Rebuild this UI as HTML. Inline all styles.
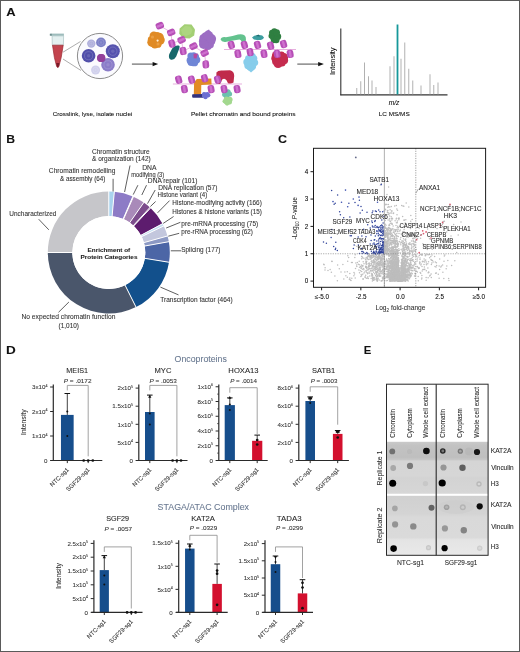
<!DOCTYPE html>
<html><head><meta charset="utf-8"><style>
html,body{margin:0;padding:0;background:#fff;}
body{width:520px;height:652px;overflow:hidden;}
svg{display:block;filter:blur(0.4px);font-family:"Liberation Sans", sans-serif;}
text{stroke:#333;stroke-width:0.08px;}
</style></head><body>
<svg width="520" height="652" viewBox="0 0 520 652">
<rect x="0" y="0" width="520" height="652" fill="#fff"/>
<text x="6.28" y="16.20" font-size="11.8" font-weight="bold" fill="#111" textLength="9.38" lengthAdjust="spacingAndGlyphs">A</text>
<text x="6.21" y="142.50" font-size="11.8" font-weight="bold" fill="#111" textLength="8.81" lengthAdjust="spacingAndGlyphs">B</text>
<text x="277.90" y="142.70" font-size="11.8" font-weight="bold" fill="#111" textLength="9.04" lengthAdjust="spacingAndGlyphs">C</text>
<text x="6.12" y="354.20" font-size="11.8" font-weight="bold" fill="#111" textLength="9.75" lengthAdjust="spacingAndGlyphs">D</text>
<text x="363.76" y="354.40" font-size="11.8" font-weight="bold" fill="#111" textLength="7.56" lengthAdjust="spacingAndGlyphs">E</text>
<path d="M50.3,33.6 L63.9,33.6 L63.9,35.9 L50.3,35.9 Z" fill="#9dbcbc"/>
<rect x="49.8" y="33.8" width="2" height="1.8" fill="#6f8f8f"/>
<path d="M52.1,35.9 L63.6,35.9 L63.4,45.3 L52.3,45.3 Z" fill="#e4f0f0" stroke="#b4caca" stroke-width="0.8"/>
<path d="M52.5,45.2 L63.2,45.2 L61.2,57.5 L59.0,66.2 Q57.8,69 56.6,66.2 L54.4,57.5 Z" fill="#c3444e" stroke="#9a2a34" stroke-width="0.7"/>
<path d="M56.2,63 L59.4,63 L58.6,66.6 Q57.8,68.6 57.0,66.6 Z" fill="#7a1a28"/>
<line x1="63.00" y1="52.20" x2="80.50" y2="41.50" stroke="#8a8a8a" stroke-width="0.7"/>
<line x1="63.00" y1="59.00" x2="81.00" y2="70.50" stroke="#8a8a8a" stroke-width="0.7"/>
<circle cx="100.00" cy="56.00" r="22.60" fill="#fbfbfe" stroke="#8c8c8c" stroke-width="1"/>
<defs><filter id="cb" x="-30%" y="-30%" width="160%" height="160%"><feGaussianBlur stdDeviation="0.45"/></filter></defs>
<g filter="url(#cb)">
<circle cx="91.30" cy="43.60" r="4.20" fill="#b0b0dc"/>
<circle cx="91.30" cy="43.60" r="2.52" fill="#b0b0dc" fill-opacity="0.6" stroke="#ffffff" stroke-opacity="0.22" stroke-width="0.7"/>
<circle cx="91.30" cy="43.60" r="1.05" fill="#ffffff" fill-opacity="0.12"/>
<circle cx="101.00" cy="42.40" r="4.90" fill="#7b7fc6"/>
<circle cx="101.00" cy="42.40" r="2.94" fill="#7b7fc6" fill-opacity="0.6" stroke="#ffffff" stroke-opacity="0.22" stroke-width="0.7"/>
<circle cx="101.00" cy="42.40" r="1.23" fill="#ffffff" fill-opacity="0.12"/>
<circle cx="88.60" cy="55.70" r="6.80" fill="#5150aa"/>
<circle cx="88.60" cy="55.70" r="4.08" fill="#5150aa" fill-opacity="0.6" stroke="#ffffff" stroke-opacity="0.22" stroke-width="0.7"/>
<circle cx="88.60" cy="55.70" r="1.70" fill="#ffffff" fill-opacity="0.12"/>
<circle cx="112.80" cy="51.20" r="7.00" fill="#5552ae"/>
<circle cx="112.80" cy="51.20" r="4.20" fill="#5552ae" fill-opacity="0.6" stroke="#ffffff" stroke-opacity="0.22" stroke-width="0.7"/>
<circle cx="112.80" cy="51.20" r="1.75" fill="#ffffff" fill-opacity="0.12"/>
<circle cx="108.00" cy="64.80" r="6.80" fill="#8a7cc8"/>
<circle cx="108.00" cy="64.80" r="4.08" fill="#8a7cc8" fill-opacity="0.6" stroke="#ffffff" stroke-opacity="0.22" stroke-width="0.7"/>
<circle cx="108.00" cy="64.80" r="1.70" fill="#ffffff" fill-opacity="0.12"/>
<circle cx="101.20" cy="58.00" r="4.10" fill="#94449c"/>
<circle cx="101.20" cy="58.00" r="2.46" fill="#94449c" fill-opacity="0.6" stroke="#ffffff" stroke-opacity="0.22" stroke-width="0.7"/>
<circle cx="101.20" cy="58.00" r="1.02" fill="#ffffff" fill-opacity="0.12"/>
<circle cx="95.60" cy="70.00" r="4.50" fill="#d0d0ec"/>
<circle cx="95.60" cy="70.00" r="2.70" fill="#d0d0ec" fill-opacity="0.6" stroke="#ffffff" stroke-opacity="0.22" stroke-width="0.7"/>
<circle cx="95.60" cy="70.00" r="1.12" fill="#ffffff" fill-opacity="0.12"/>
<circle cx="101.20" cy="58.00" r="4.10" fill="#93409a"/>
</g>
<line x1="131.90" y1="64.10" x2="153.50" y2="64.10" stroke="#6a6a6a" stroke-width="1.2"/>
<path d="M152.6,61.9 L158.2,64.1 L152.6,66.3 Z" fill="#111"/>
<line x1="297.30" y1="64.10" x2="319.00" y2="64.10" stroke="#6a6a6a" stroke-width="1.2"/>
<path d="M318.2,61.9 L323.9,64.1 L318.2,66.3 Z" fill="#111"/>
<polyline points="159.8,25.7 171.2,32.4 171.9,43.6 181.6,39.9 183.1,51.0 193.5,46.2 204.6,53.0 205.8,64.4" fill="none" stroke="#dc8cd0" stroke-width="0.6"/>
<polyline points="224.0,49.5 296.0,49.5" fill="none" stroke="#dc8cd0" stroke-width="0.7"/>
<polyline points="172.9,84.0 242.0,84.0" fill="none" stroke="#dc8cd0" stroke-width="0.7"/>
<g fill="#e08b25"><ellipse cx="155.7" cy="39.9" rx="6.1" ry="6.5" transform="rotate(0 155.7 39.9)"/><circle cx="160.0" cy="40.1" r="4.8"/><circle cx="157.7" cy="43.9" r="3.9"/><circle cx="154.9" cy="44.4" r="4.2"/><circle cx="152.0" cy="42.2" r="4.7"/><circle cx="151.4" cy="39.7" r="3.6"/><circle cx="153.8" cy="35.8" r="4.2"/><circle cx="157.0" cy="35.5" r="3.5"/><circle cx="159.2" cy="37.3" r="4.6"/></g>
<g fill="#f0a850" opacity="0.7"><circle cx="152.5" cy="37" r="1.6"/><circle cx="158" cy="44" r="1.5"/></g>
<circle cx="157.60" cy="40.60" r="1.10" fill="#fff0d8"/>
<path d="M179.6,28.5 L184.5,24.2 L191.5,24.4 L195,29.5 L194.2,35.5 L189.5,38.4 L182.8,38.0 L179.3,33.8 Z" fill="#a3cf74"/>
<path d="M181,30 L185,26 L190,26.5 L192.5,30 L191,34 L186,36 L182.5,34.5 Z" fill="#b4da88" opacity="0.6"/>
<path d="M177.8,45.5 Q180.5,44.8 179.2,48.8 L176.2,56.5 Q174.2,60.5 170.5,59.5 Q168.2,58 169.2,54.2 L172.2,48.5 Q174.5,45.2 177.8,45.5 Z" fill="#17686b"/>
<g fill="#9c6dc3"><ellipse cx="207.2" cy="40.8" rx="6.6" ry="7.5" transform="rotate(0 207.2 40.8)"/><circle cx="211.8" cy="41.2" r="3.5"/><circle cx="210.3" cy="44.7" r="3.6"/><circle cx="207.9" cy="46.0" r="4.0"/><circle cx="203.7" cy="44.3" r="4.7"/><circle cx="202.6" cy="41.2" r="3.7"/><circle cx="203.2" cy="38.1" r="3.8"/><circle cx="205.1" cy="36.1" r="3.5"/><circle cx="208.3" cy="35.7" r="4.9"/><circle cx="211.4" cy="38.7" r="4.7"/></g>
<path d="M205,31.5 L209,29.6 L211,33 Z" fill="#9c6dc3"/>
<g fill="#6f86d6"><ellipse cx="193.2" cy="58.8" rx="5.1" ry="5.3" transform="rotate(0 193.2 58.8)"/><circle cx="196.7" cy="59.8" r="3.6"/><circle cx="194.3" cy="62.4" r="3.9"/><circle cx="191.3" cy="62.0" r="3.9"/><circle cx="189.9" cy="60.4" r="3.3"/><circle cx="190.9" cy="55.9" r="3.5"/><circle cx="193.8" cy="55.1" r="2.8"/><circle cx="196.0" cy="56.4" r="3.0"/></g>
<path d="M193.5,53.8 L197.8,53.6 L196.5,58.5 L193.8,58.2 Z" fill="#b9489f"/>
<path d="M220.6,39.6 Q221,36.5 226,37.2 Q233,36.2 238,34.6 Q244.5,33.5 245.8,37.4 Q246.5,41.5 243.5,45 L241.2,44.5 Q242.6,40.5 239.5,39.6 Q233,40.6 226.5,41.8 Q221.5,42.6 220.6,39.6 Z" fill="#63c28e"/>
<path d="M252,37.5 Q254,35 258,35.2 Q262.5,34.6 264,37.4 Q262.5,40.4 258,40 Q253.5,40.4 252,37.5 Z" fill="#3d9ea0"/>
<path d="M255.5,36 L258.5,34.6 L260,36.4 Z" fill="#1e6a6e"/>
<g fill="#2f7f41"><ellipse cx="274.4" cy="36.0" rx="4.5" ry="6.7" transform="rotate(0 274.4 36.0)"/><circle cx="277.6" cy="36.5" r="3.6"/><circle cx="276.2" cy="39.9" r="3.3"/><circle cx="273.6" cy="40.6" r="2.7"/><circle cx="271.2" cy="36.0" r="2.7"/><circle cx="272.0" cy="32.8" r="3.0"/><circle cx="274.3" cy="31.3" r="3.0"/><circle cx="276.6" cy="32.6" r="3.4"/></g>
<g fill="#87cdeb"><ellipse cx="251.0" cy="62.0" rx="5.9" ry="7.5" transform="rotate(0 251.0 62.0)"/><circle cx="255.1" cy="62.7" r="3.1"/><circle cx="253.1" cy="66.6" r="3.0"/><circle cx="250.1" cy="67.2" r="3.4"/><circle cx="248.0" cy="65.6" r="3.7"/><circle cx="246.8" cy="61.9" r="3.5"/><circle cx="248.1" cy="58.2" r="3.0"/><circle cx="251.7" cy="56.8" r="4.1"/><circle cx="254.1" cy="58.5" r="3.2"/></g>
<path d="M247,69 L251,72.5 L255,69 Z" fill="#87cdeb"/>
<g fill="#c52b4e"><ellipse cx="279.6" cy="59.2" rx="6.6" ry="6.4" transform="rotate(0 279.6 59.2)"/><circle cx="284.1" cy="60.2" r="4.0"/><circle cx="282.0" cy="63.0" r="3.6"/><circle cx="278.1" cy="63.5" r="4.6"/><circle cx="275.6" cy="61.5" r="3.5"/><circle cx="275.1" cy="58.3" r="3.8"/><circle cx="276.7" cy="55.7" r="4.8"/><circle cx="281.4" cy="55.0" r="3.4"/><circle cx="283.8" cy="57.2" r="4.3"/></g>
<path d="M196.8,79.0 L211.3,78.6 L211.6,84.5 L201.3,84.9 L201.1,94.6 L193.8,94.9 L194.1,82.5 Z" fill="#e28b25"/>
<path d="M192.4,94.2 L203.2,94.0 L203.4,97.8 L192.6,97.8 Q191.5,96 192.4,94.2 Z" fill="#33337e"/>
<g fill="#6d6fd2"><ellipse cx="205.8" cy="95.0" rx="3.6" ry="2.8" transform="rotate(0 205.8 95.0)"/><circle cx="208.3" cy="95.3" r="2.1"/><circle cx="205.5" cy="97.0" r="2.2"/><circle cx="203.6" cy="96.0" r="1.8"/><circle cx="203.9" cy="93.7" r="1.8"/><circle cx="207.6" cy="93.6" r="1.7"/></g>
<path d="M216.4,72.5 Q218,70 223,70.6 L230,70.3 Q234.4,71.5 234.2,76 L233.5,82.5 Q231,84.3 228,83.2 L226.5,80.2 Q224.5,77.5 222.2,79.5 L220.3,83.8 Q217.3,84.5 216.4,81.5 Z" fill="#c02a4b"/>
<g fill="#6cc2ae"><ellipse cx="226.7" cy="93.8" rx="4.1" ry="3.3" transform="rotate(0 226.7 93.8)"/><circle cx="229.6" cy="94.0" r="2.5"/><circle cx="226.4" cy="96.1" r="2.7"/><circle cx="224.1" cy="94.8" r="2.1"/><circle cx="225.4" cy="91.8" r="2.4"/><circle cx="228.1" cy="91.8" r="2.5"/></g>
<g fill="#a3d88f"><ellipse cx="227.5" cy="101.2" rx="4.2" ry="3.4" transform="rotate(0 227.5 101.2)"/><circle cx="229.9" cy="102.6" r="2.0"/><circle cx="227.1" cy="103.6" r="2.1"/><circle cx="224.5" cy="101.2" r="2.0"/><circle cx="226.4" cy="99.0" r="2.6"/><circle cx="229.7" cy="99.6" r="2.9"/></g>
<g transform="translate(159.8 25.7) rotate(-22)"><rect x="-4.0" y="-3.3" width="8.0" height="6.6" rx="2.4" fill="#b64fb6"/><rect x="-3.5" y="-1.2" width="7.0" height="2.4" rx="1.1" fill="#d276d2" opacity="0.85"/></g>
<g transform="translate(171.2 32.4) rotate(-22)"><rect x="-4.0" y="-3.3" width="8.0" height="6.6" rx="2.4" fill="#b64fb6"/><rect x="-3.5" y="-1.2" width="7.0" height="2.4" rx="1.1" fill="#d276d2" opacity="0.85"/></g>
<g transform="translate(171.9 43.6) rotate(75)"><rect x="-4.0" y="-3.3" width="8.0" height="6.6" rx="2.4" fill="#b64fb6"/><rect x="-3.5" y="-1.2" width="7.0" height="2.4" rx="1.1" fill="#d276d2" opacity="0.85"/></g>
<g transform="translate(181.6 39.9) rotate(-25)"><rect x="-4.0" y="-3.3" width="8.0" height="6.6" rx="2.4" fill="#b64fb6"/><rect x="-3.5" y="-1.2" width="7.0" height="2.4" rx="1.1" fill="#d276d2" opacity="0.85"/></g>
<g transform="translate(183.1 51.0) rotate(80)"><rect x="-4.0" y="-3.3" width="8.0" height="6.6" rx="2.4" fill="#b64fb6"/><rect x="-3.5" y="-1.2" width="7.0" height="2.4" rx="1.1" fill="#d276d2" opacity="0.85"/></g>
<g transform="translate(193.5 46.2) rotate(-25)"><rect x="-4.0" y="-3.3" width="8.0" height="6.6" rx="2.4" fill="#b64fb6"/><rect x="-3.5" y="-1.2" width="7.0" height="2.4" rx="1.1" fill="#d276d2" opacity="0.85"/></g>
<g transform="translate(204.6 53.0) rotate(-25)"><rect x="-4.0" y="-3.3" width="8.0" height="6.6" rx="2.4" fill="#b64fb6"/><rect x="-3.5" y="-1.2" width="7.0" height="2.4" rx="1.1" fill="#d276d2" opacity="0.85"/></g>
<g transform="translate(205.8 64.4) rotate(85)"><rect x="-4.0" y="-3.3" width="8.0" height="6.6" rx="2.4" fill="#b64fb6"/><rect x="-3.5" y="-1.2" width="7.0" height="2.4" rx="1.1" fill="#d276d2" opacity="0.85"/></g>
<g transform="translate(231.3 44.9) rotate(75)"><rect x="-4.0" y="-3.3" width="8.0" height="6.6" rx="2.4" fill="#b64fb6"/><rect x="-3.5" y="-1.2" width="7.0" height="2.4" rx="1.1" fill="#d276d2" opacity="0.85"/></g>
<g transform="translate(244.4 44.9) rotate(75)"><rect x="-4.0" y="-3.3" width="8.0" height="6.6" rx="2.4" fill="#b64fb6"/><rect x="-3.5" y="-1.2" width="7.0" height="2.4" rx="1.1" fill="#d276d2" opacity="0.85"/></g>
<g transform="translate(257.5 44.9) rotate(75)"><rect x="-4.0" y="-3.3" width="8.0" height="6.6" rx="2.4" fill="#b64fb6"/><rect x="-3.5" y="-1.2" width="7.0" height="2.4" rx="1.1" fill="#d276d2" opacity="0.85"/></g>
<g transform="translate(270.6 45.7) rotate(75)"><rect x="-4.0" y="-3.3" width="8.0" height="6.6" rx="2.4" fill="#b64fb6"/><rect x="-3.5" y="-1.2" width="7.0" height="2.4" rx="1.1" fill="#d276d2" opacity="0.85"/></g>
<g transform="translate(283.6 44.1) rotate(75)"><rect x="-4.0" y="-3.3" width="8.0" height="6.6" rx="2.4" fill="#b64fb6"/><rect x="-3.5" y="-1.2" width="7.0" height="2.4" rx="1.1" fill="#d276d2" opacity="0.85"/></g>
<g transform="translate(237.9 53.9) rotate(80)"><rect x="-4.0" y="-3.3" width="8.0" height="6.6" rx="2.4" fill="#b64fb6"/><rect x="-3.5" y="-1.2" width="7.0" height="2.4" rx="1.1" fill="#d276d2" opacity="0.85"/></g>
<g transform="translate(250.1 52.2) rotate(80)"><rect x="-4.0" y="-3.3" width="8.0" height="6.6" rx="2.4" fill="#b64fb6"/><rect x="-3.5" y="-1.2" width="7.0" height="2.4" rx="1.1" fill="#d276d2" opacity="0.85"/></g>
<g transform="translate(264.0 53.9) rotate(80)"><rect x="-4.0" y="-3.3" width="8.0" height="6.6" rx="2.4" fill="#b64fb6"/><rect x="-3.5" y="-1.2" width="7.0" height="2.4" rx="1.1" fill="#d276d2" opacity="0.85"/></g>
<g transform="translate(277.1 53.9) rotate(80)"><rect x="-4.0" y="-3.3" width="8.0" height="6.6" rx="2.4" fill="#b64fb6"/><rect x="-3.5" y="-1.2" width="7.0" height="2.4" rx="1.1" fill="#d276d2" opacity="0.85"/></g>
<g transform="translate(290.2 53.9) rotate(80)"><rect x="-4.0" y="-3.3" width="8.0" height="6.6" rx="2.4" fill="#b64fb6"/><rect x="-3.5" y="-1.2" width="7.0" height="2.4" rx="1.1" fill="#d276d2" opacity="0.85"/></g>
<g transform="translate(178.7 79.7) rotate(75)"><rect x="-4.0" y="-3.3" width="8.0" height="6.6" rx="2.4" fill="#b64fb6"/><rect x="-3.5" y="-1.2" width="7.0" height="2.4" rx="1.1" fill="#d276d2" opacity="0.85"/></g>
<g transform="translate(184.4 89.1) rotate(80)"><rect x="-4.0" y="-3.3" width="8.0" height="6.6" rx="2.4" fill="#b64fb6"/><rect x="-3.5" y="-1.2" width="7.0" height="2.4" rx="1.1" fill="#d276d2" opacity="0.85"/></g>
<g transform="translate(191.6 79.7) rotate(75)"><rect x="-4.0" y="-3.3" width="8.0" height="6.6" rx="2.4" fill="#b64fb6"/><rect x="-3.5" y="-1.2" width="7.0" height="2.4" rx="1.1" fill="#d276d2" opacity="0.85"/></g>
<g transform="translate(204.6 78.3) rotate(75)"><rect x="-4.0" y="-3.3" width="8.0" height="6.6" rx="2.4" fill="#b64fb6"/><rect x="-3.5" y="-1.2" width="7.0" height="2.4" rx="1.1" fill="#d276d2" opacity="0.85"/></g>
<g transform="translate(211.1 89.1) rotate(80)"><rect x="-4.0" y="-3.3" width="8.0" height="6.6" rx="2.4" fill="#b64fb6"/><rect x="-3.5" y="-1.2" width="7.0" height="2.4" rx="1.1" fill="#d276d2" opacity="0.85"/></g>
<g transform="translate(217.6 79.7) rotate(75)"><rect x="-4.0" y="-3.3" width="8.0" height="6.6" rx="2.4" fill="#b64fb6"/><rect x="-3.5" y="-1.2" width="7.0" height="2.4" rx="1.1" fill="#d276d2" opacity="0.85"/></g>
<g transform="translate(224.1 89.1) rotate(80)"><rect x="-4.0" y="-3.3" width="8.0" height="6.6" rx="2.4" fill="#b64fb6"/><rect x="-3.5" y="-1.2" width="7.0" height="2.4" rx="1.1" fill="#d276d2" opacity="0.85"/></g>
<g transform="translate(237.1 89.1) rotate(80)"><rect x="-4.0" y="-3.3" width="8.0" height="6.6" rx="2.4" fill="#b64fb6"/><rect x="-3.5" y="-1.2" width="7.0" height="2.4" rx="1.1" fill="#d276d2" opacity="0.85"/></g>
<line x1="340.80" y1="28.50" x2="340.80" y2="95.30" stroke="#333" stroke-width="1.1"/>
<line x1="340.30" y1="94.90" x2="447.50" y2="94.90" stroke="#333" stroke-width="1.1"/>
<line x1="356.75" y1="88.00" x2="356.75" y2="94.40" stroke="#a8a8a8" stroke-width="0.9"/>
<line x1="360.75" y1="81.25" x2="360.75" y2="94.40" stroke="#a8a8a8" stroke-width="0.9"/>
<line x1="364.50" y1="62.50" x2="364.50" y2="94.40" stroke="#a8a8a8" stroke-width="0.9"/>
<line x1="368.50" y1="76.25" x2="368.50" y2="94.40" stroke="#a8a8a8" stroke-width="0.9"/>
<line x1="372.00" y1="80.50" x2="372.00" y2="94.40" stroke="#a8a8a8" stroke-width="0.9"/>
<line x1="376.00" y1="87.00" x2="376.00" y2="94.40" stroke="#a8a8a8" stroke-width="0.9"/>
<line x1="390.00" y1="66.25" x2="390.00" y2="94.40" stroke="#a8a8a8" stroke-width="0.9"/>
<line x1="394.00" y1="56.25" x2="394.00" y2="94.40" stroke="#a8a8a8" stroke-width="0.9"/>
<line x1="401.00" y1="58.75" x2="401.00" y2="94.40" stroke="#a8a8a8" stroke-width="0.9"/>
<line x1="404.75" y1="42.50" x2="404.75" y2="94.40" stroke="#a8a8a8" stroke-width="0.9"/>
<line x1="408.75" y1="68.75" x2="408.75" y2="94.40" stroke="#a8a8a8" stroke-width="0.9"/>
<line x1="412.75" y1="80.50" x2="412.75" y2="94.40" stroke="#a8a8a8" stroke-width="0.9"/>
<line x1="421.00" y1="85.50" x2="421.00" y2="94.40" stroke="#a8a8a8" stroke-width="0.9"/>
<line x1="430.00" y1="74.25" x2="430.00" y2="94.40" stroke="#a8a8a8" stroke-width="0.9"/>
<line x1="433.75" y1="85.00" x2="433.75" y2="94.40" stroke="#a8a8a8" stroke-width="0.9"/>
<line x1="438.00" y1="82.50" x2="438.00" y2="94.40" stroke="#a8a8a8" stroke-width="0.9"/>
<line x1="397.50" y1="24.50" x2="397.50" y2="94.40" stroke="#16989a" stroke-width="1.8"/>
<text x="335.40" y="61.20" font-size="7.2" text-anchor="middle" textLength="27.50" lengthAdjust="spacingAndGlyphs" transform="rotate(-90 335.40 61.20)">Intensity</text>
<text x="388.70" y="105.00" font-size="6.8" font-style="italic" textLength="10.60" lengthAdjust="spacingAndGlyphs">m/z</text>
<text x="378.69" y="116.30" font-size="6.2" textLength="31.03" lengthAdjust="spacingAndGlyphs">LC MS/MS</text>
<text x="52.79" y="116.20" font-size="6.2" textLength="79.53" lengthAdjust="spacingAndGlyphs">Crosslink, lyse, isolate nuclei</text>
<text x="190.98" y="116.20" font-size="6.2" textLength="104.66" lengthAdjust="spacingAndGlyphs">Pellet chromatin and bound proteins</text>
<path d="M47.80,252.50 A61.0,61.0 0 0 1 108.80,191.50 L108.80,216.00 A36.5,36.5 0 0 0 72.30,252.50 Z" fill="#c6c6ca"/>
<path d="M108.80,191.50 A61.0,61.0 0 0 1 114.33,191.75 L112.11,216.15 A36.5,36.5 0 0 0 108.80,216.00 Z" fill="#a9d3ee"/>
<path d="M114.33,191.75 A61.0,61.0 0 0 1 132.83,196.43 L123.18,218.95 A36.5,36.5 0 0 0 112.11,216.15 Z" fill="#8d7bc6"/>
<path d="M132.83,196.43 A61.0,61.0 0 0 1 133.42,196.69 L123.53,219.10 A36.5,36.5 0 0 0 123.18,218.95 Z" fill="#9a6fb0"/>
<path d="M133.42,196.69 A61.0,61.0 0 0 1 143.79,202.53 L129.74,222.60 A36.5,36.5 0 0 0 123.53,219.10 Z" fill="#a98ab9"/>
<path d="M143.79,202.53 A61.0,61.0 0 0 1 149.93,207.45 L133.41,225.55 A36.5,36.5 0 0 0 129.74,222.60 Z" fill="#7c4c8c"/>
<path d="M149.93,207.45 A61.0,61.0 0 0 1 150.56,208.03 L133.79,225.89 A36.5,36.5 0 0 0 133.41,225.55 Z" fill="#6a2a7a"/>
<path d="M150.56,208.03 A61.0,61.0 0 0 1 162.56,223.67 L140.97,235.25 A36.5,36.5 0 0 0 133.79,225.89 Z" fill="#5d1c6e"/>
<path d="M162.56,223.67 A61.0,61.0 0 0 1 163.72,225.95 L141.66,236.61 A36.5,36.5 0 0 0 140.97,235.25 Z" fill="#c4def2"/>
<path d="M163.72,225.95 A61.0,61.0 0 0 1 167.52,235.99 L143.94,242.62 A36.5,36.5 0 0 0 141.66,236.61 Z" fill="#c3c7dd"/>
<path d="M167.52,235.99 A61.0,61.0 0 0 1 168.84,241.70 L144.72,246.04 A36.5,36.5 0 0 0 143.94,242.62 Z" fill="#8c99c4"/>
<path d="M168.84,241.70 A61.0,61.0 0 0 1 169.02,262.25 L144.83,258.34 A36.5,36.5 0 0 0 144.72,246.04 Z" fill="#4c66a6"/>
<path d="M169.02,262.25 A61.0,61.0 0 0 1 136.02,307.09 L125.09,285.17 A36.5,36.5 0 0 0 144.83,258.34 Z" fill="#12508c"/>
<path d="M136.02,307.09 A61.0,61.0 0 0 1 47.80,252.50 L72.30,252.50 A36.5,36.5 0 0 0 125.09,285.17 Z" fill="#4a566b"/>
<line x1="108.80" y1="217.00" x2="108.80" y2="190.50" stroke="#ffffff" stroke-width="1.0"/>
<line x1="112.02" y1="217.15" x2="114.42" y2="190.76" stroke="#ffffff" stroke-width="1.0"/>
<line x1="122.78" y1="219.87" x2="133.22" y2="195.51" stroke="#ffffff" stroke-width="1.0"/>
<line x1="123.13" y1="220.02" x2="133.82" y2="195.77" stroke="#ffffff" stroke-width="1.0"/>
<line x1="129.16" y1="223.42" x2="144.36" y2="201.71" stroke="#ffffff" stroke-width="1.0"/>
<line x1="132.74" y1="226.28" x2="150.61" y2="206.72" stroke="#ffffff" stroke-width="1.0"/>
<line x1="133.10" y1="226.62" x2="151.24" y2="207.30" stroke="#ffffff" stroke-width="1.0"/>
<line x1="140.09" y1="235.72" x2="163.44" y2="223.20" stroke="#ffffff" stroke-width="1.0"/>
<line x1="140.76" y1="237.05" x2="164.62" y2="225.52" stroke="#ffffff" stroke-width="1.0"/>
<line x1="142.98" y1="242.89" x2="168.49" y2="235.72" stroke="#ffffff" stroke-width="1.0"/>
<line x1="143.74" y1="246.21" x2="169.82" y2="241.52" stroke="#ffffff" stroke-width="1.0"/>
<line x1="143.84" y1="258.18" x2="170.00" y2="262.41" stroke="#ffffff" stroke-width="1.0"/>
<line x1="124.64" y1="284.27" x2="136.46" y2="307.99" stroke="#ffffff" stroke-width="1.0"/>
<line x1="73.30" y1="252.50" x2="46.80" y2="252.50" stroke="#ffffff" stroke-width="1.0"/>
<circle cx="108.80" cy="252.50" r="36.50" fill="#ffffff"/>
<line x1="113.10" y1="178.80" x2="113.10" y2="191.50" stroke="#2a2a2a" stroke-width="0.75"/>
<line x1="130.00" y1="165.50" x2="124.60" y2="192.00" stroke="#2a2a2a" stroke-width="0.75"/>
<line x1="137.90" y1="185.20" x2="133.20" y2="194.60" stroke="#2a2a2a" stroke-width="0.75"/>
<line x1="146.50" y1="185.20" x2="141.80" y2="195.00" stroke="#2a2a2a" stroke-width="0.75"/>
<line x1="155.20" y1="190.00" x2="147.50" y2="203.60" stroke="#2a2a2a" stroke-width="0.75"/>
<line x1="155.60" y1="201.50" x2="150.40" y2="206.50" stroke="#2a2a2a" stroke-width="0.75"/>
<line x1="169.60" y1="200.60" x2="157.60" y2="212.80" stroke="#2a2a2a" stroke-width="0.75"/>
<line x1="173.60" y1="216.50" x2="163.20" y2="223.40" stroke="#2a2a2a" stroke-width="0.75"/>
<line x1="180.40" y1="222.30" x2="166.20" y2="228.00" stroke="#2a2a2a" stroke-width="0.75"/>
<line x1="179.20" y1="233.30" x2="168.30" y2="236.20" stroke="#2a2a2a" stroke-width="0.75"/>
<line x1="170.80" y1="250.80" x2="181.00" y2="250.80" stroke="#2a2a2a" stroke-width="0.75"/>
<line x1="160.40" y1="287.10" x2="178.50" y2="294.90" stroke="#2a2a2a" stroke-width="0.75"/>
<line x1="38.70" y1="219.20" x2="48.80" y2="229.80" stroke="#2a2a2a" stroke-width="0.75"/>
<line x1="58.50" y1="312.30" x2="68.90" y2="302.00" stroke="#2a2a2a" stroke-width="0.75"/>
<text x="48.87" y="173.10" font-size="6.3" fill="#333333" textLength="66.53" lengthAdjust="spacingAndGlyphs">Chromatin remodelling</text>
<text x="59.98" y="180.80" font-size="6.3" fill="#333333" textLength="45.43" lengthAdjust="spacingAndGlyphs">&amp; assembly (64)</text>
<text x="91.97" y="153.80" font-size="6.3" fill="#333333" textLength="57.70" lengthAdjust="spacingAndGlyphs">Chromatin structure</text>
<text x="92.07" y="161.20" font-size="6.3" fill="#333333" textLength="58.72" lengthAdjust="spacingAndGlyphs">&amp; organization (142)</text>
<text x="142.16" y="169.70" font-size="6.3" fill="#333333" textLength="14.35" lengthAdjust="spacingAndGlyphs">DNA</text>
<text x="131.33" y="176.50" font-size="6.3" fill="#333333" textLength="32.84" lengthAdjust="spacingAndGlyphs">modifying (3)</text>
<text x="147.87" y="182.60" font-size="6.3" fill="#333333" textLength="49.55" lengthAdjust="spacingAndGlyphs">DNA repair (101)</text>
<text x="158.27" y="189.80" font-size="6.3" fill="#333333" textLength="59.15" lengthAdjust="spacingAndGlyphs">DNA replication (57)</text>
<text x="157.41" y="197.10" font-size="6.3" fill="#333333" textLength="49.78" lengthAdjust="spacingAndGlyphs">Histone variant (4)</text>
<text x="172.39" y="204.90" font-size="6.3" fill="#333333" textLength="89.43" lengthAdjust="spacingAndGlyphs">Histone-modifying activity (166)</text>
<text x="172.19" y="213.80" font-size="6.3" fill="#333333" textLength="89.61" lengthAdjust="spacingAndGlyphs">Histones &amp; histone variants (15)</text>
<text x="181.38" y="225.60" font-size="6.3" fill="#333333" textLength="76.83" lengthAdjust="spacingAndGlyphs">pre-mRNA processing (75)</text>
<text x="181.39" y="234.20" font-size="6.3" fill="#333333" textLength="71.51" lengthAdjust="spacingAndGlyphs">pre-rRNA processing (62)</text>
<text x="181.21" y="252.30" font-size="6.3" fill="#333333" textLength="39.20" lengthAdjust="spacingAndGlyphs">Splicing (177)</text>
<text x="160.27" y="301.80" font-size="6.3" fill="#333333" textLength="72.35" lengthAdjust="spacingAndGlyphs">Transcription factor (464)</text>
<text x="9.32" y="215.80" font-size="6.3" fill="#333333" textLength="47.08" lengthAdjust="spacingAndGlyphs">Uncharacterized</text>
<text x="21.47" y="319.20" font-size="6.3" fill="#333333" textLength="93.93" lengthAdjust="spacingAndGlyphs">No expected chromatin function</text>
<text x="58.61" y="327.80" font-size="6.3" fill="#333333" textLength="20.40" lengthAdjust="spacingAndGlyphs">(1,010)</text>
<text x="87.59" y="251.60" font-size="6.1" font-weight="bold" fill="#1a1a1a" textLength="42.60" lengthAdjust="spacingAndGlyphs">Enrichment of</text>
<text x="80.58" y="259.20" font-size="6.1" font-weight="bold" fill="#1a1a1a" textLength="56.88" lengthAdjust="spacingAndGlyphs">Protein Categories</text>
<g fill="#bdbdbd">
<circle cx="390.6" cy="274.7" r="0.75"/>
<circle cx="390.0" cy="280.0" r="0.75"/>
<circle cx="390.7" cy="276.0" r="0.75"/>
<circle cx="400.1" cy="281.1" r="0.75"/>
<circle cx="396.2" cy="257.0" r="0.75"/>
<circle cx="395.9" cy="279.5" r="0.75"/>
<circle cx="398.6" cy="275.8" r="0.75"/>
<circle cx="399.1" cy="275.7" r="0.75"/>
<circle cx="399.0" cy="277.1" r="0.75"/>
<circle cx="391.9" cy="241.1" r="0.75"/>
<circle cx="397.8" cy="230.0" r="0.75"/>
<circle cx="397.5" cy="277.2" r="0.75"/>
<circle cx="392.9" cy="279.5" r="0.75"/>
<circle cx="399.9" cy="280.1" r="0.75"/>
<circle cx="404.3" cy="263.1" r="0.75"/>
<circle cx="400.9" cy="272.4" r="0.75"/>
<circle cx="403.5" cy="238.7" r="0.75"/>
<circle cx="390.4" cy="280.2" r="0.75"/>
<circle cx="400.2" cy="281.1" r="0.75"/>
<circle cx="394.8" cy="276.3" r="0.75"/>
<circle cx="399.0" cy="277.7" r="0.75"/>
<circle cx="404.4" cy="227.4" r="0.75"/>
<circle cx="396.0" cy="274.5" r="0.75"/>
<circle cx="398.8" cy="275.6" r="0.75"/>
<circle cx="399.4" cy="278.4" r="0.75"/>
<circle cx="399.2" cy="276.6" r="0.75"/>
<circle cx="396.1" cy="275.0" r="0.75"/>
<circle cx="398.8" cy="275.5" r="0.75"/>
<circle cx="395.4" cy="241.4" r="0.75"/>
<circle cx="401.9" cy="280.5" r="0.75"/>
<circle cx="405.6" cy="240.1" r="0.75"/>
<circle cx="402.0" cy="260.0" r="0.75"/>
<circle cx="392.5" cy="260.1" r="0.75"/>
<circle cx="408.2" cy="281.1" r="0.75"/>
<circle cx="401.5" cy="274.6" r="0.75"/>
<circle cx="411.2" cy="258.6" r="0.75"/>
<circle cx="412.2" cy="270.6" r="0.75"/>
<circle cx="396.5" cy="268.6" r="0.75"/>
<circle cx="393.8" cy="273.0" r="0.75"/>
<circle cx="397.3" cy="274.8" r="0.75"/>
<circle cx="387.2" cy="261.8" r="0.75"/>
<circle cx="401.2" cy="279.6" r="0.75"/>
<circle cx="404.0" cy="271.3" r="0.75"/>
<circle cx="399.1" cy="278.6" r="0.75"/>
<circle cx="396.4" cy="244.3" r="0.75"/>
<circle cx="387.4" cy="210.8" r="0.75"/>
<circle cx="410.4" cy="276.9" r="0.75"/>
<circle cx="398.9" cy="280.8" r="0.75"/>
<circle cx="388.4" cy="274.8" r="0.75"/>
<circle cx="388.6" cy="273.2" r="0.75"/>
<circle cx="394.8" cy="252.3" r="0.75"/>
<circle cx="392.5" cy="260.4" r="0.75"/>
<circle cx="401.9" cy="272.8" r="0.75"/>
<circle cx="402.7" cy="264.4" r="0.75"/>
<circle cx="392.1" cy="256.9" r="0.75"/>
<circle cx="386.0" cy="239.9" r="0.75"/>
<circle cx="390.5" cy="263.3" r="0.75"/>
<circle cx="399.0" cy="279.1" r="0.75"/>
<circle cx="405.5" cy="276.8" r="0.75"/>
<circle cx="398.9" cy="270.7" r="0.75"/>
<circle cx="387.9" cy="240.9" r="0.75"/>
<circle cx="395.0" cy="256.9" r="0.75"/>
<circle cx="403.9" cy="248.9" r="0.75"/>
<circle cx="386.3" cy="268.3" r="0.75"/>
<circle cx="399.7" cy="279.6" r="0.75"/>
<circle cx="408.0" cy="263.2" r="0.75"/>
<circle cx="393.4" cy="213.4" r="0.75"/>
<circle cx="398.0" cy="268.7" r="0.75"/>
<circle cx="390.3" cy="278.3" r="0.75"/>
<circle cx="401.2" cy="279.7" r="0.75"/>
<circle cx="403.6" cy="266.3" r="0.75"/>
<circle cx="397.9" cy="277.5" r="0.75"/>
<circle cx="409.3" cy="269.2" r="0.75"/>
<circle cx="396.5" cy="280.0" r="0.75"/>
<circle cx="398.0" cy="260.0" r="0.75"/>
<circle cx="393.2" cy="264.2" r="0.75"/>
<circle cx="391.6" cy="256.2" r="0.75"/>
<circle cx="395.5" cy="280.0" r="0.75"/>
<circle cx="398.5" cy="279.8" r="0.75"/>
<circle cx="394.2" cy="266.3" r="0.75"/>
<circle cx="405.1" cy="259.7" r="0.75"/>
<circle cx="391.3" cy="206.4" r="0.75"/>
<circle cx="397.2" cy="272.3" r="0.75"/>
<circle cx="388.8" cy="254.7" r="0.75"/>
<circle cx="405.3" cy="260.3" r="0.75"/>
<circle cx="389.5" cy="275.5" r="0.75"/>
<circle cx="401.2" cy="273.5" r="0.75"/>
<circle cx="400.6" cy="276.8" r="0.75"/>
<circle cx="404.9" cy="278.1" r="0.75"/>
<circle cx="392.3" cy="247.5" r="0.75"/>
<circle cx="396.3" cy="275.4" r="0.75"/>
<circle cx="388.3" cy="266.7" r="0.75"/>
<circle cx="398.5" cy="277.9" r="0.75"/>
<circle cx="400.2" cy="280.9" r="0.75"/>
<circle cx="399.8" cy="280.7" r="0.75"/>
<circle cx="395.9" cy="249.1" r="0.75"/>
<circle cx="404.1" cy="274.5" r="0.75"/>
<circle cx="401.3" cy="278.8" r="0.75"/>
<circle cx="395.4" cy="254.6" r="0.75"/>
<circle cx="386.7" cy="276.4" r="0.75"/>
<circle cx="389.5" cy="245.5" r="0.75"/>
<circle cx="406.8" cy="245.2" r="0.75"/>
<circle cx="394.3" cy="276.1" r="0.75"/>
<circle cx="389.8" cy="239.1" r="0.75"/>
<circle cx="396.4" cy="274.2" r="0.75"/>
<circle cx="390.7" cy="278.8" r="0.75"/>
<circle cx="395.7" cy="244.1" r="0.75"/>
<circle cx="394.2" cy="272.4" r="0.75"/>
<circle cx="398.3" cy="271.3" r="0.75"/>
<circle cx="386.3" cy="276.6" r="0.75"/>
<circle cx="401.2" cy="265.8" r="0.75"/>
<circle cx="399.2" cy="278.0" r="0.75"/>
<circle cx="395.4" cy="266.8" r="0.75"/>
<circle cx="405.2" cy="254.2" r="0.75"/>
<circle cx="397.5" cy="274.4" r="0.75"/>
<circle cx="404.5" cy="268.7" r="0.75"/>
<circle cx="402.0" cy="276.9" r="0.75"/>
<circle cx="401.1" cy="277.3" r="0.75"/>
<circle cx="392.3" cy="255.6" r="0.75"/>
<circle cx="390.4" cy="279.3" r="0.75"/>
<circle cx="387.2" cy="265.9" r="0.75"/>
<circle cx="409.8" cy="274.2" r="0.75"/>
<circle cx="395.7" cy="253.8" r="0.75"/>
<circle cx="400.7" cy="278.5" r="0.75"/>
<circle cx="401.9" cy="273.2" r="0.75"/>
<circle cx="401.6" cy="280.4" r="0.75"/>
<circle cx="410.7" cy="221.2" r="0.75"/>
<circle cx="397.4" cy="255.3" r="0.75"/>
<circle cx="397.6" cy="273.9" r="0.75"/>
<circle cx="391.1" cy="270.7" r="0.75"/>
<circle cx="399.3" cy="278.8" r="0.75"/>
<circle cx="403.2" cy="253.1" r="0.75"/>
<circle cx="400.1" cy="281.1" r="0.75"/>
<circle cx="399.2" cy="280.5" r="0.75"/>
<circle cx="397.2" cy="275.1" r="0.75"/>
<circle cx="394.7" cy="279.9" r="0.75"/>
<circle cx="391.8" cy="244.4" r="0.75"/>
<circle cx="400.6" cy="277.7" r="0.75"/>
<circle cx="393.7" cy="268.6" r="0.75"/>
<circle cx="397.3" cy="276.7" r="0.75"/>
<circle cx="393.5" cy="280.1" r="0.75"/>
<circle cx="387.7" cy="251.1" r="0.75"/>
<circle cx="404.7" cy="278.0" r="0.75"/>
<circle cx="387.9" cy="276.7" r="0.75"/>
<circle cx="395.6" cy="266.2" r="0.75"/>
<circle cx="404.3" cy="276.5" r="0.75"/>
<circle cx="411.6" cy="268.0" r="0.75"/>
<circle cx="405.0" cy="264.6" r="0.75"/>
<circle cx="396.6" cy="264.6" r="0.75"/>
<circle cx="390.7" cy="277.5" r="0.75"/>
<circle cx="397.6" cy="245.1" r="0.75"/>
<circle cx="399.6" cy="281.1" r="0.75"/>
<circle cx="410.4" cy="261.9" r="0.75"/>
<circle cx="395.6" cy="230.8" r="0.75"/>
<circle cx="389.9" cy="278.6" r="0.75"/>
<circle cx="395.6" cy="243.5" r="0.75"/>
<circle cx="401.5" cy="276.4" r="0.75"/>
<circle cx="398.4" cy="278.3" r="0.75"/>
<circle cx="396.4" cy="262.9" r="0.75"/>
<circle cx="401.1" cy="278.2" r="0.75"/>
<circle cx="401.3" cy="276.1" r="0.75"/>
<circle cx="396.0" cy="280.3" r="0.75"/>
<circle cx="398.7" cy="276.6" r="0.75"/>
<circle cx="398.6" cy="267.4" r="0.75"/>
<circle cx="405.7" cy="232.8" r="0.75"/>
<circle cx="403.1" cy="248.1" r="0.75"/>
<circle cx="403.4" cy="235.9" r="0.75"/>
<circle cx="399.9" cy="280.0" r="0.75"/>
<circle cx="395.7" cy="234.9" r="0.75"/>
<circle cx="400.9" cy="279.5" r="0.75"/>
<circle cx="396.0" cy="274.5" r="0.75"/>
<circle cx="394.8" cy="279.6" r="0.75"/>
<circle cx="394.6" cy="264.8" r="0.75"/>
<circle cx="392.5" cy="272.4" r="0.75"/>
<circle cx="393.9" cy="254.7" r="0.75"/>
<circle cx="395.0" cy="254.1" r="0.75"/>
<circle cx="405.8" cy="269.8" r="0.75"/>
<circle cx="393.9" cy="272.4" r="0.75"/>
<circle cx="390.9" cy="250.7" r="0.75"/>
<circle cx="390.5" cy="221.2" r="0.75"/>
<circle cx="396.1" cy="268.6" r="0.75"/>
<circle cx="399.5" cy="280.2" r="0.75"/>
<circle cx="395.9" cy="274.6" r="0.75"/>
<circle cx="398.8" cy="271.7" r="0.75"/>
<circle cx="395.2" cy="269.5" r="0.75"/>
<circle cx="398.3" cy="236.5" r="0.75"/>
<circle cx="405.5" cy="260.0" r="0.75"/>
<circle cx="398.2" cy="273.1" r="0.75"/>
<circle cx="397.2" cy="250.2" r="0.75"/>
<circle cx="387.8" cy="239.1" r="0.75"/>
<circle cx="397.4" cy="242.9" r="0.75"/>
<circle cx="396.0" cy="275.5" r="0.75"/>
<circle cx="399.9" cy="281.0" r="0.75"/>
<circle cx="389.0" cy="275.4" r="0.75"/>
<circle cx="399.7" cy="279.4" r="0.75"/>
<circle cx="406.6" cy="253.9" r="0.75"/>
<circle cx="391.9" cy="247.1" r="0.75"/>
<circle cx="395.8" cy="259.8" r="0.75"/>
<circle cx="409.7" cy="267.3" r="0.75"/>
<circle cx="399.4" cy="278.3" r="0.75"/>
<circle cx="386.8" cy="243.7" r="0.75"/>
<circle cx="394.2" cy="268.7" r="0.75"/>
<circle cx="393.2" cy="270.9" r="0.75"/>
<circle cx="388.2" cy="269.3" r="0.75"/>
<circle cx="394.4" cy="277.0" r="0.75"/>
<circle cx="401.2" cy="265.8" r="0.75"/>
<circle cx="397.0" cy="240.8" r="0.75"/>
<circle cx="391.5" cy="279.0" r="0.75"/>
<circle cx="395.8" cy="275.1" r="0.75"/>
<circle cx="399.0" cy="279.0" r="0.75"/>
<circle cx="396.3" cy="263.7" r="0.75"/>
<circle cx="405.3" cy="280.8" r="0.75"/>
<circle cx="401.8" cy="263.3" r="0.75"/>
<circle cx="396.4" cy="257.8" r="0.75"/>
<circle cx="410.7" cy="260.1" r="0.75"/>
<circle cx="398.0" cy="273.5" r="0.75"/>
<circle cx="385.3" cy="269.5" r="0.75"/>
<circle cx="390.1" cy="263.2" r="0.75"/>
<circle cx="387.2" cy="254.7" r="0.75"/>
<circle cx="396.4" cy="272.7" r="0.75"/>
<circle cx="399.3" cy="277.4" r="0.75"/>
<circle cx="397.4" cy="276.1" r="0.75"/>
<circle cx="403.6" cy="275.3" r="0.75"/>
<circle cx="397.4" cy="262.7" r="0.75"/>
<circle cx="403.3" cy="278.5" r="0.75"/>
<circle cx="399.6" cy="276.6" r="0.75"/>
<circle cx="400.6" cy="280.2" r="0.75"/>
<circle cx="398.6" cy="267.3" r="0.75"/>
<circle cx="398.4" cy="274.4" r="0.75"/>
<circle cx="402.3" cy="259.6" r="0.75"/>
<circle cx="387.5" cy="266.2" r="0.75"/>
<circle cx="407.5" cy="256.7" r="0.75"/>
<circle cx="393.5" cy="278.4" r="0.75"/>
<circle cx="407.6" cy="271.2" r="0.75"/>
<circle cx="390.9" cy="277.6" r="0.75"/>
<circle cx="395.4" cy="247.3" r="0.75"/>
<circle cx="398.7" cy="277.5" r="0.75"/>
<circle cx="389.0" cy="272.4" r="0.75"/>
<circle cx="400.6" cy="279.5" r="0.75"/>
<circle cx="392.6" cy="267.8" r="0.75"/>
<circle cx="397.5" cy="231.6" r="0.75"/>
<circle cx="402.6" cy="251.5" r="0.75"/>
<circle cx="401.7" cy="277.2" r="0.75"/>
<circle cx="403.2" cy="270.0" r="0.75"/>
<circle cx="405.2" cy="274.9" r="0.75"/>
<circle cx="394.4" cy="252.9" r="0.75"/>
<circle cx="399.9" cy="281.0" r="0.75"/>
<circle cx="399.6" cy="278.7" r="0.75"/>
<circle cx="403.8" cy="254.3" r="0.75"/>
<circle cx="396.9" cy="274.8" r="0.75"/>
<circle cx="388.7" cy="275.6" r="0.75"/>
<circle cx="402.3" cy="272.2" r="0.75"/>
<circle cx="408.4" cy="274.5" r="0.75"/>
<circle cx="403.4" cy="279.8" r="0.75"/>
<circle cx="398.3" cy="267.3" r="0.75"/>
<circle cx="398.9" cy="279.8" r="0.75"/>
<circle cx="394.0" cy="277.0" r="0.75"/>
<circle cx="403.2" cy="276.5" r="0.75"/>
<circle cx="402.8" cy="274.6" r="0.75"/>
<circle cx="393.9" cy="279.3" r="0.75"/>
<circle cx="392.6" cy="256.0" r="0.75"/>
<circle cx="394.2" cy="267.2" r="0.75"/>
<circle cx="405.0" cy="266.8" r="0.75"/>
<circle cx="400.3" cy="280.7" r="0.75"/>
<circle cx="395.6" cy="277.0" r="0.75"/>
<circle cx="399.4" cy="279.7" r="0.75"/>
<circle cx="409.5" cy="264.3" r="0.75"/>
<circle cx="389.4" cy="279.3" r="0.75"/>
<circle cx="393.8" cy="271.1" r="0.75"/>
<circle cx="403.6" cy="279.4" r="0.75"/>
<circle cx="407.9" cy="277.7" r="0.75"/>
<circle cx="396.9" cy="279.0" r="0.75"/>
<circle cx="393.1" cy="250.6" r="0.75"/>
<circle cx="402.6" cy="273.7" r="0.75"/>
<circle cx="387.2" cy="265.3" r="0.75"/>
<circle cx="406.1" cy="247.6" r="0.75"/>
<circle cx="393.9" cy="232.5" r="0.75"/>
<circle cx="395.4" cy="249.6" r="0.75"/>
<circle cx="405.4" cy="273.0" r="0.75"/>
<circle cx="401.5" cy="278.1" r="0.75"/>
<circle cx="396.1" cy="266.8" r="0.75"/>
<circle cx="393.6" cy="262.2" r="0.75"/>
<circle cx="397.2" cy="263.6" r="0.75"/>
<circle cx="393.6" cy="268.8" r="0.75"/>
<circle cx="396.1" cy="249.9" r="0.75"/>
<circle cx="397.2" cy="258.4" r="0.75"/>
<circle cx="405.3" cy="271.1" r="0.75"/>
<circle cx="395.1" cy="275.8" r="0.75"/>
<circle cx="394.5" cy="277.3" r="0.75"/>
<circle cx="398.4" cy="257.5" r="0.75"/>
<circle cx="396.6" cy="272.1" r="0.75"/>
<circle cx="405.8" cy="264.4" r="0.75"/>
<circle cx="403.0" cy="269.8" r="0.75"/>
<circle cx="398.1" cy="273.6" r="0.75"/>
<circle cx="402.2" cy="273.4" r="0.75"/>
<circle cx="404.0" cy="267.2" r="0.75"/>
<circle cx="395.6" cy="268.6" r="0.75"/>
<circle cx="405.4" cy="275.3" r="0.75"/>
<circle cx="390.8" cy="268.6" r="0.75"/>
<circle cx="397.8" cy="263.8" r="0.75"/>
<circle cx="403.8" cy="252.8" r="0.75"/>
<circle cx="390.9" cy="272.3" r="0.75"/>
<circle cx="391.6" cy="278.3" r="0.75"/>
<circle cx="406.5" cy="271.9" r="0.75"/>
<circle cx="396.9" cy="258.4" r="0.75"/>
<circle cx="395.1" cy="253.6" r="0.75"/>
<circle cx="402.2" cy="280.6" r="0.75"/>
<circle cx="395.3" cy="261.6" r="0.75"/>
<circle cx="395.7" cy="265.1" r="0.75"/>
<circle cx="409.4" cy="265.5" r="0.75"/>
<circle cx="391.9" cy="251.7" r="0.75"/>
<circle cx="399.4" cy="276.3" r="0.75"/>
<circle cx="399.9" cy="281.0" r="0.75"/>
<circle cx="402.9" cy="266.3" r="0.75"/>
<circle cx="402.1" cy="281.1" r="0.75"/>
<circle cx="396.8" cy="275.7" r="0.75"/>
<circle cx="400.1" cy="281.1" r="0.75"/>
<circle cx="396.2" cy="256.6" r="0.75"/>
<circle cx="394.8" cy="241.6" r="0.75"/>
<circle cx="397.9" cy="271.4" r="0.75"/>
<circle cx="398.4" cy="262.2" r="0.75"/>
<circle cx="392.0" cy="267.8" r="0.75"/>
<circle cx="393.1" cy="240.6" r="0.75"/>
<circle cx="384.7" cy="269.2" r="0.75"/>
<circle cx="394.9" cy="259.7" r="0.75"/>
<circle cx="403.5" cy="253.4" r="0.75"/>
<circle cx="390.9" cy="263.8" r="0.75"/>
<circle cx="404.5" cy="270.5" r="0.75"/>
<circle cx="399.7" cy="280.9" r="0.75"/>
<circle cx="394.0" cy="278.8" r="0.75"/>
<circle cx="406.3" cy="263.7" r="0.75"/>
<circle cx="403.9" cy="270.8" r="0.75"/>
<circle cx="395.5" cy="258.6" r="0.75"/>
<circle cx="393.9" cy="276.4" r="0.75"/>
<circle cx="395.8" cy="261.8" r="0.75"/>
<circle cx="400.4" cy="280.0" r="0.75"/>
<circle cx="400.0" cy="279.5" r="0.75"/>
<circle cx="395.6" cy="253.3" r="0.75"/>
<circle cx="396.4" cy="260.1" r="0.75"/>
<circle cx="411.5" cy="223.6" r="0.75"/>
<circle cx="400.1" cy="280.9" r="0.75"/>
<circle cx="406.6" cy="271.9" r="0.75"/>
<circle cx="404.4" cy="265.3" r="0.75"/>
<circle cx="404.3" cy="261.1" r="0.75"/>
<circle cx="397.0" cy="272.8" r="0.75"/>
<circle cx="391.3" cy="267.5" r="0.75"/>
<circle cx="406.7" cy="279.4" r="0.75"/>
<circle cx="404.0" cy="277.9" r="0.75"/>
<circle cx="393.6" cy="277.1" r="0.75"/>
<circle cx="405.3" cy="258.8" r="0.75"/>
<circle cx="399.5" cy="276.0" r="0.75"/>
<circle cx="392.5" cy="279.2" r="0.75"/>
<circle cx="398.6" cy="272.8" r="0.75"/>
<circle cx="400.2" cy="281.0" r="0.75"/>
<circle cx="395.6" cy="261.8" r="0.75"/>
<circle cx="394.7" cy="280.4" r="0.75"/>
<circle cx="401.0" cy="277.3" r="0.75"/>
<circle cx="399.1" cy="277.0" r="0.75"/>
<circle cx="397.0" cy="254.4" r="0.75"/>
<circle cx="403.4" cy="280.8" r="0.75"/>
<circle cx="401.2" cy="263.1" r="0.75"/>
<circle cx="393.1" cy="272.5" r="0.75"/>
<circle cx="399.4" cy="280.9" r="0.75"/>
<circle cx="398.9" cy="260.6" r="0.75"/>
<circle cx="400.4" cy="280.3" r="0.75"/>
<circle cx="398.8" cy="276.6" r="0.75"/>
<circle cx="402.3" cy="275.8" r="0.75"/>
<circle cx="407.6" cy="277.1" r="0.75"/>
<circle cx="397.6" cy="259.7" r="0.75"/>
<circle cx="384.7" cy="271.7" r="0.75"/>
<circle cx="405.7" cy="238.9" r="0.75"/>
<circle cx="402.6" cy="267.0" r="0.75"/>
<circle cx="399.7" cy="279.5" r="0.75"/>
<circle cx="391.9" cy="264.6" r="0.75"/>
<circle cx="399.1" cy="280.4" r="0.75"/>
<circle cx="393.8" cy="272.4" r="0.75"/>
<circle cx="404.5" cy="277.7" r="0.75"/>
<circle cx="401.6" cy="277.7" r="0.75"/>
<circle cx="403.6" cy="266.6" r="0.75"/>
<circle cx="387.3" cy="276.2" r="0.75"/>
<circle cx="399.3" cy="281.0" r="0.75"/>
<circle cx="398.9" cy="280.6" r="0.75"/>
<circle cx="403.5" cy="278.2" r="0.75"/>
<circle cx="393.3" cy="258.4" r="0.75"/>
<circle cx="409.0" cy="275.1" r="0.75"/>
<circle cx="388.5" cy="249.6" r="0.75"/>
<circle cx="393.2" cy="255.2" r="0.75"/>
<circle cx="403.2" cy="275.4" r="0.75"/>
<circle cx="401.0" cy="280.5" r="0.75"/>
<circle cx="402.7" cy="278.2" r="0.75"/>
<circle cx="394.7" cy="278.6" r="0.75"/>
<circle cx="397.1" cy="253.9" r="0.75"/>
<circle cx="400.1" cy="281.1" r="0.75"/>
<circle cx="396.4" cy="264.3" r="0.75"/>
<circle cx="400.5" cy="280.2" r="0.75"/>
<circle cx="395.5" cy="231.5" r="0.75"/>
<circle cx="399.0" cy="271.5" r="0.75"/>
<circle cx="393.5" cy="273.6" r="0.75"/>
<circle cx="406.0" cy="275.6" r="0.75"/>
<circle cx="406.4" cy="248.3" r="0.75"/>
<circle cx="394.5" cy="276.1" r="0.75"/>
<circle cx="395.9" cy="276.4" r="0.75"/>
<circle cx="399.0" cy="278.0" r="0.75"/>
<circle cx="403.8" cy="271.8" r="0.75"/>
<circle cx="402.7" cy="268.6" r="0.75"/>
<circle cx="405.2" cy="268.2" r="0.75"/>
<circle cx="400.7" cy="279.2" r="0.75"/>
<circle cx="404.0" cy="263.0" r="0.75"/>
<circle cx="393.5" cy="271.3" r="0.75"/>
<circle cx="398.8" cy="272.0" r="0.75"/>
<circle cx="398.0" cy="261.5" r="0.75"/>
<circle cx="390.7" cy="234.2" r="0.75"/>
<circle cx="395.9" cy="271.6" r="0.75"/>
<circle cx="386.9" cy="253.2" r="0.75"/>
<circle cx="407.1" cy="270.8" r="0.75"/>
<circle cx="393.4" cy="269.1" r="0.75"/>
<circle cx="396.0" cy="249.6" r="0.75"/>
<circle cx="388.4" cy="253.3" r="0.75"/>
<circle cx="403.0" cy="206.0" r="0.75"/>
<circle cx="399.2" cy="278.2" r="0.75"/>
<circle cx="397.8" cy="280.4" r="0.75"/>
<circle cx="394.4" cy="273.3" r="0.75"/>
<circle cx="393.4" cy="263.8" r="0.75"/>
<circle cx="387.6" cy="269.2" r="0.75"/>
<circle cx="390.8" cy="252.1" r="0.75"/>
<circle cx="394.8" cy="256.8" r="0.75"/>
<circle cx="399.3" cy="279.0" r="0.75"/>
<circle cx="390.3" cy="279.0" r="0.75"/>
<circle cx="397.7" cy="261.3" r="0.75"/>
<circle cx="397.8" cy="267.4" r="0.75"/>
<circle cx="394.7" cy="266.1" r="0.75"/>
<circle cx="398.9" cy="280.2" r="0.75"/>
<circle cx="395.0" cy="278.4" r="0.75"/>
<circle cx="387.4" cy="276.4" r="0.75"/>
<circle cx="396.6" cy="266.4" r="0.75"/>
<circle cx="398.4" cy="261.4" r="0.75"/>
<circle cx="392.2" cy="273.8" r="0.75"/>
<circle cx="402.8" cy="243.2" r="0.75"/>
<circle cx="403.8" cy="258.5" r="0.75"/>
<circle cx="385.9" cy="248.1" r="0.75"/>
<circle cx="395.4" cy="264.8" r="0.75"/>
<circle cx="387.0" cy="242.9" r="0.75"/>
<circle cx="397.1" cy="268.2" r="0.75"/>
<circle cx="406.9" cy="272.5" r="0.75"/>
<circle cx="397.6" cy="260.6" r="0.75"/>
<circle cx="398.9" cy="277.4" r="0.75"/>
<circle cx="401.3" cy="278.3" r="0.75"/>
<circle cx="393.7" cy="259.8" r="0.75"/>
<circle cx="391.1" cy="261.1" r="0.75"/>
<circle cx="403.5" cy="263.5" r="0.75"/>
<circle cx="401.8" cy="278.0" r="0.75"/>
<circle cx="401.5" cy="272.8" r="0.75"/>
<circle cx="396.4" cy="271.5" r="0.75"/>
<circle cx="394.5" cy="265.0" r="0.75"/>
<circle cx="398.4" cy="277.5" r="0.75"/>
<circle cx="398.4" cy="279.6" r="0.75"/>
<circle cx="399.9" cy="279.4" r="0.75"/>
<circle cx="399.8" cy="280.3" r="0.75"/>
<circle cx="392.8" cy="247.7" r="0.75"/>
<circle cx="389.7" cy="268.7" r="0.75"/>
<circle cx="408.5" cy="268.4" r="0.75"/>
<circle cx="387.4" cy="263.1" r="0.75"/>
<circle cx="401.2" cy="270.5" r="0.75"/>
<circle cx="400.2" cy="281.1" r="0.75"/>
<circle cx="392.7" cy="269.5" r="0.75"/>
<circle cx="398.0" cy="264.8" r="0.75"/>
<circle cx="398.2" cy="276.2" r="0.75"/>
<circle cx="388.6" cy="270.7" r="0.75"/>
<circle cx="387.5" cy="247.6" r="0.75"/>
<circle cx="406.2" cy="203.1" r="0.75"/>
<circle cx="394.1" cy="275.4" r="0.75"/>
<circle cx="392.0" cy="262.9" r="0.75"/>
<circle cx="394.2" cy="269.0" r="0.75"/>
<circle cx="402.0" cy="260.7" r="0.75"/>
<circle cx="406.0" cy="274.4" r="0.75"/>
<circle cx="407.0" cy="261.0" r="0.75"/>
<circle cx="401.1" cy="277.3" r="0.75"/>
<circle cx="404.6" cy="279.9" r="0.75"/>
<circle cx="394.6" cy="262.1" r="0.75"/>
<circle cx="401.1" cy="270.9" r="0.75"/>
<circle cx="397.8" cy="273.9" r="0.75"/>
<circle cx="404.1" cy="277.8" r="0.75"/>
<circle cx="403.6" cy="275.2" r="0.75"/>
<circle cx="401.9" cy="271.8" r="0.75"/>
<circle cx="394.0" cy="268.7" r="0.75"/>
<circle cx="399.6" cy="278.5" r="0.75"/>
<circle cx="402.8" cy="262.4" r="0.75"/>
<circle cx="395.1" cy="277.7" r="0.75"/>
<circle cx="395.4" cy="263.8" r="0.75"/>
<circle cx="392.7" cy="273.0" r="0.75"/>
<circle cx="391.6" cy="260.2" r="0.75"/>
<circle cx="393.3" cy="267.9" r="0.75"/>
<circle cx="386.6" cy="259.1" r="0.75"/>
<circle cx="407.2" cy="279.9" r="0.75"/>
<circle cx="403.6" cy="280.0" r="0.75"/>
<circle cx="410.1" cy="244.3" r="0.75"/>
<circle cx="398.9" cy="268.1" r="0.75"/>
<circle cx="407.8" cy="268.9" r="0.75"/>
<circle cx="396.4" cy="249.6" r="0.75"/>
<circle cx="402.4" cy="281.0" r="0.75"/>
<circle cx="408.3" cy="248.0" r="0.75"/>
<circle cx="395.1" cy="230.9" r="0.75"/>
<circle cx="388.1" cy="264.9" r="0.75"/>
<circle cx="401.3" cy="269.3" r="0.75"/>
<circle cx="385.7" cy="263.1" r="0.75"/>
<circle cx="396.0" cy="240.8" r="0.75"/>
<circle cx="407.3" cy="276.8" r="0.75"/>
<circle cx="395.2" cy="255.9" r="0.75"/>
<circle cx="405.0" cy="275.8" r="0.75"/>
<circle cx="396.4" cy="274.7" r="0.75"/>
<circle cx="405.6" cy="279.5" r="0.75"/>
<circle cx="393.9" cy="278.4" r="0.75"/>
<circle cx="398.2" cy="274.4" r="0.75"/>
<circle cx="405.3" cy="260.3" r="0.75"/>
<circle cx="392.3" cy="263.0" r="0.75"/>
<circle cx="404.2" cy="275.3" r="0.75"/>
<circle cx="399.8" cy="280.4" r="0.75"/>
<circle cx="394.3" cy="255.1" r="0.75"/>
<circle cx="397.5" cy="271.8" r="0.75"/>
<circle cx="401.6" cy="273.7" r="0.75"/>
<circle cx="404.3" cy="273.7" r="0.75"/>
<circle cx="392.4" cy="240.7" r="0.75"/>
<circle cx="397.2" cy="277.5" r="0.75"/>
<circle cx="393.7" cy="273.6" r="0.75"/>
<circle cx="409.3" cy="265.5" r="0.75"/>
<circle cx="390.8" cy="265.7" r="0.75"/>
<circle cx="395.4" cy="275.2" r="0.75"/>
<circle cx="398.4" cy="279.0" r="0.75"/>
<circle cx="403.9" cy="274.1" r="0.75"/>
<circle cx="406.4" cy="244.5" r="0.75"/>
<circle cx="401.2" cy="278.3" r="0.75"/>
<circle cx="391.9" cy="254.7" r="0.75"/>
<circle cx="395.2" cy="278.9" r="0.75"/>
<circle cx="402.4" cy="273.4" r="0.75"/>
<circle cx="396.3" cy="256.2" r="0.75"/>
<circle cx="409.1" cy="254.3" r="0.75"/>
<circle cx="392.9" cy="268.9" r="0.75"/>
<circle cx="402.7" cy="270.1" r="0.75"/>
<circle cx="390.8" cy="228.6" r="0.75"/>
<circle cx="395.1" cy="265.6" r="0.75"/>
<circle cx="390.4" cy="263.8" r="0.75"/>
<circle cx="400.4" cy="280.5" r="0.75"/>
<circle cx="395.5" cy="274.2" r="0.75"/>
<circle cx="397.6" cy="274.1" r="0.75"/>
<circle cx="392.9" cy="262.0" r="0.75"/>
<circle cx="397.5" cy="250.1" r="0.75"/>
<circle cx="398.2" cy="275.3" r="0.75"/>
<circle cx="409.2" cy="277.8" r="0.75"/>
<circle cx="398.8" cy="280.1" r="0.75"/>
<circle cx="390.8" cy="273.8" r="0.75"/>
<circle cx="393.0" cy="248.6" r="0.75"/>
<circle cx="403.7" cy="270.4" r="0.75"/>
<circle cx="398.5" cy="274.1" r="0.75"/>
<circle cx="401.6" cy="279.1" r="0.75"/>
<circle cx="391.7" cy="270.4" r="0.75"/>
<circle cx="399.7" cy="280.4" r="0.75"/>
<circle cx="391.9" cy="278.4" r="0.75"/>
<circle cx="403.6" cy="243.8" r="0.75"/>
<circle cx="406.6" cy="275.2" r="0.75"/>
<circle cx="388.6" cy="273.0" r="0.75"/>
<circle cx="398.2" cy="244.7" r="0.75"/>
<circle cx="395.7" cy="277.7" r="0.75"/>
<circle cx="407.7" cy="256.6" r="0.75"/>
<circle cx="389.3" cy="279.4" r="0.75"/>
<circle cx="391.5" cy="272.8" r="0.75"/>
<circle cx="394.8" cy="254.6" r="0.75"/>
<circle cx="393.6" cy="267.8" r="0.75"/>
<circle cx="393.9" cy="267.1" r="0.75"/>
<circle cx="408.3" cy="237.0" r="0.75"/>
<circle cx="396.5" cy="266.2" r="0.75"/>
<circle cx="394.2" cy="270.5" r="0.75"/>
<circle cx="398.9" cy="270.8" r="0.75"/>
<circle cx="403.7" cy="280.1" r="0.75"/>
<circle cx="405.5" cy="280.1" r="0.75"/>
<circle cx="392.5" cy="264.0" r="0.75"/>
<circle cx="395.2" cy="259.0" r="0.75"/>
<circle cx="395.0" cy="262.8" r="0.75"/>
<circle cx="397.8" cy="280.8" r="0.75"/>
<circle cx="402.4" cy="276.7" r="0.75"/>
<circle cx="391.9" cy="262.9" r="0.75"/>
<circle cx="400.5" cy="278.3" r="0.75"/>
<circle cx="396.7" cy="268.2" r="0.75"/>
<circle cx="407.5" cy="277.5" r="0.75"/>
<circle cx="396.2" cy="258.4" r="0.75"/>
<circle cx="400.2" cy="280.9" r="0.75"/>
<circle cx="406.6" cy="269.7" r="0.75"/>
<circle cx="407.2" cy="276.8" r="0.75"/>
<circle cx="410.6" cy="273.6" r="0.75"/>
<circle cx="391.6" cy="280.9" r="0.75"/>
<circle cx="392.1" cy="263.5" r="0.75"/>
<circle cx="401.2" cy="273.0" r="0.75"/>
<circle cx="405.1" cy="275.9" r="0.75"/>
<circle cx="392.4" cy="242.0" r="0.75"/>
<circle cx="401.3" cy="279.1" r="0.75"/>
<circle cx="386.9" cy="236.0" r="0.75"/>
<circle cx="393.1" cy="266.1" r="0.75"/>
<circle cx="400.1" cy="281.1" r="0.75"/>
<circle cx="394.8" cy="241.1" r="0.75"/>
<circle cx="397.6" cy="270.9" r="0.75"/>
<circle cx="399.3" cy="277.9" r="0.75"/>
<circle cx="393.2" cy="262.7" r="0.75"/>
<circle cx="391.9" cy="266.8" r="0.75"/>
<circle cx="392.0" cy="271.3" r="0.75"/>
<circle cx="396.4" cy="269.4" r="0.75"/>
<circle cx="396.8" cy="259.1" r="0.75"/>
<circle cx="407.7" cy="268.7" r="0.75"/>
<circle cx="396.5" cy="263.4" r="0.75"/>
<circle cx="392.0" cy="255.9" r="0.75"/>
<circle cx="394.3" cy="280.9" r="0.75"/>
<circle cx="395.0" cy="278.5" r="0.75"/>
<circle cx="396.5" cy="261.6" r="0.75"/>
<circle cx="394.7" cy="257.0" r="0.75"/>
<circle cx="409.4" cy="275.2" r="0.75"/>
<circle cx="395.3" cy="274.5" r="0.75"/>
<circle cx="404.6" cy="260.2" r="0.75"/>
<circle cx="404.5" cy="250.0" r="0.75"/>
<circle cx="390.0" cy="237.3" r="0.75"/>
<circle cx="408.5" cy="264.0" r="0.75"/>
<circle cx="390.4" cy="281.1" r="0.75"/>
<circle cx="398.9" cy="271.3" r="0.75"/>
<circle cx="393.1" cy="279.8" r="0.75"/>
<circle cx="396.5" cy="261.2" r="0.75"/>
<circle cx="403.9" cy="252.7" r="0.75"/>
<circle cx="392.1" cy="267.6" r="0.75"/>
<circle cx="390.8" cy="229.7" r="0.75"/>
<circle cx="410.6" cy="267.8" r="0.75"/>
<circle cx="398.7" cy="275.6" r="0.75"/>
<circle cx="391.3" cy="261.2" r="0.75"/>
<circle cx="392.8" cy="274.8" r="0.75"/>
<circle cx="400.4" cy="280.9" r="0.75"/>
<circle cx="396.5" cy="275.6" r="0.75"/>
<circle cx="403.8" cy="250.6" r="0.75"/>
<circle cx="397.4" cy="276.9" r="0.75"/>
<circle cx="396.3" cy="277.3" r="0.75"/>
<circle cx="398.3" cy="264.9" r="0.75"/>
<circle cx="396.8" cy="239.0" r="0.75"/>
<circle cx="394.1" cy="279.3" r="0.75"/>
<circle cx="393.6" cy="265.3" r="0.75"/>
<circle cx="396.1" cy="264.2" r="0.75"/>
<circle cx="403.7" cy="271.8" r="0.75"/>
<circle cx="405.1" cy="271.1" r="0.75"/>
<circle cx="402.7" cy="269.2" r="0.75"/>
<circle cx="384.6" cy="244.4" r="0.75"/>
<circle cx="393.7" cy="261.6" r="0.75"/>
<circle cx="398.6" cy="276.4" r="0.75"/>
<circle cx="390.4" cy="274.5" r="0.75"/>
<circle cx="396.7" cy="273.0" r="0.75"/>
<circle cx="398.3" cy="279.8" r="0.75"/>
<circle cx="402.0" cy="265.2" r="0.75"/>
<circle cx="389.2" cy="259.1" r="0.75"/>
<circle cx="407.1" cy="268.6" r="0.75"/>
<circle cx="400.7" cy="278.7" r="0.75"/>
<circle cx="397.2" cy="278.7" r="0.75"/>
<circle cx="397.2" cy="258.7" r="0.75"/>
<circle cx="393.3" cy="259.3" r="0.75"/>
<circle cx="398.9" cy="268.1" r="0.75"/>
<circle cx="400.4" cy="280.6" r="0.75"/>
<circle cx="398.8" cy="275.0" r="0.75"/>
<circle cx="395.2" cy="270.2" r="0.75"/>
<circle cx="397.4" cy="246.4" r="0.75"/>
<circle cx="398.3" cy="271.8" r="0.75"/>
<circle cx="396.5" cy="256.0" r="0.75"/>
<circle cx="395.5" cy="279.4" r="0.75"/>
<circle cx="397.9" cy="271.0" r="0.75"/>
<circle cx="403.3" cy="280.1" r="0.75"/>
<circle cx="388.3" cy="274.2" r="0.75"/>
<circle cx="399.8" cy="280.0" r="0.75"/>
<circle cx="406.5" cy="275.9" r="0.75"/>
<circle cx="405.3" cy="271.2" r="0.75"/>
<circle cx="392.1" cy="253.9" r="0.75"/>
<circle cx="396.1" cy="250.0" r="0.75"/>
<circle cx="387.5" cy="212.3" r="0.75"/>
<circle cx="401.3" cy="268.5" r="0.75"/>
<circle cx="386.9" cy="275.0" r="0.75"/>
<circle cx="401.1" cy="278.2" r="0.75"/>
<circle cx="401.1" cy="279.7" r="0.75"/>
<circle cx="402.5" cy="277.0" r="0.75"/>
<circle cx="402.8" cy="266.6" r="0.75"/>
<circle cx="388.8" cy="269.2" r="0.75"/>
<circle cx="401.3" cy="272.3" r="0.75"/>
<circle cx="406.9" cy="263.3" r="0.75"/>
<circle cx="394.6" cy="270.5" r="0.75"/>
<circle cx="404.3" cy="269.0" r="0.75"/>
<circle cx="388.8" cy="249.4" r="0.75"/>
<circle cx="392.2" cy="235.6" r="0.75"/>
<circle cx="399.3" cy="279.8" r="0.75"/>
<circle cx="400.8" cy="280.9" r="0.75"/>
<circle cx="398.9" cy="278.7" r="0.75"/>
<circle cx="391.2" cy="276.2" r="0.75"/>
<circle cx="402.1" cy="278.6" r="0.75"/>
<circle cx="393.3" cy="267.1" r="0.75"/>
<circle cx="395.5" cy="266.6" r="0.75"/>
<circle cx="392.5" cy="272.5" r="0.75"/>
<circle cx="392.7" cy="277.3" r="0.75"/>
<circle cx="399.2" cy="270.2" r="0.75"/>
<circle cx="400.3" cy="280.9" r="0.75"/>
<circle cx="402.5" cy="279.8" r="0.75"/>
<circle cx="397.0" cy="268.9" r="0.75"/>
<circle cx="405.5" cy="246.7" r="0.75"/>
<circle cx="405.0" cy="266.3" r="0.75"/>
<circle cx="391.4" cy="273.9" r="0.75"/>
<circle cx="397.5" cy="280.4" r="0.75"/>
<circle cx="396.8" cy="259.1" r="0.75"/>
<circle cx="395.3" cy="279.4" r="0.75"/>
<circle cx="389.5" cy="276.7" r="0.75"/>
<circle cx="395.5" cy="278.6" r="0.75"/>
<circle cx="398.8" cy="267.7" r="0.75"/>
<circle cx="397.4" cy="244.5" r="0.75"/>
<circle cx="391.1" cy="271.4" r="0.75"/>
<circle cx="393.0" cy="279.5" r="0.75"/>
<circle cx="392.4" cy="280.8" r="0.75"/>
<circle cx="400.1" cy="281.0" r="0.75"/>
<circle cx="410.6" cy="276.0" r="0.75"/>
<circle cx="400.4" cy="279.2" r="0.75"/>
<circle cx="398.9" cy="277.2" r="0.75"/>
<circle cx="396.3" cy="269.1" r="0.75"/>
<circle cx="404.6" cy="278.2" r="0.75"/>
<circle cx="399.8" cy="279.8" r="0.75"/>
<circle cx="405.4" cy="272.6" r="0.75"/>
<circle cx="395.3" cy="247.0" r="0.75"/>
<circle cx="396.4" cy="270.9" r="0.75"/>
<circle cx="406.0" cy="276.4" r="0.75"/>
<circle cx="397.5" cy="275.3" r="0.75"/>
<circle cx="398.9" cy="270.2" r="0.75"/>
<circle cx="385.1" cy="264.0" r="0.75"/>
<circle cx="393.7" cy="247.5" r="0.75"/>
<circle cx="406.5" cy="277.8" r="0.75"/>
<circle cx="406.1" cy="274.1" r="0.75"/>
<circle cx="391.2" cy="279.5" r="0.75"/>
<circle cx="401.4" cy="274.8" r="0.75"/>
<circle cx="395.9" cy="269.2" r="0.75"/>
<circle cx="395.2" cy="249.3" r="0.75"/>
<circle cx="387.6" cy="274.2" r="0.75"/>
<circle cx="401.8" cy="261.0" r="0.75"/>
<circle cx="400.3" cy="280.1" r="0.75"/>
<circle cx="399.4" cy="279.7" r="0.75"/>
<circle cx="405.0" cy="269.1" r="0.75"/>
<circle cx="393.4" cy="264.7" r="0.75"/>
<circle cx="393.9" cy="267.6" r="0.75"/>
<circle cx="398.3" cy="269.1" r="0.75"/>
<circle cx="402.2" cy="271.2" r="0.75"/>
<circle cx="398.3" cy="267.4" r="0.75"/>
<circle cx="409.4" cy="267.3" r="0.75"/>
<circle cx="392.6" cy="270.3" r="0.75"/>
<circle cx="397.1" cy="272.0" r="0.75"/>
<circle cx="398.9" cy="279.6" r="0.75"/>
<circle cx="406.9" cy="268.9" r="0.75"/>
<circle cx="406.7" cy="276.0" r="0.75"/>
<circle cx="391.6" cy="266.0" r="0.75"/>
<circle cx="401.8" cy="277.3" r="0.75"/>
<circle cx="398.5" cy="261.4" r="0.75"/>
<circle cx="391.0" cy="271.1" r="0.75"/>
<circle cx="392.6" cy="260.4" r="0.75"/>
<circle cx="406.5" cy="243.2" r="0.75"/>
<circle cx="400.0" cy="281.0" r="0.75"/>
<circle cx="398.0" cy="274.8" r="0.75"/>
<circle cx="398.3" cy="273.4" r="0.75"/>
<circle cx="396.4" cy="269.8" r="0.75"/>
<circle cx="391.8" cy="280.1" r="0.75"/>
<circle cx="397.3" cy="251.1" r="0.75"/>
<circle cx="392.5" cy="275.9" r="0.75"/>
<circle cx="392.9" cy="276.8" r="0.75"/>
<circle cx="393.6" cy="273.5" r="0.75"/>
<circle cx="391.4" cy="275.8" r="0.75"/>
<circle cx="388.9" cy="255.6" r="0.75"/>
<circle cx="390.7" cy="257.6" r="0.75"/>
<circle cx="395.4" cy="240.2" r="0.75"/>
<circle cx="394.7" cy="265.3" r="0.75"/>
<circle cx="399.2" cy="274.0" r="0.75"/>
<circle cx="403.0" cy="279.2" r="0.75"/>
<circle cx="403.7" cy="279.3" r="0.75"/>
<circle cx="397.3" cy="257.8" r="0.75"/>
<circle cx="408.8" cy="206.9" r="0.75"/>
<circle cx="388.4" cy="265.4" r="0.75"/>
<circle cx="390.0" cy="266.7" r="0.75"/>
<circle cx="393.9" cy="275.0" r="0.75"/>
<circle cx="391.0" cy="268.3" r="0.75"/>
<circle cx="398.7" cy="274.4" r="0.75"/>
<circle cx="402.2" cy="277.9" r="0.75"/>
<circle cx="391.1" cy="277.6" r="0.75"/>
<circle cx="404.5" cy="265.6" r="0.75"/>
<circle cx="399.8" cy="279.4" r="0.75"/>
<circle cx="393.8" cy="229.9" r="0.75"/>
<circle cx="394.4" cy="266.0" r="0.75"/>
<circle cx="396.2" cy="268.3" r="0.75"/>
<circle cx="400.0" cy="280.9" r="0.75"/>
<circle cx="387.6" cy="277.3" r="0.75"/>
<circle cx="403.2" cy="244.2" r="0.75"/>
<circle cx="393.3" cy="249.2" r="0.75"/>
<circle cx="397.8" cy="231.4" r="0.75"/>
<circle cx="403.0" cy="280.2" r="0.75"/>
<circle cx="393.2" cy="279.7" r="0.75"/>
<circle cx="396.4" cy="273.7" r="0.75"/>
<circle cx="394.7" cy="276.3" r="0.75"/>
<circle cx="392.7" cy="277.3" r="0.75"/>
<circle cx="404.2" cy="252.1" r="0.75"/>
<circle cx="401.5" cy="262.3" r="0.75"/>
<circle cx="386.9" cy="277.1" r="0.75"/>
<circle cx="405.7" cy="271.2" r="0.75"/>
<circle cx="403.0" cy="263.4" r="0.75"/>
<circle cx="386.3" cy="269.1" r="0.75"/>
<circle cx="402.5" cy="256.6" r="0.75"/>
<circle cx="389.8" cy="268.2" r="0.75"/>
<circle cx="400.9" cy="280.6" r="0.75"/>
<circle cx="395.8" cy="268.5" r="0.75"/>
<circle cx="403.0" cy="276.8" r="0.75"/>
<circle cx="388.4" cy="275.2" r="0.75"/>
<circle cx="398.5" cy="277.6" r="0.75"/>
<circle cx="401.9" cy="277.9" r="0.75"/>
<circle cx="392.9" cy="275.8" r="0.75"/>
<circle cx="405.0" cy="272.9" r="0.75"/>
<circle cx="401.1" cy="281.0" r="0.75"/>
<circle cx="398.8" cy="274.5" r="0.75"/>
<circle cx="401.5" cy="274.1" r="0.75"/>
<circle cx="393.1" cy="248.3" r="0.75"/>
<circle cx="391.6" cy="263.8" r="0.75"/>
<circle cx="392.8" cy="272.4" r="0.75"/>
<circle cx="390.8" cy="277.0" r="0.75"/>
<circle cx="401.0" cy="280.4" r="0.75"/>
<circle cx="399.1" cy="279.2" r="0.75"/>
<circle cx="390.0" cy="268.8" r="0.75"/>
<circle cx="408.7" cy="271.1" r="0.75"/>
<circle cx="388.8" cy="263.9" r="0.75"/>
<circle cx="402.2" cy="254.9" r="0.75"/>
<circle cx="398.0" cy="246.3" r="0.75"/>
<circle cx="392.8" cy="279.7" r="0.75"/>
<circle cx="395.9" cy="229.7" r="0.75"/>
<circle cx="401.2" cy="276.5" r="0.75"/>
<circle cx="403.5" cy="267.1" r="0.75"/>
<circle cx="388.7" cy="269.8" r="0.75"/>
<circle cx="400.8" cy="278.2" r="0.75"/>
<circle cx="395.9" cy="270.6" r="0.75"/>
<circle cx="392.7" cy="276.9" r="0.75"/>
<circle cx="397.0" cy="278.7" r="0.75"/>
<circle cx="395.5" cy="278.7" r="0.75"/>
<circle cx="392.5" cy="269.2" r="0.75"/>
<circle cx="394.8" cy="271.1" r="0.75"/>
<circle cx="396.2" cy="219.0" r="0.75"/>
<circle cx="400.0" cy="280.7" r="0.75"/>
<circle cx="401.1" cy="275.8" r="0.75"/>
<circle cx="395.8" cy="269.3" r="0.75"/>
<circle cx="401.0" cy="274.9" r="0.75"/>
<circle cx="399.3" cy="280.7" r="0.75"/>
<circle cx="389.7" cy="259.9" r="0.75"/>
<circle cx="400.4" cy="279.8" r="0.75"/>
<circle cx="398.0" cy="270.5" r="0.75"/>
<circle cx="396.8" cy="275.5" r="0.75"/>
<circle cx="398.1" cy="270.9" r="0.75"/>
<circle cx="392.8" cy="236.0" r="0.75"/>
<circle cx="393.8" cy="269.1" r="0.75"/>
<circle cx="395.7" cy="280.9" r="0.75"/>
<circle cx="400.6" cy="278.0" r="0.75"/>
<circle cx="387.0" cy="260.4" r="0.75"/>
<circle cx="387.8" cy="277.7" r="0.75"/>
<circle cx="397.4" cy="274.3" r="0.75"/>
<circle cx="401.4" cy="280.1" r="0.75"/>
<circle cx="402.2" cy="265.2" r="0.75"/>
<circle cx="398.4" cy="275.5" r="0.75"/>
<circle cx="394.8" cy="272.7" r="0.75"/>
<circle cx="401.8" cy="240.9" r="0.75"/>
<circle cx="401.0" cy="268.8" r="0.75"/>
<circle cx="401.4" cy="277.4" r="0.75"/>
<circle cx="400.7" cy="279.9" r="0.75"/>
<circle cx="399.5" cy="279.7" r="0.75"/>
<circle cx="395.4" cy="274.3" r="0.75"/>
<circle cx="392.0" cy="279.8" r="0.75"/>
<circle cx="394.9" cy="273.7" r="0.75"/>
<circle cx="409.9" cy="275.7" r="0.75"/>
<circle cx="384.4" cy="239.6" r="0.75"/>
<circle cx="403.8" cy="206.2" r="0.75"/>
<circle cx="396.7" cy="267.3" r="0.75"/>
<circle cx="399.7" cy="278.5" r="0.75"/>
<circle cx="400.0" cy="280.9" r="0.75"/>
<circle cx="398.0" cy="274.6" r="0.75"/>
<circle cx="397.0" cy="247.2" r="0.75"/>
<circle cx="386.2" cy="254.8" r="0.75"/>
<circle cx="402.3" cy="263.9" r="0.75"/>
<circle cx="401.4" cy="275.3" r="0.75"/>
<circle cx="404.6" cy="261.2" r="0.75"/>
<circle cx="394.3" cy="270.9" r="0.75"/>
<circle cx="404.9" cy="249.4" r="0.75"/>
<circle cx="401.5" cy="280.5" r="0.75"/>
<circle cx="403.3" cy="268.9" r="0.75"/>
<circle cx="408.2" cy="269.8" r="0.75"/>
<circle cx="398.1" cy="281.1" r="0.75"/>
<circle cx="394.9" cy="229.5" r="0.75"/>
<circle cx="406.2" cy="270.4" r="0.75"/>
<circle cx="388.5" cy="274.7" r="0.75"/>
<circle cx="395.3" cy="265.6" r="0.75"/>
<circle cx="397.4" cy="262.2" r="0.75"/>
<circle cx="403.6" cy="256.9" r="0.75"/>
<circle cx="400.1" cy="281.1" r="0.75"/>
<circle cx="403.6" cy="277.2" r="0.75"/>
<circle cx="396.8" cy="259.2" r="0.75"/>
<circle cx="399.7" cy="277.8" r="0.75"/>
<circle cx="399.2" cy="278.0" r="0.75"/>
<circle cx="389.9" cy="254.1" r="0.75"/>
<circle cx="401.9" cy="276.7" r="0.75"/>
<circle cx="399.5" cy="279.9" r="0.75"/>
<circle cx="397.1" cy="251.9" r="0.75"/>
<circle cx="393.3" cy="257.0" r="0.75"/>
<circle cx="390.5" cy="273.6" r="0.75"/>
<circle cx="402.5" cy="279.1" r="0.75"/>
<circle cx="393.4" cy="253.6" r="0.75"/>
<circle cx="398.4" cy="271.4" r="0.75"/>
<circle cx="393.6" cy="272.7" r="0.75"/>
<circle cx="398.9" cy="272.5" r="0.75"/>
<circle cx="396.1" cy="263.0" r="0.75"/>
<circle cx="399.7" cy="279.5" r="0.75"/>
<circle cx="391.9" cy="279.4" r="0.75"/>
<circle cx="399.5" cy="281.1" r="0.75"/>
<circle cx="405.4" cy="268.9" r="0.75"/>
<circle cx="401.4" cy="275.3" r="0.75"/>
<circle cx="398.3" cy="269.1" r="0.75"/>
<circle cx="389.5" cy="239.2" r="0.75"/>
<circle cx="402.8" cy="232.0" r="0.75"/>
<circle cx="407.0" cy="277.8" r="0.75"/>
<circle cx="395.6" cy="264.9" r="0.75"/>
<circle cx="402.6" cy="277.9" r="0.75"/>
<circle cx="395.0" cy="257.1" r="0.75"/>
<circle cx="399.7" cy="278.9" r="0.75"/>
<circle cx="391.7" cy="259.0" r="0.75"/>
<circle cx="400.0" cy="280.9" r="0.75"/>
<circle cx="395.8" cy="246.7" r="0.75"/>
<circle cx="403.6" cy="270.1" r="0.75"/>
<circle cx="394.3" cy="245.0" r="0.75"/>
<circle cx="394.6" cy="280.9" r="0.75"/>
<circle cx="408.8" cy="270.6" r="0.75"/>
<circle cx="392.9" cy="276.4" r="0.75"/>
<circle cx="397.4" cy="252.5" r="0.75"/>
<circle cx="389.9" cy="268.5" r="0.75"/>
<circle cx="399.7" cy="280.6" r="0.75"/>
<circle cx="400.9" cy="277.2" r="0.75"/>
<circle cx="394.1" cy="268.9" r="0.75"/>
<circle cx="405.6" cy="267.0" r="0.75"/>
<circle cx="390.2" cy="259.1" r="0.75"/>
<circle cx="391.2" cy="264.1" r="0.75"/>
<circle cx="396.6" cy="267.4" r="0.75"/>
<circle cx="400.7" cy="279.6" r="0.75"/>
<circle cx="402.1" cy="275.4" r="0.75"/>
<circle cx="389.4" cy="262.7" r="0.75"/>
<circle cx="403.2" cy="256.6" r="0.75"/>
<circle cx="403.9" cy="248.3" r="0.75"/>
<circle cx="402.9" cy="262.3" r="0.75"/>
<circle cx="401.6" cy="277.8" r="0.75"/>
<circle cx="399.5" cy="276.2" r="0.75"/>
<circle cx="393.9" cy="279.2" r="0.75"/>
<circle cx="393.6" cy="274.8" r="0.75"/>
<circle cx="405.9" cy="276.5" r="0.75"/>
<circle cx="396.0" cy="225.4" r="0.75"/>
<circle cx="402.6" cy="278.8" r="0.75"/>
<circle cx="397.1" cy="263.0" r="0.75"/>
<circle cx="393.0" cy="273.6" r="0.75"/>
<circle cx="389.4" cy="251.5" r="0.75"/>
<circle cx="405.2" cy="266.0" r="0.75"/>
<circle cx="396.8" cy="266.5" r="0.75"/>
<circle cx="401.0" cy="275.0" r="0.75"/>
<circle cx="397.4" cy="253.6" r="0.75"/>
<circle cx="395.1" cy="252.1" r="0.75"/>
<circle cx="399.4" cy="279.1" r="0.75"/>
<circle cx="403.7" cy="254.4" r="0.75"/>
<circle cx="396.9" cy="254.0" r="0.75"/>
<circle cx="393.4" cy="270.2" r="0.75"/>
<circle cx="405.6" cy="244.9" r="0.75"/>
<circle cx="391.7" cy="269.7" r="0.75"/>
<circle cx="398.7" cy="274.0" r="0.75"/>
<circle cx="397.8" cy="280.4" r="0.75"/>
<circle cx="407.8" cy="274.5" r="0.75"/>
<circle cx="407.6" cy="259.9" r="0.75"/>
<circle cx="393.1" cy="269.8" r="0.75"/>
<circle cx="397.2" cy="227.8" r="0.75"/>
<circle cx="400.2" cy="280.9" r="0.75"/>
<circle cx="397.4" cy="280.5" r="0.75"/>
<circle cx="400.6" cy="279.1" r="0.75"/>
<circle cx="405.1" cy="239.7" r="0.75"/>
<circle cx="398.2" cy="258.6" r="0.75"/>
<circle cx="398.5" cy="276.5" r="0.75"/>
<circle cx="399.2" cy="271.7" r="0.75"/>
<circle cx="394.8" cy="279.6" r="0.75"/>
<circle cx="398.2" cy="264.2" r="0.75"/>
<circle cx="398.8" cy="273.2" r="0.75"/>
<circle cx="392.3" cy="277.8" r="0.75"/>
<circle cx="394.1" cy="256.6" r="0.75"/>
<circle cx="394.8" cy="255.7" r="0.75"/>
<circle cx="401.3" cy="278.5" r="0.75"/>
<circle cx="398.2" cy="264.7" r="0.75"/>
<circle cx="395.5" cy="266.2" r="0.75"/>
<circle cx="402.8" cy="263.9" r="0.75"/>
<circle cx="395.1" cy="220.8" r="0.75"/>
<circle cx="398.7" cy="279.5" r="0.75"/>
<circle cx="407.0" cy="271.6" r="0.75"/>
<circle cx="399.6" cy="280.7" r="0.75"/>
<circle cx="388.3" cy="265.9" r="0.75"/>
<circle cx="399.4" cy="280.6" r="0.75"/>
<circle cx="408.3" cy="246.6" r="0.75"/>
<circle cx="389.0" cy="256.2" r="0.75"/>
<circle cx="401.3" cy="277.2" r="0.75"/>
<circle cx="402.4" cy="261.6" r="0.75"/>
<circle cx="407.1" cy="260.8" r="0.75"/>
<circle cx="402.3" cy="277.5" r="0.75"/>
<circle cx="385.6" cy="261.3" r="0.75"/>
<circle cx="401.7" cy="278.1" r="0.75"/>
<circle cx="395.5" cy="246.3" r="0.75"/>
<circle cx="399.6" cy="279.2" r="0.75"/>
<circle cx="396.1" cy="280.3" r="0.75"/>
<circle cx="398.8" cy="276.7" r="0.75"/>
<circle cx="403.5" cy="280.4" r="0.75"/>
<circle cx="399.6" cy="279.2" r="0.75"/>
<circle cx="396.6" cy="280.7" r="0.75"/>
<circle cx="393.7" cy="267.0" r="0.75"/>
<circle cx="400.4" cy="281.0" r="0.75"/>
<circle cx="391.4" cy="274.2" r="0.75"/>
<circle cx="387.4" cy="280.5" r="0.75"/>
<circle cx="394.8" cy="264.3" r="0.75"/>
<circle cx="391.5" cy="271.2" r="0.75"/>
<circle cx="406.9" cy="272.0" r="0.75"/>
<circle cx="387.4" cy="247.0" r="0.75"/>
<circle cx="398.6" cy="261.4" r="0.75"/>
<circle cx="397.9" cy="264.7" r="0.75"/>
<circle cx="393.5" cy="271.9" r="0.75"/>
<circle cx="407.1" cy="259.8" r="0.75"/>
<circle cx="390.8" cy="243.8" r="0.75"/>
<circle cx="402.2" cy="267.4" r="0.75"/>
<circle cx="392.5" cy="218.7" r="0.75"/>
<circle cx="388.8" cy="268.0" r="0.75"/>
<circle cx="402.2" cy="271.9" r="0.75"/>
<circle cx="401.1" cy="275.9" r="0.75"/>
<circle cx="398.8" cy="265.6" r="0.75"/>
<circle cx="392.8" cy="275.3" r="0.75"/>
<circle cx="394.1" cy="257.5" r="0.75"/>
<circle cx="399.8" cy="279.4" r="0.75"/>
<circle cx="412.3" cy="273.8" r="0.75"/>
<circle cx="398.1" cy="229.2" r="0.75"/>
<circle cx="398.1" cy="271.7" r="0.75"/>
<circle cx="401.4" cy="242.5" r="0.75"/>
<circle cx="394.5" cy="277.1" r="0.75"/>
<circle cx="391.3" cy="278.9" r="0.75"/>
<circle cx="390.9" cy="268.5" r="0.75"/>
<circle cx="393.4" cy="269.6" r="0.75"/>
<circle cx="397.0" cy="240.9" r="0.75"/>
<circle cx="394.2" cy="263.2" r="0.75"/>
<circle cx="388.3" cy="275.0" r="0.75"/>
<circle cx="396.8" cy="272.1" r="0.75"/>
<circle cx="396.9" cy="261.6" r="0.75"/>
<circle cx="404.1" cy="280.0" r="0.75"/>
<circle cx="393.2" cy="258.6" r="0.75"/>
<circle cx="396.4" cy="276.2" r="0.75"/>
<circle cx="396.0" cy="251.0" r="0.75"/>
<circle cx="399.5" cy="278.4" r="0.75"/>
<circle cx="395.1" cy="259.8" r="0.75"/>
<circle cx="400.4" cy="281.0" r="0.75"/>
<circle cx="401.8" cy="273.4" r="0.75"/>
<circle cx="385.7" cy="247.3" r="0.75"/>
<circle cx="399.3" cy="278.2" r="0.75"/>
<circle cx="394.2" cy="258.3" r="0.75"/>
<circle cx="392.4" cy="247.2" r="0.75"/>
<circle cx="389.5" cy="262.0" r="0.75"/>
<circle cx="404.2" cy="242.9" r="0.75"/>
<circle cx="392.3" cy="265.9" r="0.75"/>
<circle cx="391.7" cy="249.2" r="0.75"/>
<circle cx="398.1" cy="260.1" r="0.75"/>
<circle cx="391.4" cy="262.2" r="0.75"/>
<circle cx="397.4" cy="266.1" r="0.75"/>
<circle cx="398.1" cy="268.5" r="0.75"/>
<circle cx="397.5" cy="278.3" r="0.75"/>
<circle cx="395.3" cy="274.2" r="0.75"/>
<circle cx="399.6" cy="277.6" r="0.75"/>
<circle cx="402.6" cy="270.0" r="0.75"/>
<circle cx="397.2" cy="280.7" r="0.75"/>
<circle cx="398.7" cy="276.0" r="0.75"/>
<circle cx="394.8" cy="267.9" r="0.75"/>
<circle cx="397.1" cy="266.7" r="0.75"/>
<circle cx="399.9" cy="280.7" r="0.75"/>
<circle cx="388.6" cy="236.0" r="0.75"/>
<circle cx="391.2" cy="261.9" r="0.75"/>
<circle cx="404.8" cy="279.5" r="0.75"/>
<circle cx="394.4" cy="247.0" r="0.75"/>
<circle cx="404.6" cy="277.1" r="0.75"/>
<circle cx="403.4" cy="267.7" r="0.75"/>
<circle cx="393.8" cy="278.2" r="0.75"/>
<circle cx="402.6" cy="270.6" r="0.75"/>
<circle cx="405.5" cy="245.6" r="0.75"/>
<circle cx="397.0" cy="214.8" r="0.75"/>
<circle cx="395.7" cy="263.5" r="0.75"/>
<circle cx="396.8" cy="238.5" r="0.75"/>
<circle cx="398.3" cy="277.3" r="0.75"/>
<circle cx="400.6" cy="279.0" r="0.75"/>
<circle cx="395.6" cy="277.4" r="0.75"/>
<circle cx="395.1" cy="276.6" r="0.75"/>
<circle cx="392.8" cy="265.7" r="0.75"/>
<circle cx="394.9" cy="278.9" r="0.75"/>
<circle cx="402.5" cy="265.4" r="0.75"/>
<circle cx="405.8" cy="280.8" r="0.75"/>
<circle cx="398.0" cy="280.7" r="0.75"/>
<circle cx="401.0" cy="271.9" r="0.75"/>
<circle cx="392.5" cy="267.4" r="0.75"/>
<circle cx="396.4" cy="261.4" r="0.75"/>
<circle cx="391.7" cy="280.4" r="0.75"/>
<circle cx="393.5" cy="251.8" r="0.75"/>
<circle cx="398.9" cy="280.1" r="0.75"/>
<circle cx="399.1" cy="279.9" r="0.75"/>
<circle cx="398.7" cy="269.3" r="0.75"/>
<circle cx="397.1" cy="268.5" r="0.75"/>
<circle cx="410.4" cy="273.4" r="0.75"/>
<circle cx="395.9" cy="279.7" r="0.75"/>
<circle cx="399.6" cy="280.7" r="0.75"/>
<circle cx="409.3" cy="271.9" r="0.75"/>
<circle cx="402.5" cy="273.8" r="0.75"/>
<circle cx="390.4" cy="265.8" r="0.75"/>
<circle cx="395.8" cy="279.9" r="0.75"/>
<circle cx="399.4" cy="278.6" r="0.75"/>
<circle cx="398.0" cy="267.4" r="0.75"/>
<circle cx="405.1" cy="280.6" r="0.75"/>
<circle cx="394.6" cy="240.9" r="0.75"/>
<circle cx="398.4" cy="274.3" r="0.75"/>
<circle cx="396.3" cy="268.4" r="0.75"/>
<circle cx="392.1" cy="272.9" r="0.75"/>
<circle cx="398.7" cy="275.1" r="0.75"/>
<circle cx="393.8" cy="268.0" r="0.75"/>
<circle cx="405.9" cy="277.9" r="0.75"/>
<circle cx="406.8" cy="265.8" r="0.75"/>
<circle cx="394.9" cy="279.9" r="0.75"/>
<circle cx="399.8" cy="280.6" r="0.75"/>
<circle cx="391.3" cy="242.9" r="0.75"/>
<circle cx="396.7" cy="272.2" r="0.75"/>
<circle cx="409.2" cy="275.1" r="0.75"/>
<circle cx="400.2" cy="281.0" r="0.75"/>
<circle cx="403.3" cy="253.7" r="0.75"/>
<circle cx="398.9" cy="279.7" r="0.75"/>
<circle cx="391.2" cy="267.1" r="0.75"/>
<circle cx="397.3" cy="253.1" r="0.75"/>
<circle cx="395.8" cy="269.1" r="0.75"/>
<circle cx="395.6" cy="257.6" r="0.75"/>
<circle cx="401.1" cy="278.1" r="0.75"/>
<circle cx="397.6" cy="265.6" r="0.75"/>
<circle cx="388.4" cy="265.6" r="0.75"/>
<circle cx="391.7" cy="269.9" r="0.75"/>
<circle cx="390.4" cy="231.3" r="0.75"/>
<circle cx="403.1" cy="258.3" r="0.75"/>
<circle cx="390.7" cy="258.0" r="0.75"/>
<circle cx="392.3" cy="269.1" r="0.75"/>
<circle cx="391.2" cy="277.5" r="0.75"/>
<circle cx="396.4" cy="258.4" r="0.75"/>
<circle cx="386.2" cy="280.8" r="0.75"/>
<circle cx="399.5" cy="277.8" r="0.75"/>
<circle cx="408.1" cy="275.6" r="0.75"/>
<circle cx="398.3" cy="279.5" r="0.75"/>
<circle cx="397.9" cy="261.7" r="0.75"/>
<circle cx="397.7" cy="267.9" r="0.75"/>
<circle cx="395.3" cy="253.3" r="0.75"/>
<circle cx="403.7" cy="262.4" r="0.75"/>
<circle cx="389.6" cy="225.6" r="0.75"/>
<circle cx="394.7" cy="233.8" r="0.75"/>
<circle cx="399.7" cy="281.1" r="0.75"/>
<circle cx="400.4" cy="279.9" r="0.75"/>
<circle cx="405.3" cy="255.4" r="0.75"/>
<circle cx="408.0" cy="257.0" r="0.75"/>
<circle cx="405.2" cy="271.7" r="0.75"/>
<circle cx="395.2" cy="266.3" r="0.75"/>
<circle cx="397.9" cy="260.6" r="0.75"/>
<circle cx="397.0" cy="255.7" r="0.75"/>
<circle cx="402.3" cy="270.6" r="0.75"/>
<circle cx="391.7" cy="264.2" r="0.75"/>
<circle cx="393.2" cy="272.6" r="0.75"/>
<circle cx="386.5" cy="260.1" r="0.75"/>
<circle cx="391.5" cy="266.3" r="0.75"/>
<circle cx="398.3" cy="276.7" r="0.75"/>
<circle cx="397.0" cy="269.9" r="0.75"/>
<circle cx="403.9" cy="271.2" r="0.75"/>
<circle cx="392.8" cy="263.2" r="0.75"/>
<circle cx="389.8" cy="278.2" r="0.75"/>
<circle cx="396.2" cy="270.2" r="0.75"/>
<circle cx="389.7" cy="255.6" r="0.75"/>
<circle cx="392.9" cy="268.5" r="0.75"/>
<circle cx="402.2" cy="279.5" r="0.75"/>
<circle cx="394.1" cy="261.4" r="0.75"/>
<circle cx="397.0" cy="256.9" r="0.75"/>
<circle cx="405.5" cy="278.6" r="0.75"/>
<circle cx="390.2" cy="261.4" r="0.75"/>
<circle cx="391.2" cy="266.5" r="0.75"/>
<circle cx="395.4" cy="278.4" r="0.75"/>
<circle cx="396.0" cy="263.9" r="0.75"/>
<circle cx="394.3" cy="279.9" r="0.75"/>
<circle cx="395.6" cy="273.2" r="0.75"/>
<circle cx="401.8" cy="266.7" r="0.75"/>
<circle cx="395.6" cy="243.9" r="0.75"/>
<circle cx="410.3" cy="275.9" r="0.75"/>
<circle cx="393.6" cy="266.8" r="0.75"/>
<circle cx="393.9" cy="266.7" r="0.75"/>
<circle cx="403.2" cy="267.2" r="0.75"/>
<circle cx="388.0" cy="271.3" r="0.75"/>
<circle cx="405.3" cy="274.7" r="0.75"/>
<circle cx="386.6" cy="241.7" r="0.75"/>
<circle cx="392.4" cy="274.5" r="0.75"/>
<circle cx="401.3" cy="273.3" r="0.75"/>
<circle cx="401.5" cy="274.8" r="0.75"/>
<circle cx="393.2" cy="276.9" r="0.75"/>
<circle cx="393.7" cy="266.4" r="0.75"/>
<circle cx="396.2" cy="276.9" r="0.75"/>
<circle cx="391.7" cy="279.8" r="0.75"/>
<circle cx="409.3" cy="265.2" r="0.75"/>
<circle cx="400.0" cy="280.6" r="0.75"/>
<circle cx="396.7" cy="263.0" r="0.75"/>
<circle cx="398.8" cy="275.9" r="0.75"/>
<circle cx="393.5" cy="270.7" r="0.75"/>
<circle cx="398.4" cy="280.0" r="0.75"/>
<circle cx="396.8" cy="275.5" r="0.75"/>
<circle cx="397.9" cy="243.6" r="0.75"/>
<circle cx="398.6" cy="274.1" r="0.75"/>
<circle cx="391.6" cy="275.3" r="0.75"/>
<circle cx="393.9" cy="251.4" r="0.75"/>
<circle cx="406.1" cy="275.0" r="0.75"/>
<circle cx="404.2" cy="234.3" r="0.75"/>
<circle cx="397.9" cy="272.2" r="0.75"/>
<circle cx="396.2" cy="269.8" r="0.75"/>
<circle cx="389.4" cy="266.6" r="0.75"/>
<circle cx="404.1" cy="280.7" r="0.75"/>
<circle cx="398.8" cy="278.4" r="0.75"/>
<circle cx="399.0" cy="273.2" r="0.75"/>
<circle cx="396.7" cy="278.7" r="0.75"/>
<circle cx="407.6" cy="265.7" r="0.75"/>
<circle cx="404.7" cy="267.8" r="0.75"/>
<circle cx="393.4" cy="271.6" r="0.75"/>
<circle cx="394.0" cy="280.6" r="0.75"/>
<circle cx="394.8" cy="241.4" r="0.75"/>
<circle cx="403.3" cy="243.7" r="0.75"/>
<circle cx="398.5" cy="270.5" r="0.75"/>
<circle cx="403.8" cy="263.6" r="0.75"/>
<circle cx="395.8" cy="267.4" r="0.75"/>
<circle cx="394.2" cy="267.8" r="0.75"/>
<circle cx="404.4" cy="280.3" r="0.75"/>
<circle cx="403.4" cy="259.1" r="0.75"/>
<circle cx="394.1" cy="273.8" r="0.75"/>
<circle cx="389.8" cy="270.3" r="0.75"/>
<circle cx="395.1" cy="278.6" r="0.75"/>
<circle cx="397.7" cy="267.3" r="0.75"/>
<circle cx="388.3" cy="277.6" r="0.75"/>
<circle cx="400.8" cy="267.3" r="0.75"/>
<circle cx="399.7" cy="280.4" r="0.75"/>
<circle cx="396.9" cy="279.7" r="0.75"/>
<circle cx="395.6" cy="278.0" r="0.75"/>
<circle cx="407.8" cy="275.8" r="0.75"/>
<circle cx="404.6" cy="277.5" r="0.75"/>
<circle cx="400.4" cy="279.7" r="0.75"/>
<circle cx="389.7" cy="275.1" r="0.75"/>
<circle cx="388.3" cy="263.8" r="0.75"/>
<circle cx="408.6" cy="275.0" r="0.75"/>
<circle cx="393.6" cy="266.9" r="0.75"/>
<circle cx="394.0" cy="264.8" r="0.75"/>
<circle cx="393.0" cy="269.8" r="0.75"/>
<circle cx="399.6" cy="279.7" r="0.75"/>
<circle cx="386.3" cy="273.9" r="0.75"/>
<circle cx="403.6" cy="280.0" r="0.75"/>
<circle cx="387.8" cy="274.1" r="0.75"/>
<circle cx="394.8" cy="269.1" r="0.75"/>
<circle cx="391.3" cy="270.4" r="0.75"/>
<circle cx="402.4" cy="280.3" r="0.75"/>
<circle cx="400.8" cy="280.6" r="0.75"/>
<circle cx="407.9" cy="276.0" r="0.75"/>
<circle cx="409.6" cy="256.0" r="0.75"/>
<circle cx="410.8" cy="266.5" r="0.75"/>
<circle cx="388.1" cy="243.2" r="0.75"/>
<circle cx="387.0" cy="277.0" r="0.75"/>
<circle cx="397.7" cy="275.4" r="0.75"/>
<circle cx="389.9" cy="267.3" r="0.75"/>
<circle cx="396.4" cy="259.4" r="0.75"/>
<circle cx="399.8" cy="280.3" r="0.75"/>
<circle cx="386.0" cy="241.5" r="0.75"/>
<circle cx="403.9" cy="274.6" r="0.75"/>
<circle cx="398.4" cy="266.5" r="0.75"/>
<circle cx="393.5" cy="277.0" r="0.75"/>
<circle cx="392.5" cy="277.8" r="0.75"/>
<circle cx="400.4" cy="278.7" r="0.75"/>
<circle cx="398.9" cy="280.6" r="0.75"/>
<circle cx="391.9" cy="261.8" r="0.75"/>
<circle cx="392.4" cy="262.2" r="0.75"/>
<circle cx="406.9" cy="256.6" r="0.75"/>
<circle cx="395.1" cy="280.0" r="0.75"/>
<circle cx="394.4" cy="270.0" r="0.75"/>
<circle cx="401.4" cy="268.6" r="0.75"/>
<circle cx="399.3" cy="277.6" r="0.75"/>
<circle cx="404.6" cy="261.8" r="0.75"/>
<circle cx="391.5" cy="247.6" r="0.75"/>
<circle cx="390.8" cy="266.5" r="0.75"/>
<circle cx="400.1" cy="281.1" r="0.75"/>
<circle cx="391.8" cy="272.0" r="0.75"/>
<circle cx="402.9" cy="261.0" r="0.75"/>
<circle cx="393.3" cy="269.3" r="0.75"/>
<circle cx="393.4" cy="276.8" r="0.75"/>
<circle cx="402.9" cy="277.0" r="0.75"/>
<circle cx="389.3" cy="272.3" r="0.75"/>
<circle cx="393.3" cy="257.2" r="0.75"/>
<circle cx="394.6" cy="260.0" r="0.75"/>
<circle cx="398.9" cy="279.7" r="0.75"/>
<circle cx="401.2" cy="280.1" r="0.75"/>
<circle cx="398.6" cy="270.6" r="0.75"/>
<circle cx="397.4" cy="251.3" r="0.75"/>
<circle cx="398.0" cy="277.7" r="0.75"/>
<circle cx="391.0" cy="278.3" r="0.75"/>
<circle cx="398.7" cy="279.4" r="0.75"/>
<circle cx="395.3" cy="276.0" r="0.75"/>
<circle cx="410.4" cy="265.3" r="0.75"/>
<circle cx="388.7" cy="273.5" r="0.75"/>
<circle cx="401.7" cy="269.4" r="0.75"/>
<circle cx="397.0" cy="276.6" r="0.75"/>
<circle cx="405.2" cy="262.4" r="0.75"/>
<circle cx="395.5" cy="252.3" r="0.75"/>
<circle cx="396.3" cy="272.1" r="0.75"/>
<circle cx="398.3" cy="259.7" r="0.75"/>
<circle cx="394.9" cy="261.4" r="0.75"/>
<circle cx="395.1" cy="266.7" r="0.75"/>
<circle cx="401.5" cy="271.0" r="0.75"/>
<circle cx="402.3" cy="275.6" r="0.75"/>
<circle cx="394.5" cy="262.1" r="0.75"/>
<circle cx="398.2" cy="262.2" r="0.75"/>
<circle cx="400.5" cy="279.1" r="0.75"/>
<circle cx="391.7" cy="264.6" r="0.75"/>
<circle cx="396.6" cy="262.3" r="0.75"/>
<circle cx="398.8" cy="270.0" r="0.75"/>
<circle cx="394.5" cy="278.7" r="0.75"/>
<circle cx="390.5" cy="248.2" r="0.75"/>
<circle cx="391.8" cy="279.2" r="0.75"/>
<circle cx="399.7" cy="276.2" r="0.75"/>
<circle cx="390.5" cy="271.1" r="0.75"/>
<circle cx="394.8" cy="262.3" r="0.75"/>
<circle cx="397.4" cy="279.9" r="0.75"/>
<circle cx="401.5" cy="270.5" r="0.75"/>
<circle cx="399.9" cy="281.1" r="0.75"/>
<circle cx="412.0" cy="243.7" r="0.75"/>
<circle cx="401.3" cy="270.1" r="0.75"/>
<circle cx="399.8" cy="281.0" r="0.75"/>
<circle cx="399.8" cy="278.2" r="0.75"/>
<circle cx="397.6" cy="270.7" r="0.75"/>
<circle cx="391.8" cy="220.0" r="0.75"/>
<circle cx="404.8" cy="264.1" r="0.75"/>
<circle cx="399.2" cy="276.1" r="0.75"/>
<circle cx="403.5" cy="253.2" r="0.75"/>
<circle cx="400.3" cy="280.4" r="0.75"/>
<circle cx="402.3" cy="277.5" r="0.75"/>
<circle cx="397.3" cy="278.2" r="0.75"/>
<circle cx="387.9" cy="251.6" r="0.75"/>
<circle cx="403.0" cy="274.6" r="0.75"/>
<circle cx="396.8" cy="262.2" r="0.75"/>
<circle cx="388.9" cy="234.6" r="0.75"/>
<circle cx="397.5" cy="261.7" r="0.75"/>
<circle cx="390.0" cy="268.5" r="0.75"/>
<circle cx="396.1" cy="278.8" r="0.75"/>
<circle cx="398.9" cy="269.0" r="0.75"/>
<circle cx="387.7" cy="276.5" r="0.75"/>
<circle cx="388.1" cy="270.1" r="0.75"/>
<circle cx="399.3" cy="280.6" r="0.75"/>
<circle cx="390.4" cy="253.0" r="0.75"/>
<circle cx="401.2" cy="280.6" r="0.75"/>
<circle cx="395.7" cy="267.3" r="0.75"/>
<circle cx="398.9" cy="280.8" r="0.75"/>
<circle cx="398.7" cy="279.3" r="0.75"/>
<circle cx="398.2" cy="262.0" r="0.75"/>
<circle cx="391.2" cy="268.8" r="0.75"/>
<circle cx="401.5" cy="273.8" r="0.75"/>
<circle cx="390.3" cy="268.1" r="0.75"/>
<circle cx="397.2" cy="253.1" r="0.75"/>
<circle cx="389.9" cy="265.6" r="0.75"/>
<circle cx="412.2" cy="255.0" r="0.75"/>
<circle cx="394.9" cy="270.7" r="0.75"/>
<circle cx="400.3" cy="280.6" r="0.75"/>
<circle cx="393.1" cy="254.0" r="0.75"/>
<circle cx="392.8" cy="254.8" r="0.75"/>
<circle cx="406.8" cy="259.0" r="0.75"/>
<circle cx="398.6" cy="270.1" r="0.75"/>
<circle cx="404.6" cy="274.3" r="0.75"/>
<circle cx="397.3" cy="278.8" r="0.75"/>
<circle cx="396.7" cy="235.6" r="0.75"/>
<circle cx="399.9" cy="281.0" r="0.75"/>
<circle cx="409.8" cy="267.7" r="0.75"/>
<circle cx="406.2" cy="265.2" r="0.75"/>
<circle cx="399.4" cy="276.7" r="0.75"/>
<circle cx="399.3" cy="274.9" r="0.75"/>
<circle cx="399.7" cy="280.7" r="0.75"/>
<circle cx="397.2" cy="275.3" r="0.75"/>
<circle cx="399.6" cy="280.6" r="0.75"/>
<circle cx="405.4" cy="261.6" r="0.75"/>
<circle cx="395.9" cy="265.7" r="0.75"/>
<circle cx="398.7" cy="278.3" r="0.75"/>
<circle cx="389.6" cy="230.9" r="0.75"/>
<circle cx="396.8" cy="280.4" r="0.75"/>
<circle cx="400.6" cy="280.6" r="0.75"/>
<circle cx="393.8" cy="278.3" r="0.75"/>
<circle cx="394.3" cy="260.0" r="0.75"/>
<circle cx="392.4" cy="274.5" r="0.75"/>
<circle cx="402.0" cy="259.5" r="0.75"/>
<circle cx="404.9" cy="275.5" r="0.75"/>
<circle cx="398.9" cy="277.2" r="0.75"/>
<circle cx="396.9" cy="266.4" r="0.75"/>
<circle cx="399.3" cy="275.7" r="0.75"/>
<circle cx="406.6" cy="276.6" r="0.75"/>
<circle cx="401.7" cy="263.8" r="0.75"/>
<circle cx="394.9" cy="259.8" r="0.75"/>
<circle cx="392.6" cy="265.8" r="0.75"/>
<circle cx="397.9" cy="270.1" r="0.75"/>
<circle cx="396.5" cy="218.2" r="0.75"/>
<circle cx="405.7" cy="256.1" r="0.75"/>
<circle cx="401.4" cy="280.1" r="0.75"/>
<circle cx="399.8" cy="279.8" r="0.75"/>
<circle cx="398.4" cy="278.5" r="0.75"/>
<circle cx="410.9" cy="250.6" r="0.75"/>
<circle cx="397.8" cy="280.6" r="0.75"/>
<circle cx="387.7" cy="276.9" r="0.75"/>
<circle cx="392.4" cy="278.5" r="0.75"/>
<circle cx="393.4" cy="272.8" r="0.75"/>
<circle cx="390.4" cy="277.2" r="0.75"/>
<circle cx="388.9" cy="261.2" r="0.75"/>
<circle cx="393.9" cy="241.6" r="0.75"/>
<circle cx="394.8" cy="273.8" r="0.75"/>
<circle cx="404.1" cy="231.8" r="0.75"/>
<circle cx="399.8" cy="279.7" r="0.75"/>
<circle cx="395.0" cy="245.6" r="0.75"/>
<circle cx="404.5" cy="268.3" r="0.75"/>
<circle cx="392.5" cy="268.0" r="0.75"/>
<circle cx="409.5" cy="278.8" r="0.75"/>
<circle cx="392.5" cy="254.5" r="0.75"/>
<circle cx="401.4" cy="279.0" r="0.75"/>
<circle cx="403.3" cy="246.1" r="0.75"/>
<circle cx="385.6" cy="277.9" r="0.75"/>
<circle cx="400.0" cy="281.0" r="0.75"/>
<circle cx="395.7" cy="258.5" r="0.75"/>
<circle cx="396.4" cy="267.1" r="0.75"/>
<circle cx="401.8" cy="255.9" r="0.75"/>
<circle cx="390.9" cy="239.1" r="0.75"/>
<circle cx="395.2" cy="275.0" r="0.75"/>
<circle cx="401.7" cy="270.8" r="0.75"/>
<circle cx="396.3" cy="267.6" r="0.75"/>
<circle cx="403.3" cy="247.0" r="0.75"/>
<circle cx="399.5" cy="280.9" r="0.75"/>
<circle cx="392.4" cy="276.5" r="0.75"/>
<circle cx="388.6" cy="266.2" r="0.75"/>
<circle cx="403.7" cy="260.7" r="0.75"/>
<circle cx="400.2" cy="280.9" r="0.75"/>
<circle cx="399.9" cy="280.9" r="0.75"/>
<circle cx="393.3" cy="273.3" r="0.75"/>
<circle cx="405.2" cy="270.1" r="0.75"/>
<circle cx="389.1" cy="255.8" r="0.75"/>
<circle cx="394.1" cy="262.0" r="0.75"/>
<circle cx="393.1" cy="272.2" r="0.75"/>
<circle cx="396.9" cy="262.4" r="0.75"/>
<circle cx="401.6" cy="265.6" r="0.75"/>
<circle cx="400.0" cy="281.1" r="0.75"/>
<circle cx="395.8" cy="280.4" r="0.75"/>
<circle cx="397.1" cy="272.8" r="0.75"/>
<circle cx="402.7" cy="273.4" r="0.75"/>
<circle cx="404.0" cy="257.4" r="0.75"/>
<circle cx="395.4" cy="273.1" r="0.75"/>
<circle cx="402.4" cy="280.0" r="0.75"/>
<circle cx="392.2" cy="274.8" r="0.75"/>
<circle cx="403.4" cy="273.6" r="0.75"/>
<circle cx="391.7" cy="280.1" r="0.75"/>
<circle cx="403.7" cy="268.7" r="0.75"/>
<circle cx="399.0" cy="279.1" r="0.75"/>
<circle cx="401.0" cy="277.8" r="0.75"/>
<circle cx="398.8" cy="275.5" r="0.75"/>
<circle cx="407.7" cy="274.2" r="0.75"/>
<circle cx="395.7" cy="273.3" r="0.75"/>
<circle cx="404.1" cy="220.3" r="0.75"/>
<circle cx="402.9" cy="278.5" r="0.75"/>
<circle cx="403.1" cy="264.0" r="0.75"/>
<circle cx="394.9" cy="276.7" r="0.75"/>
<circle cx="401.0" cy="277.4" r="0.75"/>
<circle cx="401.8" cy="280.3" r="0.75"/>
<circle cx="397.3" cy="265.3" r="0.75"/>
<circle cx="405.8" cy="275.9" r="0.75"/>
<circle cx="404.7" cy="274.7" r="0.75"/>
<circle cx="411.3" cy="235.0" r="0.75"/>
<circle cx="398.6" cy="255.5" r="0.75"/>
<circle cx="401.6" cy="279.7" r="0.75"/>
<circle cx="400.4" cy="279.1" r="0.75"/>
<circle cx="411.3" cy="275.3" r="0.75"/>
<circle cx="398.7" cy="271.5" r="0.75"/>
<circle cx="384.9" cy="274.9" r="0.75"/>
<circle cx="399.9" cy="280.8" r="0.75"/>
<circle cx="397.0" cy="276.3" r="0.75"/>
<circle cx="398.0" cy="250.9" r="0.75"/>
<circle cx="396.9" cy="252.0" r="0.75"/>
<circle cx="402.8" cy="271.1" r="0.75"/>
<circle cx="401.7" cy="274.5" r="0.75"/>
<circle cx="397.5" cy="263.8" r="0.75"/>
<circle cx="397.4" cy="242.7" r="0.75"/>
<circle cx="394.0" cy="266.6" r="0.75"/>
<circle cx="407.2" cy="257.1" r="0.75"/>
<circle cx="406.5" cy="262.6" r="0.75"/>
<circle cx="405.8" cy="265.8" r="0.75"/>
<circle cx="395.4" cy="269.2" r="0.75"/>
<circle cx="388.5" cy="249.0" r="0.75"/>
<circle cx="400.9" cy="273.3" r="0.75"/>
<circle cx="399.4" cy="280.4" r="0.75"/>
<circle cx="392.7" cy="278.2" r="0.75"/>
<circle cx="395.4" cy="276.1" r="0.75"/>
<circle cx="391.5" cy="257.3" r="0.75"/>
<circle cx="388.9" cy="275.9" r="0.75"/>
<circle cx="404.3" cy="253.0" r="0.75"/>
<circle cx="391.7" cy="223.3" r="0.75"/>
<circle cx="395.0" cy="280.6" r="0.75"/>
<circle cx="394.7" cy="249.7" r="0.75"/>
<circle cx="396.5" cy="258.3" r="0.75"/>
<circle cx="395.1" cy="278.2" r="0.75"/>
<circle cx="399.3" cy="277.6" r="0.75"/>
<circle cx="393.3" cy="239.9" r="0.75"/>
<circle cx="399.0" cy="270.3" r="0.75"/>
<circle cx="394.7" cy="265.4" r="0.75"/>
<circle cx="397.9" cy="274.7" r="0.75"/>
<circle cx="396.6" cy="265.9" r="0.75"/>
<circle cx="392.8" cy="262.3" r="0.75"/>
<circle cx="404.5" cy="255.5" r="0.75"/>
<circle cx="386.5" cy="267.8" r="0.75"/>
<circle cx="394.7" cy="236.6" r="0.75"/>
<circle cx="401.4" cy="271.9" r="0.75"/>
<circle cx="391.0" cy="257.9" r="0.75"/>
<circle cx="389.8" cy="241.1" r="0.75"/>
<circle cx="395.5" cy="277.0" r="0.75"/>
<circle cx="399.9" cy="281.0" r="0.75"/>
<circle cx="405.9" cy="224.2" r="0.75"/>
<circle cx="398.5" cy="276.9" r="0.75"/>
<circle cx="403.3" cy="271.3" r="0.75"/>
<circle cx="400.0" cy="280.8" r="0.75"/>
<circle cx="395.2" cy="254.6" r="0.75"/>
<circle cx="397.0" cy="277.7" r="0.75"/>
<circle cx="403.4" cy="279.5" r="0.75"/>
<circle cx="405.5" cy="281.0" r="0.75"/>
<circle cx="389.7" cy="277.2" r="0.75"/>
<circle cx="396.7" cy="269.3" r="0.75"/>
<circle cx="400.2" cy="281.0" r="0.75"/>
<circle cx="407.9" cy="279.2" r="0.75"/>
<circle cx="399.6" cy="280.1" r="0.75"/>
<circle cx="397.6" cy="274.7" r="0.75"/>
<circle cx="399.7" cy="280.7" r="0.75"/>
<circle cx="408.0" cy="252.4" r="0.75"/>
<circle cx="400.4" cy="280.7" r="0.75"/>
<circle cx="398.5" cy="250.6" r="0.75"/>
<circle cx="385.7" cy="251.9" r="0.75"/>
<circle cx="392.7" cy="247.6" r="0.75"/>
<circle cx="392.9" cy="278.8" r="0.75"/>
<circle cx="387.6" cy="261.5" r="0.75"/>
<circle cx="401.3" cy="274.3" r="0.75"/>
<circle cx="398.8" cy="278.9" r="0.75"/>
<circle cx="391.3" cy="280.6" r="0.75"/>
<circle cx="393.6" cy="241.3" r="0.75"/>
<circle cx="398.3" cy="280.1" r="0.75"/>
<circle cx="397.0" cy="277.2" r="0.75"/>
<circle cx="401.6" cy="277.6" r="0.75"/>
<circle cx="389.7" cy="270.6" r="0.75"/>
<circle cx="400.9" cy="280.3" r="0.75"/>
<circle cx="388.4" cy="275.8" r="0.75"/>
<circle cx="392.9" cy="251.1" r="0.75"/>
<circle cx="398.5" cy="279.2" r="0.75"/>
<circle cx="399.3" cy="278.7" r="0.75"/>
<circle cx="397.9" cy="272.5" r="0.75"/>
<circle cx="393.3" cy="261.3" r="0.75"/>
<circle cx="401.1" cy="279.1" r="0.75"/>
<circle cx="400.5" cy="280.8" r="0.75"/>
<circle cx="385.5" cy="269.5" r="0.75"/>
<circle cx="398.9" cy="269.1" r="0.75"/>
<circle cx="399.0" cy="280.3" r="0.75"/>
<circle cx="407.0" cy="274.6" r="0.75"/>
<circle cx="392.7" cy="259.1" r="0.75"/>
<circle cx="392.0" cy="278.8" r="0.75"/>
<circle cx="396.3" cy="274.0" r="0.75"/>
<circle cx="393.6" cy="269.5" r="0.75"/>
<circle cx="400.5" cy="280.3" r="0.75"/>
<circle cx="391.6" cy="245.0" r="0.75"/>
<circle cx="391.8" cy="277.7" r="0.75"/>
<circle cx="395.6" cy="265.1" r="0.75"/>
<circle cx="401.8" cy="267.0" r="0.75"/>
<circle cx="400.7" cy="279.4" r="0.75"/>
<circle cx="388.7" cy="258.4" r="0.75"/>
<circle cx="391.2" cy="260.5" r="0.75"/>
<circle cx="389.5" cy="280.9" r="0.75"/>
<circle cx="401.0" cy="275.7" r="0.75"/>
<circle cx="393.5" cy="254.6" r="0.75"/>
<circle cx="394.7" cy="271.6" r="0.75"/>
<circle cx="391.4" cy="280.0" r="0.75"/>
<circle cx="402.1" cy="273.5" r="0.75"/>
<circle cx="399.5" cy="278.7" r="0.75"/>
<circle cx="401.5" cy="271.6" r="0.75"/>
<circle cx="396.8" cy="270.0" r="0.75"/>
<circle cx="405.6" cy="264.4" r="0.75"/>
<circle cx="401.4" cy="263.1" r="0.75"/>
<circle cx="393.3" cy="280.8" r="0.75"/>
<circle cx="388.2" cy="274.5" r="0.75"/>
<circle cx="392.6" cy="278.2" r="0.75"/>
<circle cx="393.9" cy="264.8" r="0.75"/>
<circle cx="403.0" cy="267.2" r="0.75"/>
<circle cx="392.2" cy="262.3" r="0.75"/>
<circle cx="398.7" cy="274.5" r="0.75"/>
<circle cx="391.5" cy="265.9" r="0.75"/>
<circle cx="399.8" cy="280.8" r="0.75"/>
<circle cx="410.8" cy="262.3" r="0.75"/>
<circle cx="401.0" cy="275.9" r="0.75"/>
<circle cx="389.3" cy="267.1" r="0.75"/>
<circle cx="397.4" cy="270.3" r="0.75"/>
<circle cx="391.3" cy="274.5" r="0.75"/>
<circle cx="390.8" cy="254.3" r="0.75"/>
<circle cx="391.7" cy="274.0" r="0.75"/>
<circle cx="392.8" cy="274.1" r="0.75"/>
<circle cx="391.3" cy="249.7" r="0.75"/>
<circle cx="391.9" cy="229.6" r="0.75"/>
<circle cx="396.2" cy="257.0" r="0.75"/>
<circle cx="396.4" cy="268.8" r="0.75"/>
<circle cx="387.1" cy="267.5" r="0.75"/>
<circle cx="398.2" cy="269.1" r="0.75"/>
<circle cx="395.4" cy="271.7" r="0.75"/>
<circle cx="408.3" cy="259.3" r="0.75"/>
<circle cx="395.7" cy="265.0" r="0.75"/>
<circle cx="403.6" cy="271.1" r="0.75"/>
<circle cx="404.9" cy="261.3" r="0.75"/>
<circle cx="396.2" cy="276.5" r="0.75"/>
<circle cx="388.6" cy="266.8" r="0.75"/>
<circle cx="392.0" cy="255.1" r="0.75"/>
<circle cx="400.9" cy="278.2" r="0.75"/>
<circle cx="396.5" cy="236.9" r="0.75"/>
<circle cx="400.8" cy="281.1" r="0.75"/>
<circle cx="406.0" cy="276.1" r="0.75"/>
<circle cx="400.3" cy="280.2" r="0.75"/>
<circle cx="400.5" cy="280.5" r="0.75"/>
<circle cx="396.7" cy="262.0" r="0.75"/>
<circle cx="400.6" cy="278.9" r="0.75"/>
<circle cx="395.8" cy="268.9" r="0.75"/>
<circle cx="398.5" cy="279.3" r="0.75"/>
<circle cx="398.9" cy="276.1" r="0.75"/>
<circle cx="403.1" cy="274.6" r="0.75"/>
<circle cx="403.9" cy="272.7" r="0.75"/>
<circle cx="404.2" cy="256.2" r="0.75"/>
<circle cx="395.7" cy="264.5" r="0.75"/>
<circle cx="400.6" cy="277.6" r="0.75"/>
<circle cx="390.1" cy="263.9" r="0.75"/>
<circle cx="399.0" cy="279.8" r="0.75"/>
<circle cx="386.4" cy="266.9" r="0.75"/>
<circle cx="402.0" cy="268.6" r="0.75"/>
<circle cx="395.4" cy="265.8" r="0.75"/>
<circle cx="400.1" cy="281.1" r="0.75"/>
<circle cx="392.0" cy="280.0" r="0.75"/>
<circle cx="391.8" cy="253.5" r="0.75"/>
<circle cx="405.8" cy="219.8" r="0.75"/>
<circle cx="392.8" cy="281.1" r="0.75"/>
<circle cx="392.3" cy="266.7" r="0.75"/>
<circle cx="398.2" cy="264.1" r="0.75"/>
<circle cx="399.1" cy="277.6" r="0.75"/>
<circle cx="391.6" cy="272.0" r="0.75"/>
<circle cx="397.4" cy="267.0" r="0.75"/>
<circle cx="406.0" cy="241.8" r="0.75"/>
<circle cx="393.4" cy="242.7" r="0.75"/>
<circle cx="409.7" cy="273.1" r="0.75"/>
<circle cx="398.0" cy="279.5" r="0.75"/>
<circle cx="388.2" cy="273.6" r="0.75"/>
<circle cx="395.4" cy="251.8" r="0.75"/>
<circle cx="395.6" cy="261.6" r="0.75"/>
<circle cx="393.0" cy="270.7" r="0.75"/>
<circle cx="395.9" cy="278.3" r="0.75"/>
<circle cx="397.4" cy="276.5" r="0.75"/>
<circle cx="401.9" cy="277.6" r="0.75"/>
<circle cx="395.2" cy="272.1" r="0.75"/>
<circle cx="388.1" cy="260.3" r="0.75"/>
<circle cx="391.5" cy="269.0" r="0.75"/>
<circle cx="397.6" cy="262.1" r="0.75"/>
<circle cx="398.6" cy="270.6" r="0.75"/>
<circle cx="392.7" cy="236.3" r="0.75"/>
<circle cx="404.1" cy="272.2" r="0.75"/>
<circle cx="393.9" cy="273.1" r="0.75"/>
<circle cx="386.9" cy="277.6" r="0.75"/>
<circle cx="390.8" cy="275.0" r="0.75"/>
<circle cx="391.1" cy="273.1" r="0.75"/>
<circle cx="396.9" cy="262.8" r="0.75"/>
<circle cx="402.6" cy="272.9" r="0.75"/>
<circle cx="395.5" cy="268.8" r="0.75"/>
<circle cx="394.9" cy="267.7" r="0.75"/>
<circle cx="396.3" cy="205.5" r="0.75"/>
<circle cx="409.0" cy="268.9" r="0.75"/>
<circle cx="397.0" cy="256.9" r="0.75"/>
<circle cx="393.1" cy="280.4" r="0.75"/>
<circle cx="391.1" cy="254.7" r="0.75"/>
<circle cx="387.0" cy="267.0" r="0.75"/>
<circle cx="403.0" cy="273.2" r="0.75"/>
<circle cx="405.2" cy="276.8" r="0.75"/>
<circle cx="399.1" cy="274.3" r="0.75"/>
<circle cx="395.3" cy="270.0" r="0.75"/>
<circle cx="407.0" cy="279.6" r="0.75"/>
<circle cx="407.3" cy="246.3" r="0.75"/>
<circle cx="409.6" cy="254.0" r="0.75"/>
<circle cx="405.2" cy="274.1" r="0.75"/>
<circle cx="400.9" cy="280.5" r="0.75"/>
<circle cx="396.6" cy="268.5" r="0.75"/>
<circle cx="408.4" cy="278.1" r="0.75"/>
<circle cx="404.8" cy="255.3" r="0.75"/>
<circle cx="396.0" cy="264.3" r="0.75"/>
<circle cx="389.7" cy="265.9" r="0.75"/>
<circle cx="400.6" cy="277.2" r="0.75"/>
<circle cx="407.2" cy="267.0" r="0.75"/>
<circle cx="404.6" cy="277.1" r="0.75"/>
<circle cx="392.4" cy="276.2" r="0.75"/>
<circle cx="394.5" cy="272.9" r="0.75"/>
<circle cx="398.7" cy="262.7" r="0.75"/>
<circle cx="392.8" cy="277.5" r="0.75"/>
<circle cx="394.9" cy="262.3" r="0.75"/>
<circle cx="399.0" cy="274.8" r="0.75"/>
<circle cx="406.9" cy="277.3" r="0.75"/>
<circle cx="388.2" cy="273.0" r="0.75"/>
<circle cx="405.8" cy="247.4" r="0.75"/>
<circle cx="401.7" cy="264.5" r="0.75"/>
<circle cx="400.3" cy="280.9" r="0.75"/>
<circle cx="396.6" cy="254.7" r="0.75"/>
<circle cx="403.9" cy="280.5" r="0.75"/>
<circle cx="405.7" cy="272.2" r="0.75"/>
<circle cx="398.1" cy="273.3" r="0.75"/>
<circle cx="398.4" cy="271.7" r="0.75"/>
<circle cx="396.7" cy="263.9" r="0.75"/>
<circle cx="397.7" cy="264.1" r="0.75"/>
<circle cx="387.6" cy="271.8" r="0.75"/>
<circle cx="396.2" cy="256.9" r="0.75"/>
<circle cx="400.3" cy="281.1" r="0.75"/>
<circle cx="396.1" cy="254.9" r="0.75"/>
<circle cx="397.7" cy="276.4" r="0.75"/>
<circle cx="401.7" cy="273.9" r="0.75"/>
<circle cx="395.5" cy="262.2" r="0.75"/>
<circle cx="394.8" cy="280.3" r="0.75"/>
<circle cx="397.8" cy="272.1" r="0.75"/>
<circle cx="398.2" cy="279.5" r="0.75"/>
<circle cx="394.5" cy="268.1" r="0.75"/>
<circle cx="393.5" cy="274.9" r="0.75"/>
<circle cx="387.0" cy="264.1" r="0.75"/>
<circle cx="394.8" cy="256.7" r="0.75"/>
<circle cx="399.5" cy="279.8" r="0.75"/>
<circle cx="404.8" cy="278.5" r="0.75"/>
<circle cx="404.8" cy="269.4" r="0.75"/>
<circle cx="403.8" cy="273.5" r="0.75"/>
<circle cx="390.2" cy="213.1" r="0.75"/>
<circle cx="406.2" cy="277.1" r="0.75"/>
<circle cx="401.1" cy="277.5" r="0.75"/>
<circle cx="393.4" cy="257.4" r="0.75"/>
<circle cx="406.6" cy="249.2" r="0.75"/>
<circle cx="394.4" cy="251.1" r="0.75"/>
<circle cx="407.0" cy="247.8" r="0.75"/>
<circle cx="395.3" cy="270.2" r="0.75"/>
<circle cx="401.4" cy="271.6" r="0.75"/>
<circle cx="402.3" cy="277.8" r="0.75"/>
<circle cx="399.3" cy="274.6" r="0.75"/>
<circle cx="399.8" cy="280.4" r="0.75"/>
<circle cx="396.1" cy="270.7" r="0.75"/>
<circle cx="405.0" cy="269.6" r="0.75"/>
<circle cx="402.2" cy="250.3" r="0.75"/>
<circle cx="401.0" cy="269.7" r="0.75"/>
<circle cx="405.3" cy="272.0" r="0.75"/>
<circle cx="405.4" cy="277.8" r="0.75"/>
<circle cx="390.9" cy="260.6" r="0.75"/>
<circle cx="410.0" cy="244.3" r="0.75"/>
<circle cx="394.5" cy="263.6" r="0.75"/>
<circle cx="395.8" cy="272.7" r="0.75"/>
<circle cx="404.1" cy="250.0" r="0.75"/>
<circle cx="394.3" cy="270.1" r="0.75"/>
<circle cx="406.0" cy="274.2" r="0.75"/>
<circle cx="399.4" cy="275.7" r="0.75"/>
<circle cx="397.1" cy="268.2" r="0.75"/>
<circle cx="400.3" cy="280.6" r="0.75"/>
<circle cx="400.7" cy="280.1" r="0.75"/>
<circle cx="404.8" cy="274.6" r="0.75"/>
<circle cx="392.5" cy="276.1" r="0.75"/>
<circle cx="402.0" cy="263.8" r="0.75"/>
<circle cx="387.6" cy="250.1" r="0.75"/>
<circle cx="388.9" cy="275.4" r="0.75"/>
<circle cx="387.5" cy="266.3" r="0.75"/>
<circle cx="398.6" cy="278.7" r="0.75"/>
<circle cx="399.9" cy="280.6" r="0.75"/>
<circle cx="390.9" cy="263.4" r="0.75"/>
<circle cx="399.2" cy="277.3" r="0.75"/>
<circle cx="400.3" cy="281.0" r="0.75"/>
<circle cx="400.9" cy="278.2" r="0.75"/>
<circle cx="402.9" cy="243.1" r="0.75"/>
<circle cx="384.5" cy="277.4" r="0.75"/>
<circle cx="393.2" cy="266.2" r="0.75"/>
<circle cx="391.8" cy="260.9" r="0.75"/>
<circle cx="408.0" cy="273.7" r="0.75"/>
<circle cx="398.9" cy="277.1" r="0.75"/>
<circle cx="401.2" cy="280.9" r="0.75"/>
<circle cx="394.6" cy="275.8" r="0.75"/>
<circle cx="410.7" cy="274.9" r="0.75"/>
<circle cx="393.7" cy="265.1" r="0.75"/>
<circle cx="402.8" cy="278.8" r="0.75"/>
<circle cx="393.9" cy="274.7" r="0.75"/>
<circle cx="401.5" cy="266.9" r="0.75"/>
<circle cx="394.6" cy="275.9" r="0.75"/>
<circle cx="404.0" cy="278.7" r="0.75"/>
<circle cx="402.2" cy="269.3" r="0.75"/>
<circle cx="395.4" cy="276.9" r="0.75"/>
<circle cx="400.6" cy="280.0" r="0.75"/>
<circle cx="393.8" cy="277.6" r="0.75"/>
<circle cx="405.0" cy="274.5" r="0.75"/>
<circle cx="400.2" cy="281.0" r="0.75"/>
<circle cx="406.2" cy="275.8" r="0.75"/>
<circle cx="399.0" cy="280.0" r="0.75"/>
<circle cx="397.5" cy="273.0" r="0.75"/>
<circle cx="394.7" cy="260.4" r="0.75"/>
<circle cx="398.0" cy="265.9" r="0.75"/>
<circle cx="404.4" cy="253.1" r="0.75"/>
<circle cx="387.7" cy="275.2" r="0.75"/>
<circle cx="400.4" cy="280.5" r="0.75"/>
<circle cx="398.8" cy="278.0" r="0.75"/>
<circle cx="402.9" cy="279.8" r="0.75"/>
<circle cx="399.4" cy="276.9" r="0.75"/>
<circle cx="396.9" cy="274.6" r="0.75"/>
<circle cx="392.8" cy="262.7" r="0.75"/>
<circle cx="395.2" cy="263.9" r="0.75"/>
<circle cx="395.3" cy="273.8" r="0.75"/>
<circle cx="390.0" cy="250.9" r="0.75"/>
<circle cx="397.3" cy="265.9" r="0.75"/>
<circle cx="404.1" cy="229.4" r="0.75"/>
<circle cx="397.3" cy="278.5" r="0.75"/>
<circle cx="393.2" cy="269.1" r="0.75"/>
<circle cx="392.8" cy="258.9" r="0.75"/>
<circle cx="400.7" cy="278.3" r="0.75"/>
<circle cx="400.6" cy="279.9" r="0.75"/>
<circle cx="394.7" cy="276.2" r="0.75"/>
<circle cx="388.9" cy="262.6" r="0.75"/>
<circle cx="403.6" cy="269.9" r="0.75"/>
<circle cx="405.4" cy="240.2" r="0.75"/>
<circle cx="394.4" cy="263.6" r="0.75"/>
<circle cx="401.5" cy="280.6" r="0.75"/>
<circle cx="400.0" cy="281.0" r="0.75"/>
<circle cx="393.9" cy="259.6" r="0.75"/>
<circle cx="397.4" cy="280.1" r="0.75"/>
<circle cx="411.6" cy="272.9" r="0.75"/>
<circle cx="397.6" cy="269.6" r="0.75"/>
<circle cx="398.4" cy="275.7" r="0.75"/>
<circle cx="400.3" cy="280.8" r="0.75"/>
<circle cx="397.0" cy="276.0" r="0.75"/>
<circle cx="397.4" cy="267.6" r="0.75"/>
<circle cx="399.9" cy="280.5" r="0.75"/>
<circle cx="397.6" cy="274.4" r="0.75"/>
<circle cx="402.1" cy="273.5" r="0.75"/>
<circle cx="405.9" cy="280.5" r="0.75"/>
<circle cx="399.4" cy="280.3" r="0.75"/>
<circle cx="402.1" cy="274.5" r="0.75"/>
<circle cx="402.8" cy="265.2" r="0.75"/>
<circle cx="408.5" cy="270.7" r="0.75"/>
<circle cx="398.3" cy="279.5" r="0.75"/>
<circle cx="401.3" cy="279.3" r="0.75"/>
<circle cx="401.7" cy="280.2" r="0.75"/>
<circle cx="400.5" cy="280.9" r="0.75"/>
<circle cx="397.1" cy="277.4" r="0.75"/>
<circle cx="395.6" cy="266.0" r="0.75"/>
<circle cx="389.9" cy="266.6" r="0.75"/>
<circle cx="395.4" cy="277.4" r="0.75"/>
<circle cx="389.4" cy="249.6" r="0.75"/>
<circle cx="396.1" cy="268.5" r="0.75"/>
<circle cx="405.3" cy="275.0" r="0.75"/>
<circle cx="394.0" cy="263.3" r="0.75"/>
<circle cx="402.4" cy="274.0" r="0.75"/>
<circle cx="401.5" cy="259.5" r="0.75"/>
<circle cx="397.7" cy="277.9" r="0.75"/>
<circle cx="394.5" cy="266.3" r="0.75"/>
<circle cx="397.7" cy="275.7" r="0.75"/>
<circle cx="408.0" cy="270.8" r="0.75"/>
<circle cx="402.8" cy="240.9" r="0.75"/>
<circle cx="392.8" cy="256.4" r="0.75"/>
<circle cx="400.3" cy="280.6" r="0.75"/>
<circle cx="392.6" cy="277.8" r="0.75"/>
<circle cx="394.4" cy="278.5" r="0.75"/>
<circle cx="403.9" cy="270.6" r="0.75"/>
<circle cx="396.6" cy="271.0" r="0.75"/>
<circle cx="398.9" cy="270.0" r="0.75"/>
<circle cx="403.3" cy="276.0" r="0.75"/>
<circle cx="406.7" cy="261.5" r="0.75"/>
<circle cx="396.8" cy="271.5" r="0.75"/>
<circle cx="394.6" cy="269.8" r="0.75"/>
<circle cx="402.3" cy="280.7" r="0.75"/>
<circle cx="394.0" cy="264.0" r="0.75"/>
<circle cx="397.3" cy="266.0" r="0.75"/>
<circle cx="390.0" cy="273.4" r="0.75"/>
<circle cx="400.2" cy="281.1" r="0.75"/>
<circle cx="396.0" cy="262.9" r="0.75"/>
<circle cx="407.6" cy="276.3" r="0.75"/>
<circle cx="399.8" cy="280.4" r="0.75"/>
<circle cx="398.5" cy="280.9" r="0.75"/>
<circle cx="390.7" cy="275.0" r="0.75"/>
<circle cx="407.9" cy="247.7" r="0.75"/>
<circle cx="394.5" cy="279.3" r="0.75"/>
<circle cx="399.6" cy="279.5" r="0.75"/>
<circle cx="397.5" cy="210.2" r="0.75"/>
<circle cx="403.1" cy="266.4" r="0.75"/>
<circle cx="398.7" cy="281.0" r="0.75"/>
<circle cx="402.4" cy="277.8" r="0.75"/>
<circle cx="389.0" cy="273.8" r="0.75"/>
<circle cx="402.2" cy="276.6" r="0.75"/>
<circle cx="391.7" cy="267.2" r="0.75"/>
<circle cx="399.2" cy="274.5" r="0.75"/>
<circle cx="385.8" cy="269.1" r="0.75"/>
<circle cx="405.3" cy="276.7" r="0.75"/>
<circle cx="393.5" cy="269.0" r="0.75"/>
<circle cx="399.0" cy="271.4" r="0.75"/>
<circle cx="399.0" cy="280.6" r="0.75"/>
<circle cx="403.2" cy="241.2" r="0.75"/>
<circle cx="395.6" cy="275.6" r="0.75"/>
<circle cx="385.2" cy="274.0" r="0.75"/>
<circle cx="393.2" cy="276.3" r="0.75"/>
<circle cx="401.9" cy="266.4" r="0.75"/>
<circle cx="388.9" cy="271.4" r="0.75"/>
<circle cx="396.1" cy="263.5" r="0.75"/>
<circle cx="396.0" cy="240.7" r="0.75"/>
<circle cx="400.1" cy="281.0" r="0.75"/>
<circle cx="403.1" cy="254.0" r="0.75"/>
<circle cx="391.1" cy="271.1" r="0.75"/>
<circle cx="401.5" cy="274.2" r="0.75"/>
<circle cx="392.9" cy="261.8" r="0.75"/>
<circle cx="398.0" cy="277.9" r="0.75"/>
<circle cx="387.2" cy="241.1" r="0.75"/>
<circle cx="390.9" cy="277.5" r="0.75"/>
<circle cx="401.3" cy="276.5" r="0.75"/>
<circle cx="394.4" cy="271.7" r="0.75"/>
<circle cx="404.6" cy="280.8" r="0.75"/>
<circle cx="400.9" cy="268.0" r="0.75"/>
<circle cx="387.7" cy="250.2" r="0.75"/>
<circle cx="385.5" cy="251.0" r="0.75"/>
<circle cx="400.7" cy="278.0" r="0.75"/>
<circle cx="390.7" cy="273.9" r="0.75"/>
<circle cx="398.1" cy="270.5" r="0.75"/>
<circle cx="402.1" cy="277.6" r="0.75"/>
<circle cx="397.0" cy="241.2" r="0.75"/>
<circle cx="395.9" cy="243.5" r="0.75"/>
<circle cx="401.8" cy="280.9" r="0.75"/>
<circle cx="402.0" cy="266.2" r="0.75"/>
<circle cx="398.6" cy="280.2" r="0.75"/>
<circle cx="384.7" cy="220.6" r="0.75"/>
<circle cx="397.6" cy="272.4" r="0.75"/>
<circle cx="398.9" cy="268.7" r="0.75"/>
<circle cx="390.4" cy="280.9" r="0.75"/>
<circle cx="403.4" cy="272.3" r="0.75"/>
<circle cx="400.7" cy="280.4" r="0.75"/>
<circle cx="402.6" cy="273.4" r="0.75"/>
<circle cx="393.6" cy="280.4" r="0.75"/>
<circle cx="403.5" cy="267.3" r="0.75"/>
<circle cx="391.2" cy="272.2" r="0.75"/>
<circle cx="406.0" cy="233.0" r="0.75"/>
<circle cx="395.9" cy="270.5" r="0.75"/>
<circle cx="391.2" cy="278.0" r="0.75"/>
<circle cx="394.4" cy="275.2" r="0.75"/>
<circle cx="410.1" cy="263.3" r="0.75"/>
<circle cx="396.1" cy="260.3" r="0.75"/>
<circle cx="389.6" cy="261.3" r="0.75"/>
<circle cx="398.7" cy="268.5" r="0.75"/>
<circle cx="393.1" cy="235.8" r="0.75"/>
<circle cx="402.3" cy="249.1" r="0.75"/>
<circle cx="387.3" cy="271.4" r="0.75"/>
<circle cx="389.8" cy="252.0" r="0.75"/>
<circle cx="394.7" cy="276.7" r="0.75"/>
<circle cx="396.2" cy="274.8" r="0.75"/>
<circle cx="396.5" cy="274.2" r="0.75"/>
<circle cx="385.8" cy="266.2" r="0.75"/>
<circle cx="391.8" cy="268.7" r="0.75"/>
<circle cx="394.6" cy="262.4" r="0.75"/>
<circle cx="400.5" cy="279.5" r="0.75"/>
<circle cx="388.6" cy="276.4" r="0.75"/>
<circle cx="403.6" cy="272.1" r="0.75"/>
<circle cx="386.8" cy="268.5" r="0.75"/>
<circle cx="397.5" cy="272.2" r="0.75"/>
<circle cx="400.1" cy="281.1" r="0.75"/>
<circle cx="395.5" cy="234.5" r="0.75"/>
<circle cx="398.6" cy="259.0" r="0.75"/>
<circle cx="404.1" cy="220.0" r="0.75"/>
<circle cx="398.0" cy="243.5" r="0.75"/>
<circle cx="398.0" cy="275.4" r="0.75"/>
<circle cx="394.4" cy="271.8" r="0.75"/>
<circle cx="407.3" cy="250.6" r="0.75"/>
<circle cx="404.0" cy="232.1" r="0.75"/>
<circle cx="392.8" cy="228.6" r="0.75"/>
<circle cx="395.2" cy="247.0" r="0.75"/>
<circle cx="402.0" cy="272.0" r="0.75"/>
<circle cx="388.8" cy="277.0" r="0.75"/>
<circle cx="401.0" cy="274.9" r="0.75"/>
<circle cx="393.9" cy="263.0" r="0.75"/>
<circle cx="396.9" cy="272.5" r="0.75"/>
<circle cx="397.5" cy="278.7" r="0.75"/>
<circle cx="396.7" cy="268.8" r="0.75"/>
<circle cx="397.0" cy="272.7" r="0.75"/>
<circle cx="397.1" cy="273.5" r="0.75"/>
<circle cx="399.2" cy="273.8" r="0.75"/>
<circle cx="395.6" cy="271.8" r="0.75"/>
<circle cx="395.7" cy="277.0" r="0.75"/>
<circle cx="396.2" cy="267.1" r="0.75"/>
<circle cx="398.2" cy="281.1" r="0.75"/>
<circle cx="396.5" cy="265.0" r="0.75"/>
<circle cx="396.3" cy="264.1" r="0.75"/>
<circle cx="390.0" cy="266.8" r="0.75"/>
<circle cx="395.2" cy="259.1" r="0.75"/>
<circle cx="391.6" cy="254.0" r="0.75"/>
<circle cx="400.1" cy="281.1" r="0.75"/>
<circle cx="401.0" cy="274.1" r="0.75"/>
<circle cx="393.4" cy="256.0" r="0.75"/>
<circle cx="401.7" cy="266.8" r="0.75"/>
<circle cx="400.1" cy="281.1" r="0.75"/>
<circle cx="398.5" cy="274.9" r="0.75"/>
<circle cx="395.4" cy="253.7" r="0.75"/>
<circle cx="389.2" cy="254.0" r="0.75"/>
<circle cx="390.6" cy="271.5" r="0.75"/>
<circle cx="386.5" cy="234.9" r="0.75"/>
<circle cx="396.1" cy="262.1" r="0.75"/>
<circle cx="407.6" cy="269.6" r="0.75"/>
<circle cx="409.9" cy="242.8" r="0.75"/>
<circle cx="402.8" cy="254.2" r="0.75"/>
<circle cx="391.8" cy="256.7" r="0.75"/>
<circle cx="390.1" cy="267.5" r="0.75"/>
<circle cx="395.3" cy="270.8" r="0.75"/>
<circle cx="390.7" cy="263.7" r="0.75"/>
<circle cx="391.7" cy="267.6" r="0.75"/>
<circle cx="404.9" cy="279.1" r="0.75"/>
<circle cx="409.6" cy="251.5" r="0.75"/>
<circle cx="403.9" cy="252.7" r="0.75"/>
<circle cx="411.3" cy="270.4" r="0.75"/>
<circle cx="398.3" cy="275.5" r="0.75"/>
<circle cx="391.7" cy="213.1" r="0.75"/>
<circle cx="397.3" cy="221.0" r="0.75"/>
<circle cx="408.8" cy="267.3" r="0.75"/>
<circle cx="401.1" cy="280.9" r="0.75"/>
<circle cx="386.9" cy="271.4" r="0.75"/>
<circle cx="396.2" cy="264.5" r="0.75"/>
<circle cx="401.3" cy="269.3" r="0.75"/>
<circle cx="396.8" cy="273.9" r="0.75"/>
<circle cx="405.7" cy="258.3" r="0.75"/>
<circle cx="398.0" cy="264.7" r="0.75"/>
<circle cx="404.6" cy="242.8" r="0.75"/>
<circle cx="395.7" cy="265.6" r="0.75"/>
<circle cx="402.1" cy="274.1" r="0.75"/>
<circle cx="385.4" cy="246.9" r="0.75"/>
<circle cx="398.5" cy="273.7" r="0.75"/>
<circle cx="394.3" cy="264.1" r="0.75"/>
<circle cx="391.0" cy="268.0" r="0.75"/>
<circle cx="402.8" cy="243.4" r="0.75"/>
<circle cx="396.3" cy="270.1" r="0.75"/>
<circle cx="389.6" cy="233.1" r="0.75"/>
<circle cx="393.5" cy="264.6" r="0.75"/>
<circle cx="396.3" cy="279.8" r="0.75"/>
<circle cx="411.6" cy="251.4" r="0.75"/>
<circle cx="395.1" cy="280.4" r="0.75"/>
<circle cx="391.9" cy="276.8" r="0.75"/>
<circle cx="399.6" cy="278.6" r="0.75"/>
<circle cx="405.9" cy="277.2" r="0.75"/>
<circle cx="389.9" cy="273.3" r="0.75"/>
<circle cx="399.3" cy="278.9" r="0.75"/>
<circle cx="404.0" cy="275.7" r="0.75"/>
<circle cx="401.6" cy="280.2" r="0.75"/>
<circle cx="403.0" cy="278.2" r="0.75"/>
<circle cx="397.6" cy="276.8" r="0.75"/>
<circle cx="399.1" cy="276.9" r="0.75"/>
<circle cx="399.2" cy="277.5" r="0.75"/>
<circle cx="402.2" cy="276.5" r="0.75"/>
<circle cx="399.5" cy="275.3" r="0.75"/>
<circle cx="404.4" cy="277.0" r="0.75"/>
<circle cx="399.3" cy="280.5" r="0.75"/>
<circle cx="399.9" cy="279.8" r="0.75"/>
<circle cx="391.0" cy="275.3" r="0.75"/>
<circle cx="396.6" cy="280.3" r="0.75"/>
<circle cx="408.9" cy="267.3" r="0.75"/>
<circle cx="398.3" cy="281.0" r="0.75"/>
<circle cx="405.0" cy="272.8" r="0.75"/>
<circle cx="398.0" cy="266.1" r="0.75"/>
<circle cx="400.0" cy="281.1" r="0.75"/>
<circle cx="401.5" cy="281.0" r="0.75"/>
<circle cx="388.3" cy="270.9" r="0.75"/>
<circle cx="395.0" cy="275.7" r="0.75"/>
<circle cx="392.5" cy="275.9" r="0.75"/>
<circle cx="390.8" cy="277.0" r="0.75"/>
<circle cx="407.8" cy="270.4" r="0.75"/>
<circle cx="402.4" cy="271.6" r="0.75"/>
<circle cx="398.5" cy="272.9" r="0.75"/>
<circle cx="390.3" cy="276.8" r="0.75"/>
<circle cx="390.0" cy="280.8" r="0.75"/>
<circle cx="398.3" cy="263.5" r="0.75"/>
<circle cx="399.8" cy="279.7" r="0.75"/>
<circle cx="399.4" cy="279.7" r="0.75"/>
<circle cx="393.7" cy="262.0" r="0.75"/>
<circle cx="385.9" cy="264.6" r="0.75"/>
<circle cx="394.5" cy="275.7" r="0.75"/>
<circle cx="395.3" cy="271.4" r="0.75"/>
<circle cx="403.0" cy="236.0" r="0.75"/>
<circle cx="399.6" cy="280.4" r="0.75"/>
<circle cx="404.2" cy="257.9" r="0.75"/>
<circle cx="400.7" cy="280.9" r="0.75"/>
<circle cx="387.5" cy="243.8" r="0.75"/>
<circle cx="397.1" cy="275.5" r="0.75"/>
<circle cx="400.4" cy="280.7" r="0.75"/>
<circle cx="397.6" cy="280.1" r="0.75"/>
<circle cx="393.9" cy="251.7" r="0.75"/>
<circle cx="399.8" cy="279.6" r="0.75"/>
<circle cx="397.9" cy="264.5" r="0.75"/>
<circle cx="399.4" cy="280.9" r="0.75"/>
<circle cx="398.0" cy="261.4" r="0.75"/>
<circle cx="402.0" cy="265.3" r="0.75"/>
<circle cx="392.4" cy="276.3" r="0.75"/>
<circle cx="404.5" cy="269.0" r="0.75"/>
<circle cx="397.0" cy="277.1" r="0.75"/>
<circle cx="403.1" cy="264.4" r="0.75"/>
<circle cx="397.6" cy="245.5" r="0.75"/>
<circle cx="399.8" cy="280.4" r="0.75"/>
<circle cx="403.0" cy="277.0" r="0.75"/>
<circle cx="394.4" cy="269.5" r="0.75"/>
<circle cx="399.0" cy="271.1" r="0.75"/>
<circle cx="398.8" cy="279.4" r="0.75"/>
<circle cx="400.3" cy="280.3" r="0.75"/>
<circle cx="404.6" cy="265.2" r="0.75"/>
<circle cx="387.9" cy="275.2" r="0.75"/>
<circle cx="411.9" cy="249.9" r="0.75"/>
<circle cx="397.3" cy="263.4" r="0.75"/>
<circle cx="395.5" cy="279.4" r="0.75"/>
<circle cx="402.9" cy="274.2" r="0.75"/>
<circle cx="403.2" cy="268.3" r="0.75"/>
<circle cx="398.5" cy="280.9" r="0.75"/>
<circle cx="402.5" cy="277.1" r="0.75"/>
<circle cx="404.7" cy="252.5" r="0.75"/>
<circle cx="391.2" cy="268.6" r="0.75"/>
<circle cx="391.7" cy="275.4" r="0.75"/>
<circle cx="393.6" cy="274.3" r="0.75"/>
<circle cx="396.4" cy="269.6" r="0.75"/>
<circle cx="398.5" cy="279.8" r="0.75"/>
<circle cx="401.8" cy="275.3" r="0.75"/>
<circle cx="400.8" cy="276.4" r="0.75"/>
<circle cx="404.4" cy="274.2" r="0.75"/>
<circle cx="407.5" cy="280.6" r="0.75"/>
<circle cx="397.9" cy="266.2" r="0.75"/>
<circle cx="398.0" cy="274.5" r="0.75"/>
<circle cx="399.5" cy="279.6" r="0.75"/>
<circle cx="394.0" cy="276.4" r="0.75"/>
<circle cx="403.9" cy="272.9" r="0.75"/>
<circle cx="394.0" cy="277.8" r="0.75"/>
<circle cx="402.2" cy="265.9" r="0.75"/>
<circle cx="395.0" cy="278.7" r="0.75"/>
<circle cx="393.4" cy="265.1" r="0.75"/>
<circle cx="386.8" cy="269.4" r="0.75"/>
<circle cx="402.9" cy="269.6" r="0.75"/>
<circle cx="396.2" cy="266.0" r="0.75"/>
<circle cx="393.4" cy="265.3" r="0.75"/>
<circle cx="402.7" cy="271.5" r="0.75"/>
<circle cx="400.8" cy="279.0" r="0.75"/>
<circle cx="404.0" cy="267.0" r="0.75"/>
<circle cx="397.4" cy="268.1" r="0.75"/>
<circle cx="405.1" cy="223.0" r="0.75"/>
<circle cx="396.7" cy="256.1" r="0.75"/>
<circle cx="402.6" cy="271.0" r="0.75"/>
<circle cx="398.6" cy="277.2" r="0.75"/>
<circle cx="399.5" cy="280.6" r="0.75"/>
<circle cx="399.1" cy="273.5" r="0.75"/>
<circle cx="403.9" cy="276.8" r="0.75"/>
<circle cx="390.3" cy="262.7" r="0.75"/>
<circle cx="390.7" cy="271.7" r="0.75"/>
<circle cx="397.5" cy="271.9" r="0.75"/>
<circle cx="400.5" cy="279.9" r="0.75"/>
<circle cx="399.4" cy="279.0" r="0.75"/>
<circle cx="385.0" cy="276.9" r="0.75"/>
<circle cx="410.8" cy="276.4" r="0.75"/>
<circle cx="391.3" cy="278.0" r="0.75"/>
<circle cx="402.7" cy="261.3" r="0.75"/>
<circle cx="393.8" cy="274.0" r="0.75"/>
<circle cx="395.4" cy="275.7" r="0.75"/>
<circle cx="394.9" cy="256.5" r="0.75"/>
<circle cx="394.6" cy="278.5" r="0.75"/>
<circle cx="405.0" cy="249.7" r="0.75"/>
<circle cx="400.5" cy="281.0" r="0.75"/>
<circle cx="400.9" cy="279.1" r="0.75"/>
<circle cx="391.0" cy="266.1" r="0.75"/>
<circle cx="401.1" cy="271.5" r="0.75"/>
<circle cx="397.2" cy="279.9" r="0.75"/>
<circle cx="394.4" cy="263.6" r="0.75"/>
<circle cx="396.8" cy="279.5" r="0.75"/>
<circle cx="398.6" cy="279.1" r="0.75"/>
<circle cx="399.8" cy="278.8" r="0.75"/>
<circle cx="401.5" cy="272.4" r="0.75"/>
<circle cx="397.9" cy="264.3" r="0.75"/>
<circle cx="410.7" cy="273.9" r="0.75"/>
<circle cx="403.0" cy="277.9" r="0.75"/>
<circle cx="399.4" cy="280.8" r="0.75"/>
<circle cx="399.3" cy="276.6" r="0.75"/>
<circle cx="396.7" cy="250.8" r="0.75"/>
<circle cx="394.1" cy="243.8" r="0.75"/>
<circle cx="390.7" cy="243.8" r="0.75"/>
<circle cx="390.9" cy="280.9" r="0.75"/>
<circle cx="395.6" cy="271.5" r="0.75"/>
<circle cx="391.8" cy="267.8" r="0.75"/>
<circle cx="394.9" cy="254.8" r="0.75"/>
<circle cx="395.6" cy="267.1" r="0.75"/>
<circle cx="391.5" cy="274.8" r="0.75"/>
<circle cx="400.2" cy="280.5" r="0.75"/>
<circle cx="397.3" cy="270.7" r="0.75"/>
<circle cx="396.1" cy="252.3" r="0.75"/>
<circle cx="398.8" cy="270.1" r="0.75"/>
<circle cx="400.9" cy="280.3" r="0.75"/>
<circle cx="392.5" cy="280.6" r="0.75"/>
<circle cx="403.2" cy="268.9" r="0.75"/>
<circle cx="386.3" cy="245.3" r="0.75"/>
<circle cx="394.6" cy="237.8" r="0.75"/>
<circle cx="399.0" cy="276.4" r="0.75"/>
<circle cx="402.3" cy="273.5" r="0.75"/>
<circle cx="401.1" cy="278.1" r="0.75"/>
<circle cx="398.7" cy="274.4" r="0.75"/>
<circle cx="405.4" cy="281.0" r="0.75"/>
<circle cx="398.7" cy="276.1" r="0.75"/>
<circle cx="401.8" cy="276.0" r="0.75"/>
<circle cx="394.9" cy="267.9" r="0.75"/>
<circle cx="398.8" cy="280.8" r="0.75"/>
<circle cx="390.1" cy="274.1" r="0.75"/>
<circle cx="394.8" cy="276.9" r="0.75"/>
<circle cx="400.2" cy="280.9" r="0.75"/>
<circle cx="402.5" cy="258.0" r="0.75"/>
<circle cx="395.8" cy="268.9" r="0.75"/>
<circle cx="393.6" cy="254.5" r="0.75"/>
<circle cx="398.6" cy="278.1" r="0.75"/>
<circle cx="388.1" cy="253.4" r="0.75"/>
<circle cx="389.3" cy="278.3" r="0.75"/>
<circle cx="397.4" cy="280.5" r="0.75"/>
<circle cx="405.6" cy="253.2" r="0.75"/>
<circle cx="394.2" cy="256.4" r="0.75"/>
<circle cx="396.8" cy="279.1" r="0.75"/>
<circle cx="409.8" cy="251.7" r="0.75"/>
<circle cx="400.8" cy="276.8" r="0.75"/>
<circle cx="393.2" cy="254.2" r="0.75"/>
<circle cx="407.8" cy="275.5" r="0.75"/>
<circle cx="401.0" cy="277.9" r="0.75"/>
<circle cx="398.8" cy="276.7" r="0.75"/>
<circle cx="399.9" cy="280.7" r="0.75"/>
<circle cx="398.4" cy="276.4" r="0.75"/>
<circle cx="396.1" cy="273.2" r="0.75"/>
<circle cx="395.9" cy="277.4" r="0.75"/>
<circle cx="406.9" cy="262.2" r="0.75"/>
<circle cx="398.4" cy="269.4" r="0.75"/>
<circle cx="401.0" cy="279.5" r="0.75"/>
<circle cx="399.6" cy="280.5" r="0.75"/>
<circle cx="399.1" cy="272.0" r="0.75"/>
<circle cx="393.0" cy="273.3" r="0.75"/>
<circle cx="388.7" cy="275.1" r="0.75"/>
<circle cx="397.0" cy="263.5" r="0.75"/>
<circle cx="399.3" cy="280.5" r="0.75"/>
<circle cx="390.6" cy="266.7" r="0.75"/>
<circle cx="395.0" cy="278.5" r="0.75"/>
<circle cx="399.8" cy="279.4" r="0.75"/>
<circle cx="402.4" cy="262.4" r="0.75"/>
<circle cx="394.4" cy="260.9" r="0.75"/>
<circle cx="400.2" cy="280.9" r="0.75"/>
<circle cx="404.6" cy="244.4" r="0.75"/>
<circle cx="395.9" cy="275.0" r="0.75"/>
<circle cx="404.9" cy="263.0" r="0.75"/>
<circle cx="390.2" cy="255.8" r="0.75"/>
<circle cx="408.7" cy="248.7" r="0.75"/>
<circle cx="400.2" cy="280.9" r="0.75"/>
<circle cx="393.4" cy="278.8" r="0.75"/>
<circle cx="385.0" cy="269.1" r="0.75"/>
<circle cx="414.5" cy="235.2" r="0.75"/>
<circle cx="415.1" cy="275.9" r="0.75"/>
<circle cx="414.3" cy="242.0" r="0.75"/>
<circle cx="413.5" cy="244.2" r="0.75"/>
<circle cx="413.1" cy="267.7" r="0.75"/>
<circle cx="415.3" cy="241.2" r="0.75"/>
<circle cx="409.8" cy="252.9" r="0.75"/>
<circle cx="409.4" cy="266.4" r="0.75"/>
<circle cx="412.9" cy="270.7" r="0.75"/>
<circle cx="408.0" cy="249.1" r="0.75"/>
<circle cx="412.8" cy="236.0" r="0.75"/>
<circle cx="408.2" cy="263.0" r="0.75"/>
<circle cx="408.9" cy="235.7" r="0.75"/>
<circle cx="414.3" cy="270.1" r="0.75"/>
<circle cx="411.7" cy="245.9" r="0.75"/>
<circle cx="412.8" cy="255.2" r="0.75"/>
<circle cx="412.2" cy="267.5" r="0.75"/>
<circle cx="408.4" cy="269.9" r="0.75"/>
<circle cx="411.9" cy="270.5" r="0.75"/>
<circle cx="414.9" cy="263.8" r="0.75"/>
<circle cx="408.1" cy="247.8" r="0.75"/>
<circle cx="413.2" cy="243.4" r="0.75"/>
<circle cx="411.5" cy="235.7" r="0.75"/>
<circle cx="413.3" cy="234.9" r="0.75"/>
<circle cx="414.2" cy="264.6" r="0.75"/>
<circle cx="411.3" cy="267.7" r="0.75"/>
<circle cx="412.9" cy="259.5" r="0.75"/>
<circle cx="411.6" cy="260.4" r="0.75"/>
<circle cx="409.3" cy="250.4" r="0.75"/>
<circle cx="413.6" cy="261.2" r="0.75"/>
<circle cx="409.0" cy="249.3" r="0.75"/>
<circle cx="412.8" cy="252.2" r="0.75"/>
<circle cx="414.5" cy="234.5" r="0.75"/>
<circle cx="413.9" cy="250.0" r="0.75"/>
<circle cx="415.3" cy="251.6" r="0.75"/>
<circle cx="412.0" cy="267.7" r="0.75"/>
<circle cx="410.5" cy="260.6" r="0.75"/>
<circle cx="410.0" cy="264.6" r="0.75"/>
<circle cx="409.4" cy="272.3" r="0.75"/>
<circle cx="412.3" cy="257.3" r="0.75"/>
<circle cx="414.3" cy="244.3" r="0.75"/>
<circle cx="415.2" cy="235.9" r="0.75"/>
<circle cx="408.8" cy="247.3" r="0.75"/>
<circle cx="415.2" cy="273.3" r="0.75"/>
<circle cx="409.0" cy="276.1" r="0.75"/>
<circle cx="409.4" cy="234.3" r="0.75"/>
<circle cx="414.9" cy="270.6" r="0.75"/>
<circle cx="408.0" cy="272.2" r="0.75"/>
<circle cx="414.7" cy="262.4" r="0.75"/>
<circle cx="412.4" cy="260.8" r="0.75"/>
<circle cx="411.3" cy="248.3" r="0.75"/>
<circle cx="415.3" cy="274.1" r="0.75"/>
<circle cx="411.2" cy="244.8" r="0.75"/>
<circle cx="414.1" cy="248.7" r="0.75"/>
<circle cx="410.2" cy="275.8" r="0.75"/>
<circle cx="409.7" cy="251.7" r="0.75"/>
<circle cx="415.0" cy="250.4" r="0.75"/>
<circle cx="412.6" cy="259.7" r="0.75"/>
<circle cx="413.8" cy="233.2" r="0.75"/>
<circle cx="411.7" cy="248.0" r="0.75"/>
<circle cx="412.1" cy="265.5" r="0.75"/>
<circle cx="415.1" cy="273.6" r="0.75"/>
<circle cx="411.2" cy="235.3" r="0.75"/>
<circle cx="412.4" cy="259.4" r="0.75"/>
<circle cx="409.6" cy="260.2" r="0.75"/>
<circle cx="413.8" cy="246.2" r="0.75"/>
<circle cx="412.8" cy="234.1" r="0.75"/>
<circle cx="410.8" cy="264.2" r="0.75"/>
<circle cx="412.8" cy="235.0" r="0.75"/>
<circle cx="413.5" cy="238.3" r="0.75"/>
<circle cx="414.5" cy="276.0" r="0.75"/>
<circle cx="413.0" cy="265.9" r="0.75"/>
<circle cx="413.3" cy="241.5" r="0.75"/>
<circle cx="414.3" cy="268.4" r="0.75"/>
<circle cx="410.9" cy="269.9" r="0.75"/>
<circle cx="414.5" cy="245.2" r="0.75"/>
<circle cx="412.3" cy="252.2" r="0.75"/>
<circle cx="413.7" cy="256.5" r="0.75"/>
<circle cx="409.4" cy="233.9" r="0.75"/>
<circle cx="414.0" cy="254.6" r="0.75"/>
<circle cx="412.4" cy="267.7" r="0.75"/>
<circle cx="409.8" cy="274.6" r="0.75"/>
<circle cx="413.2" cy="240.3" r="0.75"/>
<circle cx="410.0" cy="268.2" r="0.75"/>
<circle cx="411.3" cy="264.2" r="0.75"/>
<circle cx="413.9" cy="265.8" r="0.75"/>
<circle cx="410.0" cy="258.7" r="0.75"/>
<circle cx="414.7" cy="244.8" r="0.75"/>
<circle cx="408.9" cy="270.7" r="0.75"/>
<circle cx="408.4" cy="246.8" r="0.75"/>
<circle cx="380.4" cy="271.2" r="0.75"/>
<circle cx="378.6" cy="257.0" r="0.75"/>
<circle cx="366.2" cy="257.6" r="0.75"/>
<circle cx="378.6" cy="261.6" r="0.75"/>
<circle cx="376.4" cy="255.5" r="0.75"/>
<circle cx="366.8" cy="264.0" r="0.75"/>
<circle cx="372.9" cy="255.3" r="0.75"/>
<circle cx="373.3" cy="254.3" r="0.75"/>
<circle cx="377.4" cy="276.0" r="0.75"/>
<circle cx="372.7" cy="265.7" r="0.75"/>
<circle cx="368.7" cy="265.8" r="0.75"/>
<circle cx="376.2" cy="272.3" r="0.75"/>
<circle cx="378.3" cy="263.6" r="0.75"/>
<circle cx="365.8" cy="258.9" r="0.75"/>
<circle cx="379.9" cy="276.2" r="0.75"/>
<circle cx="372.4" cy="274.4" r="0.75"/>
<circle cx="378.9" cy="254.8" r="0.75"/>
<circle cx="376.7" cy="276.6" r="0.75"/>
<circle cx="379.2" cy="256.3" r="0.75"/>
<circle cx="384.0" cy="276.6" r="0.75"/>
<circle cx="378.0" cy="269.1" r="0.75"/>
<circle cx="376.4" cy="276.8" r="0.75"/>
<circle cx="381.2" cy="261.3" r="0.75"/>
<circle cx="381.1" cy="264.6" r="0.75"/>
<circle cx="381.7" cy="260.3" r="0.75"/>
<circle cx="367.6" cy="278.0" r="0.75"/>
<circle cx="363.9" cy="258.3" r="0.75"/>
<circle cx="371.9" cy="255.4" r="0.75"/>
<circle cx="381.0" cy="267.1" r="0.75"/>
<circle cx="379.2" cy="255.6" r="0.75"/>
<circle cx="382.0" cy="259.4" r="0.75"/>
<circle cx="379.3" cy="258.0" r="0.75"/>
<circle cx="367.9" cy="256.6" r="0.75"/>
<circle cx="380.2" cy="267.3" r="0.75"/>
<circle cx="380.7" cy="258.6" r="0.75"/>
<circle cx="369.6" cy="257.1" r="0.75"/>
<circle cx="379.8" cy="263.3" r="0.75"/>
<circle cx="378.3" cy="269.4" r="0.75"/>
<circle cx="384.3" cy="266.8" r="0.75"/>
<circle cx="377.5" cy="268.7" r="0.75"/>
<circle cx="379.9" cy="262.9" r="0.75"/>
<circle cx="377.3" cy="264.8" r="0.75"/>
<circle cx="383.2" cy="268.9" r="0.75"/>
<circle cx="382.3" cy="278.1" r="0.75"/>
<circle cx="378.6" cy="255.7" r="0.75"/>
<circle cx="384.3" cy="262.9" r="0.75"/>
<circle cx="367.5" cy="273.8" r="0.75"/>
<circle cx="376.8" cy="260.9" r="0.75"/>
<circle cx="374.1" cy="266.3" r="0.75"/>
<circle cx="379.6" cy="254.9" r="0.75"/>
<circle cx="384.4" cy="272.4" r="0.75"/>
<circle cx="368.1" cy="254.9" r="0.75"/>
<circle cx="370.7" cy="268.8" r="0.75"/>
<circle cx="362.9" cy="265.7" r="0.75"/>
<circle cx="377.6" cy="276.1" r="0.75"/>
<circle cx="382.2" cy="280.8" r="0.75"/>
<circle cx="373.9" cy="278.1" r="0.75"/>
<circle cx="366.9" cy="257.6" r="0.75"/>
<circle cx="370.6" cy="270.6" r="0.75"/>
<circle cx="368.3" cy="278.5" r="0.75"/>
<circle cx="361.8" cy="267.1" r="0.75"/>
<circle cx="371.7" cy="260.9" r="0.75"/>
<circle cx="368.7" cy="255.6" r="0.75"/>
<circle cx="381.0" cy="263.0" r="0.75"/>
<circle cx="380.6" cy="271.5" r="0.75"/>
<circle cx="370.9" cy="255.8" r="0.75"/>
<circle cx="382.7" cy="261.7" r="0.75"/>
<circle cx="379.2" cy="261.9" r="0.75"/>
<circle cx="383.5" cy="263.4" r="0.75"/>
<circle cx="377.8" cy="276.4" r="0.75"/>
<circle cx="374.4" cy="269.1" r="0.75"/>
<circle cx="379.4" cy="267.7" r="0.75"/>
<circle cx="378.7" cy="264.7" r="0.75"/>
<circle cx="383.9" cy="277.7" r="0.75"/>
<circle cx="383.4" cy="265.8" r="0.75"/>
<circle cx="381.4" cy="280.8" r="0.75"/>
<circle cx="378.8" cy="259.5" r="0.75"/>
<circle cx="356.8" cy="266.5" r="0.75"/>
<circle cx="365.2" cy="277.6" r="0.75"/>
<circle cx="379.8" cy="269.1" r="0.75"/>
<circle cx="377.2" cy="266.5" r="0.75"/>
<circle cx="383.5" cy="269.3" r="0.75"/>
<circle cx="374.3" cy="267.0" r="0.75"/>
<circle cx="372.4" cy="275.9" r="0.75"/>
<circle cx="376.2" cy="263.7" r="0.75"/>
<circle cx="382.6" cy="270.1" r="0.75"/>
<circle cx="381.2" cy="280.9" r="0.75"/>
<circle cx="368.8" cy="269.7" r="0.75"/>
<circle cx="383.8" cy="258.9" r="0.75"/>
<circle cx="373.7" cy="256.8" r="0.75"/>
<circle cx="366.9" cy="267.3" r="0.75"/>
<circle cx="375.6" cy="265.9" r="0.75"/>
<circle cx="376.0" cy="271.7" r="0.75"/>
<circle cx="379.3" cy="258.3" r="0.75"/>
<circle cx="380.8" cy="259.1" r="0.75"/>
<circle cx="368.2" cy="267.2" r="0.75"/>
<circle cx="377.3" cy="280.2" r="0.75"/>
<circle cx="375.9" cy="264.8" r="0.75"/>
<circle cx="374.5" cy="255.9" r="0.75"/>
<circle cx="374.8" cy="268.3" r="0.75"/>
<circle cx="384.2" cy="267.2" r="0.75"/>
<circle cx="377.5" cy="270.4" r="0.75"/>
<circle cx="376.5" cy="254.8" r="0.75"/>
<circle cx="377.9" cy="258.7" r="0.75"/>
<circle cx="376.8" cy="265.5" r="0.75"/>
<circle cx="380.3" cy="269.8" r="0.75"/>
<circle cx="377.4" cy="262.4" r="0.75"/>
<circle cx="377.9" cy="259.0" r="0.75"/>
<circle cx="382.8" cy="263.7" r="0.75"/>
<circle cx="376.2" cy="263.6" r="0.75"/>
<circle cx="368.6" cy="266.4" r="0.75"/>
<circle cx="369.8" cy="265.5" r="0.75"/>
<circle cx="380.8" cy="276.1" r="0.75"/>
<circle cx="369.4" cy="268.4" r="0.75"/>
<circle cx="371.3" cy="258.7" r="0.75"/>
<circle cx="372.8" cy="262.1" r="0.75"/>
<circle cx="373.1" cy="280.0" r="0.75"/>
<circle cx="380.4" cy="260.9" r="0.75"/>
<circle cx="384.3" cy="260.2" r="0.75"/>
<circle cx="376.5" cy="278.6" r="0.75"/>
<circle cx="367.9" cy="273.1" r="0.75"/>
<circle cx="363.2" cy="261.8" r="0.75"/>
<circle cx="366.0" cy="266.5" r="0.75"/>
<circle cx="376.4" cy="267.2" r="0.75"/>
<circle cx="378.8" cy="258.6" r="0.75"/>
<circle cx="380.5" cy="264.9" r="0.75"/>
<circle cx="383.2" cy="272.5" r="0.75"/>
<circle cx="371.0" cy="271.8" r="0.75"/>
<circle cx="370.6" cy="265.4" r="0.75"/>
<circle cx="371.7" cy="268.3" r="0.75"/>
<circle cx="373.3" cy="269.1" r="0.75"/>
<circle cx="382.7" cy="272.9" r="0.75"/>
<circle cx="382.8" cy="265.1" r="0.75"/>
<circle cx="375.6" cy="267.4" r="0.75"/>
<circle cx="362.4" cy="269.3" r="0.75"/>
<circle cx="380.2" cy="262.8" r="0.75"/>
<circle cx="355.9" cy="263.0" r="0.75"/>
<circle cx="382.4" cy="255.3" r="0.75"/>
<circle cx="379.4" cy="273.3" r="0.75"/>
<circle cx="378.5" cy="257.8" r="0.75"/>
<circle cx="377.0" cy="257.1" r="0.75"/>
<circle cx="378.0" cy="278.1" r="0.75"/>
<circle cx="381.0" cy="272.9" r="0.75"/>
<circle cx="373.1" cy="254.9" r="0.75"/>
<circle cx="379.2" cy="275.7" r="0.75"/>
<circle cx="378.1" cy="264.0" r="0.75"/>
<circle cx="358.9" cy="269.9" r="0.75"/>
<circle cx="371.8" cy="270.2" r="0.75"/>
<circle cx="371.6" cy="263.9" r="0.75"/>
<circle cx="379.8" cy="275.9" r="0.75"/>
<circle cx="380.1" cy="257.7" r="0.75"/>
<circle cx="370.9" cy="255.5" r="0.75"/>
<circle cx="375.7" cy="269.4" r="0.75"/>
<circle cx="375.2" cy="262.0" r="0.75"/>
<circle cx="373.6" cy="272.2" r="0.75"/>
<circle cx="377.3" cy="275.1" r="0.75"/>
<circle cx="371.1" cy="255.7" r="0.75"/>
<circle cx="383.6" cy="277.3" r="0.75"/>
<circle cx="376.5" cy="276.6" r="0.75"/>
<circle cx="379.7" cy="268.8" r="0.75"/>
<circle cx="374.6" cy="273.7" r="0.75"/>
<circle cx="382.1" cy="254.8" r="0.75"/>
<circle cx="377.1" cy="279.7" r="0.75"/>
<circle cx="373.6" cy="266.8" r="0.75"/>
<circle cx="379.0" cy="265.4" r="0.75"/>
<circle cx="382.4" cy="264.9" r="0.75"/>
<circle cx="358.3" cy="264.3" r="0.75"/>
<circle cx="372.4" cy="257.3" r="0.75"/>
<circle cx="371.9" cy="276.1" r="0.75"/>
<circle cx="381.9" cy="265.1" r="0.75"/>
<circle cx="376.7" cy="271.7" r="0.75"/>
<circle cx="377.9" cy="268.3" r="0.75"/>
<circle cx="379.6" cy="267.8" r="0.75"/>
<circle cx="376.8" cy="265.6" r="0.75"/>
<circle cx="367.5" cy="258.3" r="0.75"/>
<circle cx="371.0" cy="257.4" r="0.75"/>
<circle cx="366.5" cy="267.9" r="0.75"/>
<circle cx="359.5" cy="272.8" r="0.75"/>
<circle cx="374.0" cy="264.1" r="0.75"/>
<circle cx="378.5" cy="256.7" r="0.75"/>
<circle cx="378.3" cy="270.6" r="0.75"/>
<circle cx="379.5" cy="255.0" r="0.75"/>
<circle cx="374.0" cy="256.5" r="0.75"/>
<circle cx="383.0" cy="262.5" r="0.75"/>
<circle cx="383.1" cy="263.7" r="0.75"/>
<circle cx="376.9" cy="267.5" r="0.75"/>
<circle cx="359.3" cy="264.7" r="0.75"/>
<circle cx="381.4" cy="264.5" r="0.75"/>
<circle cx="365.6" cy="275.2" r="0.75"/>
<circle cx="375.6" cy="275.5" r="0.75"/>
<circle cx="380.9" cy="260.0" r="0.75"/>
<circle cx="365.7" cy="267.3" r="0.75"/>
<circle cx="374.1" cy="264.0" r="0.75"/>
<circle cx="379.8" cy="274.7" r="0.75"/>
<circle cx="360.9" cy="276.4" r="0.75"/>
<circle cx="377.7" cy="258.3" r="0.75"/>
<circle cx="383.6" cy="269.5" r="0.75"/>
<circle cx="381.3" cy="271.4" r="0.75"/>
<circle cx="380.5" cy="269.0" r="0.75"/>
<circle cx="383.6" cy="271.2" r="0.75"/>
<circle cx="376.3" cy="260.0" r="0.75"/>
<circle cx="374.4" cy="261.7" r="0.75"/>
<circle cx="374.7" cy="279.8" r="0.75"/>
<circle cx="376.1" cy="272.2" r="0.75"/>
<circle cx="366.4" cy="278.3" r="0.75"/>
<circle cx="362.9" cy="278.9" r="0.75"/>
<circle cx="373.8" cy="262.7" r="0.75"/>
<circle cx="369.6" cy="266.7" r="0.75"/>
<circle cx="375.5" cy="266.6" r="0.75"/>
<circle cx="365.1" cy="276.7" r="0.75"/>
<circle cx="379.9" cy="271.5" r="0.75"/>
<circle cx="372.2" cy="262.6" r="0.75"/>
<circle cx="383.9" cy="268.2" r="0.75"/>
<circle cx="376.4" cy="255.5" r="0.75"/>
<circle cx="382.8" cy="280.1" r="0.75"/>
<circle cx="382.3" cy="271.0" r="0.75"/>
<circle cx="379.4" cy="267.3" r="0.75"/>
<circle cx="379.1" cy="265.2" r="0.75"/>
<circle cx="381.0" cy="258.4" r="0.75"/>
<circle cx="383.0" cy="258.2" r="0.75"/>
<circle cx="384.4" cy="264.2" r="0.75"/>
<circle cx="374.0" cy="259.4" r="0.75"/>
<circle cx="361.7" cy="258.7" r="0.75"/>
<circle cx="381.6" cy="262.7" r="0.75"/>
<circle cx="378.7" cy="258.2" r="0.75"/>
<circle cx="361.2" cy="274.4" r="0.75"/>
<circle cx="382.6" cy="254.5" r="0.75"/>
<circle cx="372.5" cy="270.3" r="0.75"/>
<circle cx="380.6" cy="260.4" r="0.75"/>
<circle cx="375.3" cy="256.6" r="0.75"/>
<circle cx="369.1" cy="263.0" r="0.75"/>
<circle cx="383.4" cy="274.5" r="0.75"/>
<circle cx="379.6" cy="275.9" r="0.75"/>
<circle cx="377.9" cy="256.8" r="0.75"/>
<circle cx="371.4" cy="273.8" r="0.75"/>
<circle cx="382.5" cy="255.4" r="0.75"/>
<circle cx="375.3" cy="268.2" r="0.75"/>
<circle cx="362.7" cy="265.9" r="0.75"/>
<circle cx="379.2" cy="279.9" r="0.75"/>
<circle cx="384.0" cy="263.1" r="0.75"/>
<circle cx="370.2" cy="259.1" r="0.75"/>
<circle cx="366.8" cy="261.3" r="0.75"/>
<circle cx="376.6" cy="263.4" r="0.75"/>
<circle cx="380.4" cy="261.3" r="0.75"/>
<circle cx="383.8" cy="277.9" r="0.75"/>
<circle cx="371.2" cy="261.2" r="0.75"/>
<circle cx="376.9" cy="260.3" r="0.75"/>
<circle cx="381.0" cy="258.3" r="0.75"/>
<circle cx="384.1" cy="263.3" r="0.75"/>
<circle cx="383.0" cy="254.8" r="0.75"/>
<circle cx="366.3" cy="262.8" r="0.75"/>
<circle cx="373.3" cy="260.4" r="0.75"/>
<circle cx="372.6" cy="278.9" r="0.75"/>
<circle cx="383.5" cy="254.9" r="0.75"/>
<circle cx="365.9" cy="263.1" r="0.75"/>
<circle cx="383.0" cy="258.8" r="0.75"/>
<circle cx="361.3" cy="268.3" r="0.75"/>
<circle cx="359.5" cy="267.2" r="0.75"/>
<circle cx="379.6" cy="255.4" r="0.75"/>
<circle cx="384.0" cy="273.7" r="0.75"/>
<circle cx="365.5" cy="259.8" r="0.75"/>
<circle cx="384.0" cy="266.9" r="0.75"/>
<circle cx="376.4" cy="273.5" r="0.75"/>
<circle cx="363.6" cy="268.4" r="0.75"/>
<circle cx="368.4" cy="263.7" r="0.75"/>
<circle cx="376.1" cy="279.4" r="0.75"/>
<circle cx="384.0" cy="256.7" r="0.75"/>
<circle cx="373.3" cy="262.5" r="0.75"/>
<circle cx="382.4" cy="270.8" r="0.75"/>
<circle cx="369.3" cy="254.5" r="0.75"/>
<circle cx="376.1" cy="268.2" r="0.75"/>
<circle cx="361.6" cy="275.7" r="0.75"/>
<circle cx="382.6" cy="257.0" r="0.75"/>
<circle cx="377.2" cy="259.0" r="0.75"/>
<circle cx="374.3" cy="261.9" r="0.75"/>
<circle cx="372.8" cy="279.5" r="0.75"/>
<circle cx="383.3" cy="278.1" r="0.75"/>
<circle cx="378.5" cy="264.6" r="0.75"/>
<circle cx="371.7" cy="274.9" r="0.75"/>
<circle cx="379.1" cy="273.9" r="0.75"/>
<circle cx="373.5" cy="262.2" r="0.75"/>
<circle cx="351.5" cy="262.6" r="0.75"/>
<circle cx="379.1" cy="256.2" r="0.75"/>
<circle cx="373.2" cy="277.8" r="0.75"/>
<circle cx="378.1" cy="272.9" r="0.75"/>
<circle cx="378.3" cy="275.1" r="0.75"/>
<circle cx="373.8" cy="270.1" r="0.75"/>
<circle cx="381.5" cy="258.9" r="0.75"/>
<circle cx="373.6" cy="278.2" r="0.75"/>
<circle cx="375.6" cy="259.6" r="0.75"/>
<circle cx="383.5" cy="270.0" r="0.75"/>
<circle cx="369.8" cy="275.9" r="0.75"/>
<circle cx="382.8" cy="258.6" r="0.75"/>
<circle cx="383.6" cy="264.4" r="0.75"/>
<circle cx="380.7" cy="263.3" r="0.75"/>
<circle cx="372.7" cy="278.6" r="0.75"/>
<circle cx="369.9" cy="255.9" r="0.75"/>
<circle cx="377.5" cy="280.7" r="0.75"/>
<circle cx="366.1" cy="270.9" r="0.75"/>
<circle cx="377.6" cy="271.5" r="0.75"/>
<circle cx="361.0" cy="268.0" r="0.75"/>
<circle cx="379.5" cy="276.1" r="0.75"/>
<circle cx="365.9" cy="266.3" r="0.75"/>
<circle cx="384.1" cy="272.8" r="0.75"/>
<circle cx="373.2" cy="265.1" r="0.75"/>
<circle cx="377.4" cy="257.9" r="0.75"/>
<circle cx="366.8" cy="272.5" r="0.75"/>
<circle cx="373.6" cy="280.3" r="0.75"/>
<circle cx="380.9" cy="257.1" r="0.75"/>
<circle cx="369.3" cy="264.8" r="0.75"/>
<circle cx="379.8" cy="263.2" r="0.75"/>
<circle cx="374.9" cy="262.6" r="0.75"/>
<circle cx="373.2" cy="257.1" r="0.75"/>
<circle cx="382.5" cy="266.8" r="0.75"/>
<circle cx="378.0" cy="278.7" r="0.75"/>
<circle cx="379.1" cy="257.0" r="0.75"/>
<circle cx="371.4" cy="263.2" r="0.75"/>
<circle cx="382.7" cy="256.4" r="0.75"/>
<circle cx="380.9" cy="260.6" r="0.75"/>
<circle cx="377.9" cy="259.6" r="0.75"/>
<circle cx="366.2" cy="261.8" r="0.75"/>
<circle cx="372.4" cy="257.8" r="0.75"/>
<circle cx="361.9" cy="256.4" r="0.75"/>
<circle cx="384.1" cy="272.5" r="0.75"/>
<circle cx="379.5" cy="257.1" r="0.75"/>
<circle cx="376.6" cy="257.5" r="0.75"/>
<circle cx="381.9" cy="273.7" r="0.75"/>
<circle cx="379.8" cy="264.2" r="0.75"/>
<circle cx="383.6" cy="254.6" r="0.75"/>
<circle cx="372.9" cy="255.7" r="0.75"/>
<circle cx="380.7" cy="258.7" r="0.75"/>
<circle cx="378.3" cy="263.7" r="0.75"/>
<circle cx="354.5" cy="274.1" r="0.75"/>
<circle cx="382.7" cy="277.3" r="0.75"/>
<circle cx="367.9" cy="276.7" r="0.75"/>
<circle cx="369.8" cy="263.5" r="0.75"/>
<circle cx="347.8" cy="255.8" r="0.75"/>
<circle cx="370.7" cy="257.3" r="0.75"/>
<circle cx="373.4" cy="260.3" r="0.75"/>
<circle cx="379.8" cy="257.0" r="0.75"/>
<circle cx="377.6" cy="257.3" r="0.75"/>
<circle cx="370.0" cy="259.2" r="0.75"/>
<circle cx="361.7" cy="256.6" r="0.75"/>
<circle cx="372.4" cy="274.0" r="0.75"/>
<circle cx="377.0" cy="280.8" r="0.75"/>
<circle cx="372.8" cy="271.1" r="0.75"/>
<circle cx="362.2" cy="265.6" r="0.75"/>
<circle cx="361.3" cy="265.0" r="0.75"/>
<circle cx="373.2" cy="255.2" r="0.75"/>
<circle cx="375.0" cy="270.4" r="0.75"/>
<circle cx="372.4" cy="266.5" r="0.75"/>
<circle cx="366.4" cy="267.1" r="0.75"/>
<circle cx="382.7" cy="269.6" r="0.75"/>
<circle cx="377.2" cy="272.6" r="0.75"/>
<circle cx="376.3" cy="257.5" r="0.75"/>
<circle cx="381.0" cy="259.4" r="0.75"/>
<circle cx="379.6" cy="265.1" r="0.75"/>
<circle cx="381.1" cy="271.0" r="0.75"/>
<circle cx="368.5" cy="269.0" r="0.75"/>
<circle cx="367.5" cy="269.9" r="0.75"/>
<circle cx="373.6" cy="260.7" r="0.75"/>
<circle cx="363.9" cy="269.7" r="0.75"/>
<circle cx="382.5" cy="260.0" r="0.75"/>
<circle cx="377.8" cy="258.3" r="0.75"/>
<circle cx="381.7" cy="255.2" r="0.75"/>
<circle cx="371.1" cy="256.9" r="0.75"/>
<circle cx="374.9" cy="261.3" r="0.75"/>
<circle cx="362.7" cy="274.3" r="0.75"/>
<circle cx="373.9" cy="277.3" r="0.75"/>
<circle cx="377.5" cy="256.5" r="0.75"/>
<circle cx="378.9" cy="254.7" r="0.75"/>
<circle cx="369.2" cy="273.2" r="0.75"/>
<circle cx="371.3" cy="265.1" r="0.75"/>
<circle cx="372.6" cy="275.4" r="0.75"/>
<circle cx="372.9" cy="267.3" r="0.75"/>
<circle cx="352.3" cy="262.6" r="0.75"/>
<circle cx="379.5" cy="269.6" r="0.75"/>
<circle cx="381.2" cy="265.6" r="0.75"/>
<circle cx="364.0" cy="263.8" r="0.75"/>
<circle cx="373.6" cy="266.2" r="0.75"/>
<circle cx="381.5" cy="257.3" r="0.75"/>
<circle cx="383.3" cy="264.4" r="0.75"/>
<circle cx="380.8" cy="273.0" r="0.75"/>
<circle cx="378.9" cy="265.9" r="0.75"/>
<circle cx="383.1" cy="267.3" r="0.75"/>
<circle cx="382.7" cy="278.6" r="0.75"/>
<circle cx="366.1" cy="270.8" r="0.75"/>
<circle cx="375.6" cy="254.5" r="0.75"/>
<circle cx="384.1" cy="269.6" r="0.75"/>
<circle cx="356.6" cy="264.9" r="0.75"/>
<circle cx="376.5" cy="272.6" r="0.75"/>
<circle cx="348.6" cy="257.5" r="0.75"/>
<circle cx="379.0" cy="270.4" r="0.75"/>
<circle cx="360.4" cy="270.7" r="0.75"/>
<circle cx="372.5" cy="277.4" r="0.75"/>
<circle cx="366.9" cy="268.7" r="0.75"/>
<circle cx="374.8" cy="258.2" r="0.75"/>
<circle cx="368.1" cy="256.4" r="0.75"/>
<circle cx="377.7" cy="263.2" r="0.75"/>
<circle cx="369.2" cy="271.9" r="0.75"/>
<circle cx="375.4" cy="258.0" r="0.75"/>
<circle cx="373.9" cy="260.4" r="0.75"/>
<circle cx="376.5" cy="278.7" r="0.75"/>
<circle cx="369.0" cy="255.5" r="0.75"/>
<circle cx="376.5" cy="277.9" r="0.75"/>
<circle cx="377.8" cy="262.6" r="0.75"/>
<circle cx="365.6" cy="266.7" r="0.75"/>
<circle cx="380.0" cy="256.6" r="0.75"/>
<circle cx="383.6" cy="276.3" r="0.75"/>
<circle cx="383.6" cy="278.6" r="0.75"/>
<circle cx="367.2" cy="259.0" r="0.75"/>
<circle cx="376.9" cy="262.9" r="0.75"/>
<circle cx="364.8" cy="271.9" r="0.75"/>
<circle cx="371.3" cy="256.0" r="0.75"/>
<circle cx="371.2" cy="278.5" r="0.75"/>
<circle cx="349.4" cy="279.3" r="0.75"/>
<circle cx="349.8" cy="273.4" r="0.75"/>
<circle cx="354.8" cy="257.4" r="0.75"/>
<circle cx="368.4" cy="259.4" r="0.75"/>
<circle cx="325.1" cy="267.8" r="0.75"/>
<circle cx="347.7" cy="261.3" r="0.75"/>
<circle cx="377.3" cy="280.9" r="0.75"/>
<circle cx="375.8" cy="272.1" r="0.75"/>
<circle cx="323.7" cy="264.2" r="0.75"/>
<circle cx="355.2" cy="254.8" r="0.75"/>
<circle cx="372.0" cy="268.3" r="0.75"/>
<circle cx="370.6" cy="256.8" r="0.75"/>
<circle cx="354.0" cy="272.4" r="0.75"/>
<circle cx="362.6" cy="257.8" r="0.75"/>
<circle cx="366.3" cy="264.2" r="0.75"/>
<circle cx="331.9" cy="261.2" r="0.75"/>
<circle cx="359.2" cy="261.3" r="0.75"/>
<circle cx="350.4" cy="280.1" r="0.75"/>
<circle cx="337.6" cy="264.9" r="0.75"/>
<circle cx="331.4" cy="272.2" r="0.75"/>
<circle cx="347.3" cy="277.2" r="0.75"/>
<circle cx="339.3" cy="268.8" r="0.75"/>
<circle cx="378.9" cy="261.4" r="0.75"/>
<circle cx="328.0" cy="270.4" r="0.75"/>
<circle cx="372.4" cy="281.1" r="0.75"/>
<circle cx="366.1" cy="261.5" r="0.75"/>
<circle cx="337.4" cy="280.7" r="0.75"/>
<circle cx="341.0" cy="272.1" r="0.75"/>
<circle cx="363.3" cy="279.0" r="0.75"/>
<circle cx="332.0" cy="261.4" r="0.75"/>
<circle cx="324.1" cy="264.8" r="0.75"/>
<circle cx="344.9" cy="271.9" r="0.75"/>
<circle cx="347.3" cy="271.8" r="0.75"/>
<circle cx="371.5" cy="256.1" r="0.75"/>
<circle cx="357.4" cy="262.4" r="0.75"/>
<circle cx="374.6" cy="278.1" r="0.75"/>
<circle cx="351.0" cy="280.4" r="0.75"/>
<circle cx="369.1" cy="256.6" r="0.75"/>
<circle cx="330.1" cy="269.5" r="0.75"/>
<circle cx="360.6" cy="266.5" r="0.75"/>
<circle cx="325.0" cy="269.9" r="0.75"/>
<circle cx="342.9" cy="264.6" r="0.75"/>
<circle cx="377.7" cy="279.0" r="0.75"/>
<circle cx="355.5" cy="268.5" r="0.75"/>
<circle cx="345.9" cy="275.8" r="0.75"/>
<circle cx="349.9" cy="277.9" r="0.75"/>
<circle cx="364.0" cy="273.0" r="0.75"/>
<circle cx="376.4" cy="274.4" r="0.75"/>
<circle cx="334.9" cy="276.0" r="0.75"/>
<circle cx="367.3" cy="258.1" r="0.75"/>
<circle cx="376.1" cy="267.0" r="0.75"/>
<circle cx="361.7" cy="271.4" r="0.75"/>
<circle cx="355.2" cy="278.0" r="0.75"/>
<circle cx="376.4" cy="269.5" r="0.75"/>
<circle cx="351.8" cy="278.3" r="0.75"/>
<circle cx="353.9" cy="275.7" r="0.75"/>
<circle cx="383.4" cy="279.1" r="0.75"/>
<circle cx="343.8" cy="279.0" r="0.75"/>
<circle cx="421.9" cy="277.9" r="0.75"/>
<circle cx="435.3" cy="262.1" r="0.75"/>
<circle cx="439.6" cy="269.5" r="0.75"/>
<circle cx="433.1" cy="262.1" r="0.75"/>
<circle cx="438.3" cy="274.2" r="0.75"/>
<circle cx="428.7" cy="272.1" r="0.75"/>
<circle cx="443.8" cy="278.6" r="0.75"/>
<circle cx="436.4" cy="262.7" r="0.75"/>
<circle cx="417.3" cy="259.1" r="0.75"/>
<circle cx="431.5" cy="260.2" r="0.75"/>
<circle cx="442.9" cy="272.2" r="0.75"/>
<circle cx="418.0" cy="256.9" r="0.75"/>
<circle cx="434.6" cy="256.5" r="0.75"/>
<circle cx="436.6" cy="265.5" r="0.75"/>
<circle cx="420.0" cy="259.4" r="0.75"/>
<circle cx="442.6" cy="265.0" r="0.75"/>
<circle cx="419.6" cy="263.8" r="0.75"/>
<circle cx="420.9" cy="265.1" r="0.75"/>
<circle cx="422.3" cy="254.8" r="0.75"/>
<circle cx="416.5" cy="271.3" r="0.75"/>
<circle cx="439.7" cy="259.0" r="0.75"/>
<circle cx="421.9" cy="275.5" r="0.75"/>
<circle cx="423.1" cy="269.4" r="0.75"/>
<circle cx="444.8" cy="255.0" r="0.75"/>
<circle cx="426.4" cy="264.1" r="0.75"/>
<circle cx="432.0" cy="255.0" r="0.75"/>
<circle cx="426.1" cy="277.5" r="0.75"/>
<circle cx="428.5" cy="261.8" r="0.75"/>
<circle cx="420.7" cy="273.2" r="0.75"/>
<circle cx="426.5" cy="264.8" r="0.75"/>
<circle cx="418.9" cy="267.4" r="0.75"/>
<circle cx="422.4" cy="261.7" r="0.75"/>
<circle cx="425.7" cy="255.4" r="0.75"/>
<circle cx="435.6" cy="273.3" r="0.75"/>
<circle cx="419.0" cy="268.3" r="0.75"/>
<circle cx="417.4" cy="271.9" r="0.75"/>
<circle cx="419.7" cy="262.0" r="0.75"/>
<circle cx="429.7" cy="275.9" r="0.75"/>
<circle cx="423.1" cy="261.4" r="0.75"/>
<circle cx="429.6" cy="257.7" r="0.75"/>
<circle cx="427.8" cy="263.8" r="0.75"/>
<circle cx="421.6" cy="279.1" r="0.75"/>
<circle cx="422.0" cy="266.6" r="0.75"/>
<circle cx="454.8" cy="260.7" r="0.75"/>
<circle cx="428.7" cy="272.6" r="0.75"/>
<circle cx="424.4" cy="266.9" r="0.75"/>
<circle cx="424.1" cy="258.9" r="0.75"/>
<circle cx="436.4" cy="273.1" r="0.75"/>
<circle cx="419.9" cy="262.5" r="0.75"/>
<circle cx="423.0" cy="269.4" r="0.75"/>
<circle cx="444.3" cy="256.0" r="0.75"/>
<circle cx="430.2" cy="275.2" r="0.75"/>
<circle cx="417.1" cy="260.9" r="0.75"/>
<circle cx="439.1" cy="278.3" r="0.75"/>
<circle cx="418.2" cy="276.6" r="0.75"/>
<circle cx="415.9" cy="255.5" r="0.75"/>
<circle cx="440.8" cy="267.1" r="0.75"/>
<circle cx="430.8" cy="256.5" r="0.75"/>
<circle cx="426.3" cy="270.8" r="0.75"/>
<circle cx="446.2" cy="268.7" r="0.75"/>
<circle cx="417.4" cy="267.1" r="0.75"/>
<circle cx="451.6" cy="265.4" r="0.75"/>
<circle cx="441.5" cy="266.1" r="0.75"/>
<circle cx="424.8" cy="269.2" r="0.75"/>
<circle cx="431.1" cy="274.0" r="0.75"/>
<circle cx="426.3" cy="261.9" r="0.75"/>
<circle cx="428.1" cy="277.7" r="0.75"/>
<circle cx="449.0" cy="280.4" r="0.75"/>
<circle cx="417.3" cy="266.6" r="0.75"/>
<circle cx="416.3" cy="256.2" r="0.75"/>
<circle cx="420.8" cy="254.4" r="0.75"/>
<circle cx="429.6" cy="254.4" r="0.75"/>
<circle cx="422.2" cy="271.1" r="0.75"/>
<circle cx="418.3" cy="280.8" r="0.75"/>
<circle cx="446.8" cy="265.9" r="0.75"/>
<circle cx="431.3" cy="277.5" r="0.75"/>
<circle cx="444.0" cy="261.2" r="0.75"/>
<circle cx="439.1" cy="266.0" r="0.75"/>
<circle cx="419.4" cy="255.4" r="0.75"/>
<circle cx="447.8" cy="260.6" r="0.75"/>
<circle cx="418.5" cy="268.6" r="0.75"/>
<circle cx="431.0" cy="259.6" r="0.75"/>
<circle cx="425.7" cy="254.3" r="0.75"/>
<circle cx="421.1" cy="264.1" r="0.75"/>
<circle cx="424.0" cy="264.6" r="0.75"/>
<circle cx="427.9" cy="268.0" r="0.75"/>
<circle cx="425.0" cy="260.7" r="0.75"/>
<circle cx="431.8" cy="262.9" r="0.75"/>
<circle cx="428.1" cy="272.7" r="0.75"/>
<circle cx="431.4" cy="264.6" r="0.75"/>
<circle cx="425.7" cy="259.9" r="0.75"/>
<circle cx="428.3" cy="254.7" r="0.75"/>
<circle cx="425.2" cy="255.8" r="0.75"/>
<circle cx="424.4" cy="269.5" r="0.75"/>
<circle cx="448.6" cy="278.5" r="0.75"/>
<circle cx="421.9" cy="255.3" r="0.75"/>
<circle cx="436.0" cy="267.1" r="0.75"/>
<circle cx="432.5" cy="260.6" r="0.75"/>
<circle cx="420.2" cy="272.6" r="0.75"/>
<circle cx="422.6" cy="261.3" r="0.75"/>
<circle cx="426.2" cy="280.3" r="0.75"/>
<circle cx="418.9" cy="268.3" r="0.75"/>
<circle cx="427.1" cy="254.4" r="0.75"/>
<circle cx="421.2" cy="254.4" r="0.75"/>
<circle cx="420.0" cy="257.9" r="0.75"/>
<circle cx="435.0" cy="266.4" r="0.75"/>
<circle cx="424.5" cy="261.9" r="0.75"/>
<circle cx="395.6" cy="242.5" r="0.75"/>
<circle cx="387.8" cy="253.5" r="0.75"/>
<circle cx="404.6" cy="247.2" r="0.75"/>
<circle cx="395.0" cy="238.4" r="0.75"/>
<circle cx="415.4" cy="247.3" r="0.75"/>
<circle cx="388.5" cy="249.3" r="0.75"/>
<circle cx="405.9" cy="246.0" r="0.75"/>
<circle cx="392.2" cy="247.3" r="0.75"/>
<circle cx="396.8" cy="208.9" r="0.75"/>
<circle cx="390.3" cy="242.3" r="0.75"/>
<circle cx="390.5" cy="240.4" r="0.75"/>
<circle cx="384.6" cy="251.1" r="0.75"/>
<circle cx="400.3" cy="230.1" r="0.75"/>
<circle cx="400.4" cy="239.2" r="0.75"/>
<circle cx="386.7" cy="245.9" r="0.75"/>
<circle cx="386.8" cy="250.7" r="0.75"/>
<circle cx="411.4" cy="223.8" r="0.75"/>
<circle cx="403.7" cy="245.4" r="0.75"/>
<circle cx="400.8" cy="237.6" r="0.75"/>
<circle cx="399.0" cy="218.4" r="0.75"/>
<circle cx="392.2" cy="234.5" r="0.75"/>
<circle cx="399.7" cy="230.9" r="0.75"/>
<circle cx="391.3" cy="230.4" r="0.75"/>
<circle cx="388.6" cy="240.1" r="0.75"/>
<circle cx="413.9" cy="251.3" r="0.75"/>
<circle cx="396.3" cy="229.8" r="0.75"/>
<circle cx="393.4" cy="249.9" r="0.75"/>
<circle cx="392.4" cy="242.5" r="0.75"/>
<circle cx="385.2" cy="235.0" r="0.75"/>
<circle cx="407.6" cy="246.8" r="0.75"/>
<circle cx="403.2" cy="231.5" r="0.75"/>
<circle cx="398.9" cy="219.7" r="0.75"/>
<circle cx="392.4" cy="253.2" r="0.75"/>
<circle cx="394.3" cy="239.2" r="0.75"/>
<circle cx="398.4" cy="218.5" r="0.75"/>
<circle cx="384.4" cy="250.1" r="0.75"/>
<circle cx="388.6" cy="227.4" r="0.75"/>
<circle cx="385.1" cy="233.9" r="0.75"/>
<circle cx="391.3" cy="250.6" r="0.75"/>
<circle cx="391.8" cy="251.8" r="0.75"/>
<circle cx="395.2" cy="247.5" r="0.75"/>
<circle cx="408.1" cy="253.0" r="0.75"/>
<circle cx="394.1" cy="247.3" r="0.75"/>
<circle cx="399.6" cy="241.6" r="0.75"/>
<circle cx="386.2" cy="253.4" r="0.75"/>
<circle cx="395.2" cy="253.7" r="0.75"/>
<circle cx="386.4" cy="246.5" r="0.75"/>
<circle cx="390.2" cy="244.1" r="0.75"/>
<circle cx="387.1" cy="250.1" r="0.75"/>
<circle cx="391.4" cy="218.6" r="0.75"/>
<circle cx="398.5" cy="243.9" r="0.75"/>
<circle cx="402.6" cy="216.4" r="0.75"/>
<circle cx="412.7" cy="251.0" r="0.75"/>
<circle cx="401.1" cy="249.4" r="0.75"/>
<circle cx="411.5" cy="241.1" r="0.75"/>
<circle cx="385.2" cy="231.3" r="0.75"/>
<circle cx="393.6" cy="213.1" r="0.75"/>
<circle cx="388.2" cy="233.6" r="0.75"/>
<circle cx="402.4" cy="251.9" r="0.75"/>
<circle cx="395.8" cy="252.7" r="0.75"/>
<circle cx="406.8" cy="236.9" r="0.75"/>
<circle cx="392.1" cy="218.2" r="0.75"/>
<circle cx="388.8" cy="230.0" r="0.75"/>
<circle cx="385.9" cy="252.1" r="0.75"/>
<circle cx="400.6" cy="242.9" r="0.75"/>
<circle cx="393.0" cy="238.2" r="0.75"/>
<circle cx="384.9" cy="248.1" r="0.75"/>
<circle cx="401.2" cy="234.0" r="0.75"/>
<circle cx="399.0" cy="233.4" r="0.75"/>
<circle cx="391.1" cy="251.0" r="0.75"/>
<circle cx="387.2" cy="250.7" r="0.75"/>
<circle cx="413.0" cy="247.0" r="0.75"/>
<circle cx="395.2" cy="242.9" r="0.75"/>
<circle cx="393.3" cy="232.2" r="0.75"/>
<circle cx="408.5" cy="234.3" r="0.75"/>
<circle cx="403.7" cy="249.1" r="0.75"/>
<circle cx="389.8" cy="247.5" r="0.75"/>
<circle cx="391.8" cy="242.2" r="0.75"/>
<circle cx="405.4" cy="244.5" r="0.75"/>
<circle cx="398.5" cy="227.5" r="0.75"/>
<circle cx="395.8" cy="246.0" r="0.75"/>
<circle cx="400.8" cy="244.7" r="0.75"/>
<circle cx="398.8" cy="248.7" r="0.75"/>
<circle cx="400.1" cy="252.7" r="0.75"/>
<circle cx="414.5" cy="238.1" r="0.75"/>
<circle cx="403.9" cy="245.4" r="0.75"/>
<circle cx="394.1" cy="238.4" r="0.75"/>
<circle cx="399.4" cy="250.2" r="0.75"/>
<circle cx="393.8" cy="252.0" r="0.75"/>
<circle cx="397.1" cy="236.3" r="0.75"/>
<circle cx="393.5" cy="252.4" r="0.75"/>
<circle cx="399.6" cy="226.6" r="0.75"/>
<circle cx="412.7" cy="225.6" r="0.75"/>
<circle cx="387.7" cy="235.7" r="0.75"/>
<circle cx="410.8" cy="215.4" r="0.75"/>
<circle cx="394.0" cy="232.0" r="0.75"/>
<circle cx="410.5" cy="228.6" r="0.75"/>
<circle cx="412.2" cy="219.5" r="0.75"/>
<circle cx="397.3" cy="222.7" r="0.75"/>
<circle cx="387.7" cy="238.0" r="0.75"/>
<circle cx="409.3" cy="244.2" r="0.75"/>
<circle cx="408.9" cy="243.4" r="0.75"/>
<circle cx="396.8" cy="233.4" r="0.75"/>
<circle cx="398.2" cy="252.3" r="0.75"/>
<circle cx="409.1" cy="244.5" r="0.75"/>
<circle cx="405.7" cy="252.1" r="0.75"/>
<circle cx="390.9" cy="238.3" r="0.75"/>
<circle cx="388.7" cy="250.3" r="0.75"/>
<circle cx="385.3" cy="245.3" r="0.75"/>
<circle cx="391.2" cy="250.9" r="0.75"/>
<circle cx="387.4" cy="250.5" r="0.75"/>
<circle cx="389.4" cy="245.3" r="0.75"/>
<circle cx="402.6" cy="233.1" r="0.75"/>
<circle cx="391.7" cy="233.3" r="0.75"/>
<circle cx="397.9" cy="253.6" r="0.75"/>
<circle cx="384.5" cy="245.4" r="0.75"/>
<circle cx="387.6" cy="251.9" r="0.75"/>
<circle cx="396.1" cy="241.0" r="0.75"/>
<circle cx="394.9" cy="241.8" r="0.75"/>
<circle cx="396.4" cy="222.8" r="0.75"/>
<circle cx="412.7" cy="238.5" r="0.75"/>
<circle cx="395.0" cy="240.2" r="0.75"/>
<circle cx="402.6" cy="246.0" r="0.75"/>
<circle cx="405.8" cy="253.7" r="0.75"/>
<circle cx="401.7" cy="205.5" r="0.75"/>
<circle cx="394.7" cy="206.1" r="0.75"/>
<circle cx="388.1" cy="238.1" r="0.75"/>
<circle cx="430.4" cy="224.5" r="0.75"/>
<circle cx="458.2" cy="234.9" r="0.75"/>
<circle cx="446.7" cy="231.9" r="0.75"/>
<circle cx="437.0" cy="228.6" r="0.75"/>
<circle cx="444.4" cy="221.2" r="0.75"/>
<circle cx="453.6" cy="224.6" r="0.75"/>
<circle cx="417.5" cy="238.4" r="0.75"/>
<circle cx="422.9" cy="243.7" r="0.75"/>
<circle cx="419.2" cy="225.2" r="0.75"/>
<circle cx="437.3" cy="235.5" r="0.75"/>
<circle cx="454.7" cy="228.5" r="0.75"/>
<circle cx="456.7" cy="252.6" r="0.75"/>
<circle cx="420.6" cy="238.2" r="0.75"/>
<circle cx="443.4" cy="221.4" r="0.75"/>
<circle cx="432.3" cy="249.2" r="0.75"/>
<circle cx="427.3" cy="249.6" r="0.75"/>
<circle cx="451.0" cy="235.9" r="0.75"/>
<circle cx="427.6" cy="228.9" r="0.75"/>
<circle cx="433.8" cy="247.3" r="0.75"/>
<circle cx="419.2" cy="228.2" r="0.75"/>
<circle cx="454.9" cy="230.4" r="0.75"/>
<circle cx="461.0" cy="222.1" r="0.75"/>
<circle cx="416.1" cy="249.4" r="0.75"/>
<circle cx="439.5" cy="236.8" r="0.75"/>
<circle cx="432.4" cy="246.6" r="0.75"/>
<circle cx="385.2" cy="247.4" r="0.75"/>
<circle cx="392.2" cy="235.5" r="0.75"/>
<circle cx="386.0" cy="242.4" r="0.75"/>
<circle cx="388.6" cy="187.1" r="0.75"/>
<circle cx="388.1" cy="228.5" r="0.75"/>
<circle cx="389.7" cy="228.6" r="0.75"/>
<circle cx="385.0" cy="227.7" r="0.75"/>
<circle cx="384.9" cy="235.5" r="0.75"/>
<circle cx="389.5" cy="224.3" r="0.75"/>
<circle cx="387.0" cy="231.0" r="0.75"/>
<circle cx="384.6" cy="233.4" r="0.75"/>
<circle cx="392.5" cy="250.6" r="0.75"/>
<circle cx="386.8" cy="243.3" r="0.75"/>
<circle cx="384.6" cy="250.6" r="0.75"/>
<circle cx="389.8" cy="207.0" r="0.75"/>
<circle cx="386.0" cy="225.2" r="0.75"/>
<circle cx="387.2" cy="235.9" r="0.75"/>
<circle cx="385.3" cy="204.8" r="0.75"/>
<circle cx="390.2" cy="221.5" r="0.75"/>
<circle cx="389.0" cy="244.3" r="0.75"/>
<circle cx="394.3" cy="243.0" r="0.75"/>
<circle cx="384.7" cy="247.5" r="0.75"/>
<circle cx="384.8" cy="209.1" r="0.75"/>
<circle cx="393.0" cy="246.9" r="0.75"/>
<circle cx="386.5" cy="244.8" r="0.75"/>
<circle cx="386.6" cy="241.7" r="0.75"/>
<circle cx="388.2" cy="250.3" r="0.75"/>
<circle cx="393.1" cy="247.5" r="0.75"/>
<circle cx="396.4" cy="246.9" r="0.75"/>
<circle cx="385.1" cy="220.6" r="0.75"/>
<circle cx="393.4" cy="252.0" r="0.75"/>
<circle cx="387.9" cy="250.4" r="0.75"/>
<circle cx="385.2" cy="235.2" r="0.75"/>
<circle cx="387.2" cy="230.4" r="0.75"/>
<circle cx="392.0" cy="224.0" r="0.75"/>
<circle cx="384.9" cy="234.2" r="0.75"/>
<circle cx="385.9" cy="228.6" r="0.75"/>
<circle cx="386.6" cy="241.7" r="0.75"/>
<circle cx="385.7" cy="248.4" r="0.75"/>
<circle cx="399.1" cy="241.7" r="0.75"/>
<circle cx="384.7" cy="246.9" r="0.75"/>
<circle cx="393.3" cy="241.1" r="0.75"/>
<circle cx="388.1" cy="230.0" r="0.75"/>
<circle cx="387.9" cy="229.6" r="0.75"/>
<circle cx="387.8" cy="210.5" r="0.75"/>
<circle cx="388.1" cy="237.9" r="0.75"/>
<circle cx="397.3" cy="249.6" r="0.75"/>
<circle cx="388.5" cy="214.6" r="0.75"/>
<circle cx="387.8" cy="207.3" r="0.75"/>
<circle cx="387.6" cy="246.4" r="0.75"/>
<circle cx="389.6" cy="220.0" r="0.75"/>
<circle cx="387.4" cy="245.3" r="0.75"/>
<circle cx="390.5" cy="230.8" r="0.75"/>
<circle cx="385.9" cy="244.9" r="0.75"/>
<circle cx="389.3" cy="242.9" r="0.75"/>
<circle cx="386.2" cy="232.7" r="0.75"/>
<circle cx="385.7" cy="247.1" r="0.75"/>
<circle cx="391.3" cy="249.3" r="0.75"/>
<circle cx="392.2" cy="252.2" r="0.75"/>
<circle cx="391.2" cy="216.8" r="0.75"/>
<circle cx="393.5" cy="247.1" r="0.75"/>
<circle cx="385.8" cy="249.9" r="0.75"/>
<circle cx="385.3" cy="236.2" r="0.75"/>
<circle cx="387.4" cy="234.4" r="0.75"/>
<circle cx="387.4" cy="243.2" r="0.75"/>
<circle cx="385.3" cy="224.2" r="0.75"/>
<circle cx="385.6" cy="247.7" r="0.75"/>
<circle cx="390.2" cy="230.2" r="0.75"/>
<circle cx="392.4" cy="238.6" r="0.75"/>
<circle cx="385.1" cy="247.0" r="0.75"/>
<circle cx="389.6" cy="216.0" r="0.75"/>
<circle cx="391.3" cy="235.8" r="0.75"/>
<circle cx="386.3" cy="243.2" r="0.75"/>
<circle cx="387.6" cy="233.7" r="0.75"/>
<circle cx="385.5" cy="251.6" r="0.75"/>
<circle cx="397.7" cy="226.2" r="0.75"/>
<circle cx="391.8" cy="251.2" r="0.75"/>
<circle cx="385.9" cy="204.3" r="0.75"/>
<circle cx="391.2" cy="230.3" r="0.75"/>
<circle cx="385.5" cy="227.8" r="0.75"/>
<circle cx="390.5" cy="243.0" r="0.75"/>
<circle cx="392.1" cy="252.7" r="0.75"/>
<circle cx="385.3" cy="242.4" r="0.75"/>
<circle cx="393.3" cy="251.3" r="0.75"/>
<circle cx="385.6" cy="230.8" r="0.75"/>
<circle cx="393.1" cy="225.9" r="0.75"/>
<circle cx="385.1" cy="243.0" r="0.75"/>
<circle cx="391.5" cy="211.0" r="0.75"/>
<circle cx="385.0" cy="247.2" r="0.75"/>
<circle cx="387.2" cy="243.8" r="0.75"/>
<circle cx="386.0" cy="228.3" r="0.75"/>
<circle cx="389.1" cy="213.8" r="0.75"/>
<circle cx="389.5" cy="218.5" r="0.75"/>
<circle cx="388.6" cy="242.0" r="0.75"/>
<circle cx="384.8" cy="252.3" r="0.75"/>
<circle cx="385.0" cy="214.8" r="0.75"/>
<circle cx="387.0" cy="194.6" r="0.75"/>
<circle cx="384.6" cy="247.4" r="0.75"/>
<circle cx="387.8" cy="231.4" r="0.75"/>
<circle cx="386.8" cy="204.6" r="0.75"/>
<circle cx="386.4" cy="248.6" r="0.75"/>
<circle cx="384.5" cy="248.7" r="0.75"/>
<circle cx="386.2" cy="233.6" r="0.75"/>
<circle cx="386.4" cy="250.7" r="0.75"/>
<circle cx="391.9" cy="229.7" r="0.75"/>
<circle cx="391.6" cy="235.9" r="0.75"/>
<circle cx="385.7" cy="233.0" r="0.75"/>
<circle cx="386.4" cy="253.4" r="0.75"/>
<circle cx="385.6" cy="240.1" r="0.75"/>
<circle cx="399.0" cy="218.1" r="0.75"/>
<circle cx="393.7" cy="250.4" r="0.75"/>
<circle cx="387.4" cy="251.9" r="0.75"/>
<circle cx="392.9" cy="248.2" r="0.75"/>
<circle cx="388.1" cy="219.9" r="0.75"/>
<circle cx="385.0" cy="233.3" r="0.75"/>
<circle cx="392.0" cy="211.1" r="0.75"/>
<circle cx="390.3" cy="234.5" r="0.75"/>
<circle cx="388.9" cy="225.2" r="0.75"/>
<circle cx="385.7" cy="246.8" r="0.75"/>
<circle cx="384.6" cy="210.7" r="0.75"/>
<circle cx="387.9" cy="232.3" r="0.75"/>
<circle cx="384.9" cy="247.0" r="0.75"/>
<circle cx="386.8" cy="234.6" r="0.75"/>
<circle cx="387.8" cy="246.9" r="0.75"/>
<circle cx="386.5" cy="249.5" r="0.75"/>
<circle cx="388.9" cy="227.5" r="0.75"/>
<circle cx="387.1" cy="228.3" r="0.75"/>
<circle cx="392.9" cy="243.0" r="0.75"/>
<circle cx="386.8" cy="229.0" r="0.75"/>
<circle cx="387.7" cy="248.2" r="0.75"/>
<circle cx="387.1" cy="243.0" r="0.75"/>
<circle cx="385.3" cy="227.0" r="0.75"/>
<circle cx="385.5" cy="209.6" r="0.75"/>
<circle cx="385.2" cy="237.2" r="0.75"/>
<circle cx="388.7" cy="206.7" r="0.75"/>
<circle cx="385.4" cy="248.0" r="0.75"/>
<circle cx="390.6" cy="223.3" r="0.75"/>
<circle cx="387.0" cy="253.7" r="0.75"/>
<circle cx="384.4" cy="253.4" r="0.75"/>
<circle cx="386.8" cy="229.4" r="0.75"/>
<circle cx="385.4" cy="242.7" r="0.75"/>
<circle cx="391.3" cy="251.5" r="0.75"/>
<circle cx="385.2" cy="241.6" r="0.75"/>
<circle cx="386.6" cy="232.9" r="0.75"/>
<circle cx="385.1" cy="249.2" r="0.75"/>
<circle cx="389.0" cy="233.7" r="0.75"/>
<circle cx="391.2" cy="250.2" r="0.75"/>
<circle cx="389.1" cy="249.7" r="0.75"/>
<circle cx="388.9" cy="239.7" r="0.75"/>
<circle cx="388.3" cy="233.3" r="0.75"/>
<circle cx="388.4" cy="240.2" r="0.75"/>
<circle cx="384.7" cy="242.1" r="0.75"/>
<circle cx="390.1" cy="209.8" r="0.75"/>
<circle cx="387.5" cy="241.3" r="0.75"/>
<circle cx="386.9" cy="250.2" r="0.75"/>
<circle cx="392.2" cy="249.4" r="0.75"/>
<circle cx="385.2" cy="250.2" r="0.75"/>
<circle cx="385.8" cy="237.3" r="0.75"/>
<circle cx="387.6" cy="237.3" r="0.75"/>
<circle cx="386.8" cy="233.0" r="0.75"/>
<circle cx="387.5" cy="212.6" r="0.75"/>
<circle cx="384.5" cy="248.8" r="0.75"/>
<circle cx="386.7" cy="250.6" r="0.75"/>
<circle cx="388.8" cy="250.2" r="0.75"/>
<circle cx="387.7" cy="244.3" r="0.75"/>
<circle cx="390.5" cy="234.0" r="0.75"/>
<circle cx="389.5" cy="245.2" r="0.75"/>
<circle cx="388.3" cy="240.1" r="0.75"/>
<circle cx="392.7" cy="251.2" r="0.75"/>
<circle cx="388.4" cy="233.9" r="0.75"/>
<circle cx="388.7" cy="248.9" r="0.75"/>
<circle cx="391.4" cy="230.6" r="0.75"/>
<circle cx="388.4" cy="204.6" r="0.75"/>
<circle cx="386.1" cy="253.2" r="0.75"/>
<circle cx="393.6" cy="243.2" r="0.75"/>
<circle cx="389.9" cy="251.9" r="0.75"/>
<circle cx="385.3" cy="245.8" r="0.75"/>
<circle cx="388.9" cy="233.3" r="0.75"/>
<circle cx="390.9" cy="236.3" r="0.75"/>
<circle cx="387.6" cy="241.3" r="0.75"/>
<circle cx="391.3" cy="240.6" r="0.75"/>
<circle cx="392.2" cy="224.3" r="0.75"/>
<circle cx="385.5" cy="235.0" r="0.75"/>
<circle cx="387.1" cy="236.6" r="0.75"/>
<circle cx="389.4" cy="233.8" r="0.75"/>
<circle cx="387.2" cy="248.4" r="0.75"/>
<circle cx="390.6" cy="232.8" r="0.75"/>
<circle cx="385.1" cy="242.9" r="0.75"/>
<circle cx="388.9" cy="246.0" r="0.75"/>
<circle cx="387.6" cy="253.7" r="0.75"/>
<circle cx="385.8" cy="252.7" r="0.75"/>
<circle cx="388.2" cy="212.7" r="0.75"/>
<circle cx="385.4" cy="241.9" r="0.75"/>
<circle cx="392.0" cy="248.2" r="0.75"/>
<circle cx="386.7" cy="234.2" r="0.75"/>
<circle cx="388.8" cy="248.8" r="0.75"/>
</g>
<g fill="#2f4299">
<circle cx="382.7" cy="211.8" r="0.75"/>
<circle cx="378.4" cy="243.7" r="0.75"/>
<circle cx="370.2" cy="228.0" r="0.75"/>
<circle cx="367.7" cy="224.8" r="0.75"/>
<circle cx="382.1" cy="249.7" r="0.75"/>
<circle cx="378.1" cy="227.6" r="0.75"/>
<circle cx="384.1" cy="250.1" r="0.75"/>
<circle cx="380.8" cy="251.4" r="0.75"/>
<circle cx="384.0" cy="247.7" r="0.75"/>
<circle cx="384.4" cy="235.3" r="0.75"/>
<circle cx="376.8" cy="252.1" r="0.75"/>
<circle cx="370.2" cy="244.1" r="0.75"/>
<circle cx="378.2" cy="252.7" r="0.75"/>
<circle cx="381.7" cy="251.9" r="0.75"/>
<circle cx="384.3" cy="242.4" r="0.75"/>
<circle cx="381.7" cy="224.9" r="0.75"/>
<circle cx="384.4" cy="250.3" r="0.75"/>
<circle cx="382.0" cy="252.8" r="0.75"/>
<circle cx="361.9" cy="236.1" r="0.75"/>
<circle cx="384.4" cy="233.4" r="0.75"/>
<circle cx="383.9" cy="238.6" r="0.75"/>
<circle cx="384.2" cy="226.8" r="0.75"/>
<circle cx="381.4" cy="247.7" r="0.75"/>
<circle cx="377.0" cy="231.5" r="0.75"/>
<circle cx="375.1" cy="253.7" r="0.75"/>
<circle cx="382.8" cy="242.2" r="0.75"/>
<circle cx="377.6" cy="253.7" r="0.75"/>
<circle cx="380.6" cy="252.4" r="0.75"/>
<circle cx="376.3" cy="211.6" r="0.75"/>
<circle cx="361.8" cy="251.5" r="0.75"/>
<circle cx="363.7" cy="229.2" r="0.75"/>
<circle cx="383.8" cy="252.1" r="0.75"/>
<circle cx="382.2" cy="225.7" r="0.75"/>
<circle cx="373.9" cy="252.4" r="0.75"/>
<circle cx="383.8" cy="242.1" r="0.75"/>
<circle cx="384.4" cy="218.9" r="0.75"/>
<circle cx="384.4" cy="211.1" r="0.75"/>
<circle cx="375.4" cy="210.9" r="0.75"/>
<circle cx="384.4" cy="245.6" r="0.75"/>
<circle cx="378.8" cy="251.8" r="0.75"/>
<circle cx="372.3" cy="222.6" r="0.75"/>
<circle cx="379.5" cy="253.4" r="0.75"/>
<circle cx="381.8" cy="220.0" r="0.75"/>
<circle cx="358.4" cy="245.1" r="0.75"/>
<circle cx="371.6" cy="253.6" r="0.75"/>
<circle cx="378.2" cy="245.9" r="0.75"/>
<circle cx="358.2" cy="236.9" r="0.75"/>
<circle cx="381.5" cy="238.9" r="0.75"/>
<circle cx="384.2" cy="244.3" r="0.75"/>
<circle cx="382.0" cy="251.4" r="0.75"/>
<circle cx="366.0" cy="236.7" r="0.75"/>
<circle cx="371.0" cy="235.1" r="0.75"/>
<circle cx="383.2" cy="248.8" r="0.75"/>
<circle cx="383.6" cy="233.9" r="0.75"/>
<circle cx="382.2" cy="252.4" r="0.75"/>
<circle cx="366.8" cy="252.4" r="0.75"/>
<circle cx="372.8" cy="211.1" r="0.75"/>
<circle cx="381.8" cy="238.6" r="0.75"/>
<circle cx="379.3" cy="238.4" r="0.75"/>
<circle cx="372.4" cy="225.9" r="0.75"/>
<circle cx="380.9" cy="230.2" r="0.75"/>
<circle cx="378.9" cy="241.9" r="0.75"/>
<circle cx="383.6" cy="235.0" r="0.75"/>
<circle cx="382.8" cy="245.6" r="0.75"/>
<circle cx="361.5" cy="248.5" r="0.75"/>
<circle cx="381.7" cy="232.3" r="0.75"/>
<circle cx="375.2" cy="220.6" r="0.75"/>
<circle cx="384.1" cy="249.3" r="0.75"/>
<circle cx="383.7" cy="252.2" r="0.75"/>
<circle cx="380.6" cy="225.8" r="0.75"/>
<circle cx="371.4" cy="251.2" r="0.75"/>
<circle cx="379.3" cy="252.4" r="0.75"/>
<circle cx="383.1" cy="222.9" r="0.75"/>
<circle cx="371.1" cy="240.5" r="0.75"/>
<circle cx="363.7" cy="252.7" r="0.75"/>
<circle cx="382.3" cy="231.3" r="0.75"/>
<circle cx="384.0" cy="242.6" r="0.75"/>
<circle cx="379.9" cy="251.5" r="0.75"/>
<circle cx="382.6" cy="249.3" r="0.75"/>
<circle cx="376.2" cy="247.1" r="0.75"/>
<circle cx="374.8" cy="221.6" r="0.75"/>
<circle cx="379.1" cy="253.1" r="0.75"/>
<circle cx="384.3" cy="227.1" r="0.75"/>
<circle cx="384.2" cy="239.8" r="0.75"/>
<circle cx="379.9" cy="253.5" r="0.75"/>
<circle cx="379.3" cy="252.7" r="0.75"/>
<circle cx="371.8" cy="221.1" r="0.75"/>
<circle cx="380.1" cy="237.5" r="0.75"/>
<circle cx="380.6" cy="235.5" r="0.75"/>
<circle cx="375.4" cy="253.7" r="0.75"/>
<circle cx="362.2" cy="253.4" r="0.75"/>
<circle cx="379.9" cy="245.8" r="0.75"/>
<circle cx="376.9" cy="249.6" r="0.75"/>
<circle cx="383.7" cy="239.0" r="0.75"/>
<circle cx="367.0" cy="212.3" r="0.75"/>
<circle cx="380.2" cy="249.8" r="0.75"/>
<circle cx="381.9" cy="252.6" r="0.75"/>
<circle cx="384.0" cy="216.4" r="0.75"/>
<circle cx="378.3" cy="235.7" r="0.75"/>
<circle cx="374.2" cy="227.0" r="0.75"/>
<circle cx="383.4" cy="246.2" r="0.75"/>
<circle cx="376.8" cy="233.8" r="0.75"/>
<circle cx="383.5" cy="231.3" r="0.75"/>
<circle cx="380.0" cy="211.8" r="0.75"/>
<circle cx="360.1" cy="212.9" r="0.75"/>
<circle cx="367.9" cy="253.5" r="0.75"/>
<circle cx="383.7" cy="252.7" r="0.75"/>
<circle cx="362.9" cy="251.5" r="0.75"/>
<circle cx="384.4" cy="246.2" r="0.75"/>
<circle cx="381.5" cy="248.0" r="0.75"/>
<circle cx="383.6" cy="242.2" r="0.75"/>
<circle cx="365.7" cy="253.6" r="0.75"/>
<circle cx="367.3" cy="253.7" r="0.75"/>
<circle cx="376.2" cy="251.1" r="0.75"/>
<circle cx="362.3" cy="210.3" r="0.75"/>
<circle cx="384.4" cy="253.7" r="0.75"/>
<circle cx="381.7" cy="245.5" r="0.75"/>
<circle cx="384.2" cy="216.2" r="0.75"/>
<circle cx="355.0" cy="202.5" r="0.75"/>
<circle cx="331.9" cy="229.4" r="0.75"/>
<circle cx="335.2" cy="203.2" r="0.75"/>
<circle cx="378.7" cy="247.7" r="0.75"/>
<circle cx="348.9" cy="203.2" r="0.75"/>
<circle cx="361.0" cy="206.4" r="0.75"/>
<circle cx="331.1" cy="237.6" r="0.75"/>
<circle cx="375.2" cy="225.6" r="0.75"/>
<circle cx="334.1" cy="204.2" r="0.75"/>
<circle cx="339.6" cy="211.8" r="0.75"/>
<circle cx="335.6" cy="248.3" r="0.75"/>
<circle cx="335.3" cy="249.5" r="0.75"/>
<circle cx="354.1" cy="245.0" r="0.75"/>
<circle cx="372.2" cy="212.7" r="0.75"/>
<circle cx="351.4" cy="235.7" r="0.75"/>
<circle cx="343.7" cy="217.8" r="0.75"/>
<circle cx="349.9" cy="217.1" r="0.75"/>
<circle cx="335.8" cy="242.2" r="0.75"/>
<circle cx="359.5" cy="253.5" r="0.75"/>
<circle cx="378.7" cy="210.1" r="0.75"/>
<circle cx="353.4" cy="248.6" r="0.75"/>
<circle cx="350.2" cy="235.8" r="0.75"/>
<circle cx="348.9" cy="231.1" r="0.75"/>
<circle cx="337.3" cy="250.6" r="0.75"/>
<circle cx="333.7" cy="246.4" r="0.75"/>
<circle cx="383.0" cy="244.2" r="0.75"/>
<circle cx="383.4" cy="251.0" r="0.75"/>
<circle cx="378.6" cy="239.9" r="0.75"/>
<circle cx="382.2" cy="235.8" r="0.75"/>
<circle cx="379.2" cy="249.6" r="0.75"/>
<circle cx="374.7" cy="239.8" r="0.75"/>
<circle cx="383.5" cy="241.9" r="0.75"/>
<circle cx="384.2" cy="247.1" r="0.75"/>
<circle cx="379.6" cy="253.3" r="0.75"/>
<circle cx="380.3" cy="230.5" r="0.75"/>
<circle cx="374.0" cy="243.0" r="0.75"/>
<circle cx="372.9" cy="227.1" r="0.75"/>
<circle cx="383.7" cy="232.2" r="0.75"/>
<circle cx="382.5" cy="238.8" r="0.75"/>
<circle cx="379.9" cy="249.3" r="0.75"/>
<circle cx="383.0" cy="226.9" r="0.75"/>
<circle cx="374.6" cy="244.3" r="0.75"/>
<circle cx="375.3" cy="236.0" r="0.75"/>
<circle cx="381.1" cy="232.3" r="0.75"/>
<circle cx="375.0" cy="246.3" r="0.75"/>
<circle cx="382.8" cy="230.0" r="0.75"/>
<circle cx="379.3" cy="250.8" r="0.75"/>
<circle cx="376.0" cy="251.9" r="0.75"/>
<circle cx="381.2" cy="229.3" r="0.75"/>
<circle cx="380.2" cy="238.7" r="0.75"/>
<circle cx="374.0" cy="253.5" r="0.75"/>
<circle cx="384.4" cy="247.0" r="0.75"/>
<circle cx="379.1" cy="234.8" r="0.75"/>
<circle cx="382.9" cy="252.6" r="0.75"/>
<circle cx="384.4" cy="253.7" r="0.75"/>
<circle cx="382.9" cy="228.2" r="0.75"/>
<circle cx="380.6" cy="248.2" r="0.75"/>
<circle cx="383.1" cy="243.5" r="0.75"/>
<circle cx="382.5" cy="249.5" r="0.75"/>
<circle cx="380.2" cy="244.1" r="0.75"/>
<circle cx="373.0" cy="244.0" r="0.75"/>
<circle cx="384.2" cy="252.8" r="0.75"/>
<circle cx="376.8" cy="241.1" r="0.75"/>
<circle cx="378.4" cy="227.8" r="0.75"/>
<circle cx="382.0" cy="250.3" r="0.75"/>
<circle cx="380.7" cy="227.9" r="0.75"/>
<circle cx="374.2" cy="239.9" r="0.75"/>
<circle cx="376.4" cy="247.1" r="0.75"/>
<circle cx="380.1" cy="249.5" r="0.75"/>
<circle cx="378.3" cy="233.3" r="0.75"/>
<circle cx="378.9" cy="231.0" r="0.75"/>
<circle cx="382.6" cy="233.2" r="0.75"/>
<circle cx="376.9" cy="230.8" r="0.75"/>
<circle cx="379.0" cy="247.2" r="0.75"/>
<circle cx="381.0" cy="235.3" r="0.75"/>
<circle cx="382.0" cy="227.3" r="0.75"/>
<circle cx="377.0" cy="226.5" r="0.75"/>
<circle cx="380.6" cy="241.5" r="0.75"/>
<circle cx="376.0" cy="227.4" r="0.75"/>
<circle cx="383.8" cy="230.2" r="0.75"/>
<circle cx="381.3" cy="252.0" r="0.75"/>
<circle cx="377.3" cy="243.8" r="0.75"/>
<circle cx="381.1" cy="249.7" r="0.75"/>
<circle cx="375.0" cy="253.2" r="0.75"/>
<circle cx="373.7" cy="251.3" r="0.75"/>
<circle cx="380.4" cy="248.2" r="0.75"/>
<circle cx="384.1" cy="252.6" r="0.75"/>
<circle cx="383.7" cy="253.5" r="0.75"/>
<circle cx="382.5" cy="247.0" r="0.75"/>
<circle cx="378.9" cy="229.4" r="0.75"/>
<circle cx="379.5" cy="230.8" r="0.75"/>
<circle cx="380.7" cy="231.6" r="0.75"/>
<circle cx="382.6" cy="245.1" r="0.75"/>
<circle cx="382.7" cy="245.3" r="0.75"/>
<circle cx="379.7" cy="226.9" r="0.75"/>
<circle cx="376.2" cy="244.5" r="0.75"/>
<circle cx="382.1" cy="234.9" r="0.75"/>
<circle cx="377.9" cy="227.3" r="0.75"/>
<circle cx="373.8" cy="252.6" r="0.75"/>
<circle cx="374.2" cy="252.2" r="0.75"/>
<circle cx="381.8" cy="247.2" r="0.75"/>
<circle cx="382.6" cy="245.1" r="0.75"/>
<circle cx="382.8" cy="242.5" r="0.75"/>
<circle cx="382.2" cy="241.1" r="0.75"/>
<circle cx="372.9" cy="252.9" r="0.75"/>
<circle cx="326.4" cy="243.3" r="0.75"/>
<circle cx="331.6" cy="190.6" r="0.75"/>
<circle cx="323.5" cy="242.0" r="0.75"/>
<circle cx="359.4" cy="200.2" r="0.75"/>
<circle cx="337.6" cy="194.9" r="0.75"/>
<circle cx="340.4" cy="214.7" r="0.75"/>
</g>
<circle cx="450.00" cy="204.40" r="0.85" fill="#dd5a70"/>
<circle cx="442.60" cy="222.40" r="0.85" fill="#dd5a70"/>
<circle cx="440.30" cy="225.30" r="0.85" fill="#dd5a70"/>
<circle cx="426.10" cy="231.90" r="0.85" fill="#dd5a70"/>
<circle cx="423.50" cy="233.60" r="0.85" fill="#dd5a70"/>
<circle cx="421.00" cy="235.00" r="0.85" fill="#dd5a70"/>
<circle cx="422.70" cy="230.80" r="0.85" fill="#dd5a70"/>
<circle cx="416.60" cy="239.70" r="0.85" fill="#dd5a70"/>
<circle cx="419.20" cy="252.70" r="0.85" fill="#dd5a70"/>
<circle cx="431.00" cy="238.00" r="0.85" fill="#dd5a70"/>
<line x1="418.40" y1="188.90" x2="415.80" y2="193.20" stroke="#555" stroke-width="0.5"/>
<line x1="381.60" y1="183.00" x2="380.20" y2="185.60" stroke="#555" stroke-width="0.5"/>
<line x1="441.20" y1="226.20" x2="443.40" y2="222.80" stroke="#555" stroke-width="0.5"/>
<line x1="444.20" y1="228.60" x2="441.60" y2="225.60" stroke="#555" stroke-width="0.5"/>
<line x1="430.60" y1="239.60" x2="428.80" y2="238.30" stroke="#555" stroke-width="0.5"/>
<line x1="420.00" y1="235.40" x2="422.20" y2="234.30" stroke="#555" stroke-width="0.5"/>
<line x1="357.60" y1="247.20" x2="356.00" y2="245.60" stroke="#555" stroke-width="0.5"/>
<line x1="449.60" y1="207.40" x2="450.00" y2="204.60" stroke="#555" stroke-width="0.5"/>
<circle cx="355.80" cy="157.40" r="0.90" fill="#666b8a"/>
<circle cx="381.30" cy="184.60" r="0.80" fill="#3b4fae"/>
<circle cx="359.00" cy="197.10" r="0.80" fill="#3b4fae"/>
<circle cx="377.50" cy="202.20" r="0.80" fill="#3b4fae"/>
<circle cx="353.30" cy="199.00" r="0.80" fill="#3b4fae"/>
<circle cx="333.00" cy="201.60" r="0.80" fill="#3b4fae"/>
<circle cx="341.50" cy="202.20" r="0.80" fill="#3b4fae"/>
<circle cx="347.70" cy="206.70" r="0.80" fill="#3b4fae"/>
<circle cx="358.10" cy="205.40" r="0.80" fill="#3b4fae"/>
<circle cx="345.50" cy="190.10" r="0.80" fill="#3b4fae"/>
<line x1="384.40" y1="148.30" x2="384.40" y2="287.30" stroke="#b8b8b8" stroke-width="1.1"/>
<line x1="384.40" y1="253.75" x2="384.40" y2="287.30" stroke="#777" stroke-width="0.6" stroke-dasharray="1.2,1.2"/>
<line x1="415.80" y1="148.30" x2="415.80" y2="287.30" stroke="#777" stroke-width="0.7" stroke-dasharray="1.2,1.2"/>
<line x1="313.50" y1="253.75" x2="485.60" y2="253.75" stroke="#888" stroke-width="0.7" stroke-dasharray="1.2,1.2"/>
<rect x="313.5" y="148.3" width="172.10000000000002" height="139.0" fill="none" stroke="#1a1a1a" stroke-width="1"/>
<line x1="310.50" y1="281.10" x2="313.50" y2="281.10" stroke="#1a1a1a" stroke-width="1"/>
<text x="308.20" y="283.30" font-size="6.3" text-anchor="end">0</text>
<line x1="310.50" y1="253.75" x2="313.50" y2="253.75" stroke="#1a1a1a" stroke-width="1"/>
<text x="308.20" y="255.95" font-size="6.3" text-anchor="end">1</text>
<line x1="310.50" y1="226.40" x2="313.50" y2="226.40" stroke="#1a1a1a" stroke-width="1"/>
<text x="308.20" y="228.60" font-size="6.3" text-anchor="end">2</text>
<line x1="310.50" y1="199.05" x2="313.50" y2="199.05" stroke="#1a1a1a" stroke-width="1"/>
<text x="308.20" y="201.25" font-size="6.3" text-anchor="end">3</text>
<line x1="310.50" y1="171.70" x2="313.50" y2="171.70" stroke="#1a1a1a" stroke-width="1"/>
<text x="308.20" y="173.90" font-size="6.3" text-anchor="end">4</text>
<line x1="321.60" y1="287.30" x2="321.60" y2="290.30" stroke="#1a1a1a" stroke-width="1"/>
<text x="321.90" y="298.60" font-size="6.3" text-anchor="middle">≤-5.0</text>
<line x1="360.85" y1="287.30" x2="360.85" y2="290.30" stroke="#1a1a1a" stroke-width="1"/>
<text x="361.15" y="298.60" font-size="6.3" text-anchor="middle">-2.5</text>
<line x1="400.10" y1="287.30" x2="400.10" y2="290.30" stroke="#1a1a1a" stroke-width="1"/>
<text x="400.40" y="298.60" font-size="6.3" text-anchor="middle">0.0</text>
<line x1="439.35" y1="287.30" x2="439.35" y2="290.30" stroke="#1a1a1a" stroke-width="1"/>
<text x="439.65" y="298.60" font-size="6.3" text-anchor="middle">2.5</text>
<line x1="478.60" y1="287.30" x2="478.60" y2="290.30" stroke="#1a1a1a" stroke-width="1"/>
<text x="478.90" y="298.60" font-size="6.3" text-anchor="middle">≥5.0</text>
<text x="375.5" y="310" font-size="6.6" fill="#333" textLength="50" lengthAdjust="spacingAndGlyphs">Log<tspan font-size="4.5" dy="1.8">2</tspan><tspan dy="-1.8"> fold-change</tspan></text>
<text x="0" y="0" font-size="6.6" fill="#333" text-anchor="middle" transform="translate(296.8 218.3) rotate(-90)">-Log<tspan font-size="4.5" dy="1.8">10</tspan><tspan dy="-1.8"> </tspan><tspan font-style="italic">P</tspan>-value</text>
<text x="369.42" y="181.70" font-size="6.5" fill="#1e1e1e" textLength="19.56" lengthAdjust="spacingAndGlyphs">SATB1</text>
<text x="356.48" y="193.60" font-size="6.5" fill="#1e1e1e" textLength="21.78" lengthAdjust="spacingAndGlyphs">MED18</text>
<text x="373.48" y="200.50" font-size="6.5" fill="#1e1e1e" textLength="25.90" lengthAdjust="spacingAndGlyphs">HOXA13</text>
<text x="419.00" y="190.30" font-size="6.5" fill="#1e1e1e" textLength="21.09" lengthAdjust="spacingAndGlyphs">ANXA1</text>
<text x="420.10" y="211.00" font-size="6.5" fill="#1e1e1e" textLength="61.55" lengthAdjust="spacingAndGlyphs">NCF1;NCF1B;NCF1C</text>
<text x="443.76" y="218.40" font-size="6.5" fill="#1e1e1e" textLength="13.22" lengthAdjust="spacingAndGlyphs">HK3</text>
<text x="370.58" y="218.70" font-size="6.5" fill="#1e1e1e" textLength="17.20" lengthAdjust="spacingAndGlyphs">CDK6</text>
<text x="332.42" y="224.30" font-size="6.5" fill="#1e1e1e" textLength="19.78" lengthAdjust="spacingAndGlyphs">SGF29</text>
<text x="356.00" y="223.40" font-size="6.5" fill="#1e1e1e" textLength="13.83" lengthAdjust="spacingAndGlyphs">MYC</text>
<text x="399.50" y="227.60" font-size="6.5" fill="#1e1e1e" textLength="22.95" lengthAdjust="spacingAndGlyphs">CASP14</text>
<text x="423.53" y="228.30" font-size="6.5" fill="#1e1e1e" textLength="18.46" lengthAdjust="spacingAndGlyphs">LASP1</text>
<text x="443.32" y="231.40" font-size="6.5" fill="#1e1e1e" textLength="27.27" lengthAdjust="spacingAndGlyphs">PLEKHA1</text>
<text x="317.50" y="234.30" font-size="6.5" fill="#1e1e1e" textLength="39.31" lengthAdjust="spacingAndGlyphs">MEIS1;MEIS2</text>
<text x="357.89" y="234.30" font-size="6.5" fill="#1e1e1e" textLength="17.53" lengthAdjust="spacingAndGlyphs">TADA3</text>
<text x="401.57" y="237.10" font-size="6.5" fill="#1e1e1e" textLength="17.98" lengthAdjust="spacingAndGlyphs">CNN2</text>
<text x="426.71" y="236.60" font-size="6.5" fill="#1e1e1e" textLength="19.58" lengthAdjust="spacingAndGlyphs">CEBPB</text>
<text x="352.94" y="243.40" font-size="6.5" fill="#1e1e1e" textLength="13.70" lengthAdjust="spacingAndGlyphs">CDK4</text>
<text x="431.00" y="242.50" font-size="6.5" fill="#1e1e1e" textLength="22.32" lengthAdjust="spacingAndGlyphs">GPNMB</text>
<text x="357.49" y="250.20" font-size="6.5" fill="#1e1e1e" textLength="19.84" lengthAdjust="spacingAndGlyphs">KAT2A</text>
<text x="422.44" y="248.70" font-size="6.5" fill="#1e1e1e" textLength="59.20" lengthAdjust="spacingAndGlyphs">SERPINB6;SERPINB8</text>
<line x1="50.10" y1="460.50" x2="53.30" y2="460.50" stroke="#2a2a2a" stroke-width="1"/>
<text x="47.40" y="462.70" font-size="6.2" text-anchor="end" fill="#333">0</text>
<line x1="50.10" y1="436.00" x2="53.30" y2="436.00" stroke="#2a2a2a" stroke-width="1"/>
<text x="47.40" y="438.20" font-size="6.2" text-anchor="end" fill="#333">1x10<tspan font-size="3.6" dy="-2.6">4</tspan></text>
<line x1="50.10" y1="411.50" x2="53.30" y2="411.50" stroke="#2a2a2a" stroke-width="1"/>
<text x="47.40" y="413.70" font-size="6.2" text-anchor="end" fill="#333">2x10<tspan font-size="3.6" dy="-2.6">4</tspan></text>
<line x1="50.10" y1="387.00" x2="53.30" y2="387.00" stroke="#2a2a2a" stroke-width="1"/>
<text x="47.40" y="389.20" font-size="6.2" text-anchor="end" fill="#333">3x10<tspan font-size="3.6" dy="-2.6">4</tspan></text>
<rect x="60.95" y="414.90" width="12.70" height="45.60" fill="#164e8c"/>
<line x1="67.30" y1="393.50" x2="67.30" y2="414.90" stroke="#111" stroke-width="0.8"/>
<line x1="64.50" y1="393.50" x2="70.10" y2="393.50" stroke="#111" stroke-width="1.0"/>
<line x1="67.30" y1="385.40" x2="88.20" y2="385.40" stroke="#8a8a8a" stroke-width="0.8"/>
<line x1="67.30" y1="385.40" x2="67.30" y2="390.40" stroke="#8a8a8a" stroke-width="0.8"/>
<line x1="88.20" y1="385.40" x2="88.20" y2="456.30" stroke="#8a8a8a" stroke-width="0.8"/>
<line x1="53.30" y1="384.60" x2="53.30" y2="461.00" stroke="#2a2a2a" stroke-width="1.2"/>
<line x1="50.70" y1="460.50" x2="102.30" y2="460.50" stroke="#2a2a2a" stroke-width="1.2"/>
<line x1="67.30" y1="460.50" x2="67.30" y2="463.10" stroke="#2a2a2a" stroke-width="1"/>
<line x1="88.20" y1="460.50" x2="88.20" y2="463.10" stroke="#2a2a2a" stroke-width="1"/>
<circle cx="67.30" cy="411.50" r="1.00" fill="#111"/>
<circle cx="67.30" cy="436.00" r="1.00" fill="#111"/>
<circle cx="83.70" cy="460.50" r="1.35" fill="#111"/>
<circle cx="88.20" cy="460.50" r="1.35" fill="#111"/>
<circle cx="92.80" cy="460.50" r="1.35" fill="#111"/>
<text x="66.32" y="373.10" font-size="6.4" fill="#262626" textLength="21.71" lengthAdjust="spacingAndGlyphs">MEIS1</text>
<text x="63.80" y="383.10" font-size="5.6" fill="#333" textLength="27.70" lengthAdjust="spacingAndGlyphs"><tspan font-style="italic">P</tspan> = .0172</text>
<text x="0" y="0" font-size="6.0" fill="#333" text-anchor="end" transform="translate(69.30 470.10) rotate(-45)">NTC-sg1</text>
<text x="0" y="0" font-size="6.0" fill="#333" text-anchor="end" transform="translate(90.20 470.10) rotate(-45)">SGF29-sg1</text>
<line x1="135.60" y1="460.50" x2="138.80" y2="460.50" stroke="#2a2a2a" stroke-width="1"/>
<text x="132.90" y="462.70" font-size="6.2" text-anchor="end" fill="#333">0</text>
<line x1="135.60" y1="442.40" x2="138.80" y2="442.40" stroke="#2a2a2a" stroke-width="1"/>
<text x="132.90" y="444.60" font-size="6.2" text-anchor="end" fill="#333">5x10<tspan font-size="3.6" dy="-2.6">4</tspan></text>
<line x1="135.60" y1="424.30" x2="138.80" y2="424.30" stroke="#2a2a2a" stroke-width="1"/>
<text x="132.90" y="426.50" font-size="6.2" text-anchor="end" fill="#333">1x10<tspan font-size="3.6" dy="-2.6">5</tspan></text>
<line x1="135.60" y1="406.20" x2="138.80" y2="406.20" stroke="#2a2a2a" stroke-width="1"/>
<text x="132.90" y="408.40" font-size="6.2" text-anchor="end" fill="#333">1.5x10<tspan font-size="3.6" dy="-2.6">5</tspan></text>
<line x1="135.60" y1="388.10" x2="138.80" y2="388.10" stroke="#2a2a2a" stroke-width="1"/>
<text x="132.90" y="390.30" font-size="6.2" text-anchor="end" fill="#333">2x10<tspan font-size="3.6" dy="-2.6">5</tspan></text>
<rect x="145.00" y="412.00" width="9.60" height="48.50" fill="#164e8c"/>
<line x1="149.80" y1="395.10" x2="149.80" y2="412.00" stroke="#111" stroke-width="0.8"/>
<line x1="147.00" y1="395.10" x2="152.60" y2="395.10" stroke="#111" stroke-width="1.0"/>
<line x1="149.80" y1="385.40" x2="176.90" y2="385.40" stroke="#8a8a8a" stroke-width="0.8"/>
<line x1="149.80" y1="385.40" x2="149.80" y2="390.40" stroke="#8a8a8a" stroke-width="0.8"/>
<line x1="176.90" y1="385.40" x2="176.90" y2="456.30" stroke="#8a8a8a" stroke-width="0.8"/>
<line x1="138.80" y1="384.60" x2="138.80" y2="461.00" stroke="#2a2a2a" stroke-width="1.2"/>
<line x1="136.20" y1="460.50" x2="187.50" y2="460.50" stroke="#2a2a2a" stroke-width="1.2"/>
<line x1="149.80" y1="460.50" x2="149.80" y2="463.10" stroke="#2a2a2a" stroke-width="1"/>
<line x1="176.90" y1="460.50" x2="176.90" y2="463.10" stroke="#2a2a2a" stroke-width="1"/>
<circle cx="149.80" cy="413.50" r="1.00" fill="#111"/>
<circle cx="149.80" cy="424.50" r="1.00" fill="#111"/>
<circle cx="172.60" cy="460.50" r="1.35" fill="#111"/>
<circle cx="176.90" cy="460.50" r="1.35" fill="#111"/>
<circle cx="181.00" cy="460.50" r="1.35" fill="#111"/>
<text x="154.49" y="373.10" font-size="6.4" fill="#262626" textLength="16.89" lengthAdjust="spacingAndGlyphs">MYC</text>
<text x="149.50" y="383.10" font-size="5.6" fill="#333" textLength="27.40" lengthAdjust="spacingAndGlyphs"><tspan font-style="italic">P</tspan> = .0053</text>
<text x="0" y="0" font-size="6.0" fill="#333" text-anchor="end" transform="translate(151.80 470.10) rotate(-45)">NTC-sg1</text>
<text x="0" y="0" font-size="6.0" fill="#333" text-anchor="end" transform="translate(178.90 470.10) rotate(-45)">SGF29-sg1</text>
<line x1="215.60" y1="460.50" x2="218.80" y2="460.50" stroke="#2a2a2a" stroke-width="1"/>
<text x="212.90" y="462.70" font-size="6.2" text-anchor="end" fill="#333">0</text>
<line x1="215.60" y1="445.75" x2="218.80" y2="445.75" stroke="#2a2a2a" stroke-width="1"/>
<text x="212.90" y="447.95" font-size="6.2" text-anchor="end" fill="#333">2x10<tspan font-size="3.6" dy="-2.6">5</tspan></text>
<line x1="215.60" y1="431.00" x2="218.80" y2="431.00" stroke="#2a2a2a" stroke-width="1"/>
<text x="212.90" y="433.20" font-size="6.2" text-anchor="end" fill="#333">4x10<tspan font-size="3.6" dy="-2.6">5</tspan></text>
<line x1="215.60" y1="416.25" x2="218.80" y2="416.25" stroke="#2a2a2a" stroke-width="1"/>
<text x="212.90" y="418.45" font-size="6.2" text-anchor="end" fill="#333">6x10<tspan font-size="3.6" dy="-2.6">5</tspan></text>
<line x1="215.60" y1="401.50" x2="218.80" y2="401.50" stroke="#2a2a2a" stroke-width="1"/>
<text x="212.90" y="403.70" font-size="6.2" text-anchor="end" fill="#333">8x10<tspan font-size="3.6" dy="-2.6">5</tspan></text>
<line x1="215.60" y1="386.75" x2="218.80" y2="386.75" stroke="#2a2a2a" stroke-width="1"/>
<text x="212.90" y="388.95" font-size="6.2" text-anchor="end" fill="#333">1x10<tspan font-size="3.6" dy="-2.6">6</tspan></text>
<line x1="217.20" y1="453.12" x2="218.80" y2="453.12" stroke="#2a2a2a" stroke-width="0.8"/>
<line x1="217.20" y1="438.38" x2="218.80" y2="438.38" stroke="#2a2a2a" stroke-width="0.8"/>
<line x1="217.20" y1="423.62" x2="218.80" y2="423.62" stroke="#2a2a2a" stroke-width="0.8"/>
<line x1="217.20" y1="408.88" x2="218.80" y2="408.88" stroke="#2a2a2a" stroke-width="0.8"/>
<line x1="217.20" y1="394.12" x2="218.80" y2="394.12" stroke="#2a2a2a" stroke-width="0.8"/>
<rect x="224.70" y="405.10" width="10.20" height="55.40" fill="#164e8c"/>
<rect x="252.10" y="440.80" width="10.20" height="19.70" fill="#d3102e"/>
<line x1="229.80" y1="397.90" x2="229.80" y2="405.10" stroke="#111" stroke-width="0.8"/>
<line x1="227.00" y1="397.90" x2="232.60" y2="397.90" stroke="#111" stroke-width="1.0"/>
<line x1="257.20" y1="435.10" x2="257.20" y2="440.80" stroke="#111" stroke-width="0.8"/>
<line x1="254.40" y1="435.10" x2="260.00" y2="435.10" stroke="#111" stroke-width="1.0"/>
<line x1="229.80" y1="387.70" x2="257.20" y2="387.70" stroke="#8a8a8a" stroke-width="0.8"/>
<line x1="229.80" y1="387.70" x2="229.80" y2="392.70" stroke="#8a8a8a" stroke-width="0.8"/>
<line x1="257.20" y1="387.70" x2="257.20" y2="434.00" stroke="#8a8a8a" stroke-width="0.8"/>
<line x1="218.80" y1="384.60" x2="218.80" y2="461.00" stroke="#2a2a2a" stroke-width="1.2"/>
<line x1="216.20" y1="460.50" x2="267.70" y2="460.50" stroke="#2a2a2a" stroke-width="1.2"/>
<line x1="229.80" y1="460.50" x2="229.80" y2="463.10" stroke="#2a2a2a" stroke-width="1"/>
<line x1="257.20" y1="460.50" x2="257.20" y2="463.10" stroke="#2a2a2a" stroke-width="1"/>
<circle cx="229.80" cy="404.50" r="1.00" fill="#111"/>
<circle cx="229.80" cy="410.00" r="1.00" fill="#111"/>
<circle cx="257.20" cy="440.00" r="1.35" fill="#111"/>
<circle cx="257.20" cy="444.50" r="1.35" fill="#111"/>
<text x="228.39" y="373.00" font-size="6.4" fill="#262626" textLength="30.13" lengthAdjust="spacingAndGlyphs">HOXA13</text>
<text x="230.20" y="383.00" font-size="5.6" fill="#333" textLength="26.80" lengthAdjust="spacingAndGlyphs"><tspan font-style="italic">P</tspan> = .0014</text>
<text x="0" y="0" font-size="6.0" fill="#333" text-anchor="end" transform="translate(231.80 470.10) rotate(-45)">NTC-sg1</text>
<text x="0" y="0" font-size="6.0" fill="#333" text-anchor="end" transform="translate(259.20 470.10) rotate(-45)">SGF29-sg1</text>
<line x1="295.60" y1="460.50" x2="298.80" y2="460.50" stroke="#2a2a2a" stroke-width="1"/>
<text x="292.90" y="462.70" font-size="6.2" text-anchor="end" fill="#333">0</text>
<line x1="295.60" y1="442.40" x2="298.80" y2="442.40" stroke="#2a2a2a" stroke-width="1"/>
<text x="292.90" y="444.60" font-size="6.2" text-anchor="end" fill="#333">2x10<tspan font-size="3.6" dy="-2.6">6</tspan></text>
<line x1="295.60" y1="424.30" x2="298.80" y2="424.30" stroke="#2a2a2a" stroke-width="1"/>
<text x="292.90" y="426.50" font-size="6.2" text-anchor="end" fill="#333">4x10<tspan font-size="3.6" dy="-2.6">6</tspan></text>
<line x1="295.60" y1="406.20" x2="298.80" y2="406.20" stroke="#2a2a2a" stroke-width="1"/>
<text x="292.90" y="408.40" font-size="6.2" text-anchor="end" fill="#333">6x10<tspan font-size="3.6" dy="-2.6">6</tspan></text>
<line x1="295.60" y1="388.10" x2="298.80" y2="388.10" stroke="#2a2a2a" stroke-width="1"/>
<text x="292.90" y="390.30" font-size="6.2" text-anchor="end" fill="#333">8x10<tspan font-size="3.6" dy="-2.6">6</tspan></text>
<rect x="305.40" y="401.00" width="9.60" height="59.50" fill="#164e8c"/>
<rect x="332.90" y="433.90" width="9.60" height="26.60" fill="#d3102e"/>
<line x1="310.20" y1="396.90" x2="310.20" y2="401.00" stroke="#111" stroke-width="0.8"/>
<line x1="307.40" y1="396.90" x2="313.00" y2="396.90" stroke="#111" stroke-width="1.0"/>
<line x1="337.70" y1="430.50" x2="337.70" y2="433.90" stroke="#111" stroke-width="0.8"/>
<line x1="334.90" y1="430.50" x2="340.50" y2="430.50" stroke="#111" stroke-width="1.0"/>
<line x1="310.20" y1="386.80" x2="337.70" y2="386.80" stroke="#8a8a8a" stroke-width="0.8"/>
<line x1="310.20" y1="386.80" x2="310.20" y2="391.80" stroke="#8a8a8a" stroke-width="0.8"/>
<line x1="337.70" y1="386.80" x2="337.70" y2="424.70" stroke="#8a8a8a" stroke-width="0.8"/>
<line x1="298.80" y1="384.60" x2="298.80" y2="461.00" stroke="#2a2a2a" stroke-width="1.2"/>
<line x1="296.20" y1="460.50" x2="348.90" y2="460.50" stroke="#2a2a2a" stroke-width="1.2"/>
<line x1="310.20" y1="460.50" x2="310.20" y2="463.10" stroke="#2a2a2a" stroke-width="1"/>
<line x1="337.70" y1="460.50" x2="337.70" y2="463.10" stroke="#2a2a2a" stroke-width="1"/>
<circle cx="310.20" cy="398.50" r="1.00" fill="#111"/>
<circle cx="310.20" cy="403.00" r="1.00" fill="#111"/>
<circle cx="337.70" cy="431.50" r="1.35" fill="#111"/>
<circle cx="337.70" cy="437.50" r="1.35" fill="#111"/>
<text x="312.06" y="373.00" font-size="6.4" fill="#262626" textLength="23.17" lengthAdjust="spacingAndGlyphs">SATB1</text>
<text x="310.70" y="383.00" font-size="5.6" fill="#333" textLength="26.80" lengthAdjust="spacingAndGlyphs"><tspan font-style="italic">P</tspan> = .0003</text>
<text x="0" y="0" font-size="6.0" fill="#333" text-anchor="end" transform="translate(312.20 470.10) rotate(-45)">NTC-sg1</text>
<text x="0" y="0" font-size="6.0" fill="#333" text-anchor="end" transform="translate(339.70 470.10) rotate(-45)">SGF29-sg1</text>
<line x1="90.70" y1="612.40" x2="93.90" y2="612.40" stroke="#2a2a2a" stroke-width="1"/>
<text x="88.00" y="614.60" font-size="6.2" text-anchor="end" fill="#333">0</text>
<line x1="90.70" y1="598.60" x2="93.90" y2="598.60" stroke="#2a2a2a" stroke-width="1"/>
<text x="88.00" y="600.80" font-size="6.2" text-anchor="end" fill="#333">5x10<tspan font-size="3.6" dy="-2.6">4</tspan></text>
<line x1="90.70" y1="584.80" x2="93.90" y2="584.80" stroke="#2a2a2a" stroke-width="1"/>
<text x="88.00" y="587.00" font-size="6.2" text-anchor="end" fill="#333">1x10<tspan font-size="3.6" dy="-2.6">5</tspan></text>
<line x1="90.70" y1="571.00" x2="93.90" y2="571.00" stroke="#2a2a2a" stroke-width="1"/>
<text x="88.00" y="573.20" font-size="6.2" text-anchor="end" fill="#333">1.5x10<tspan font-size="3.6" dy="-2.6">5</tspan></text>
<line x1="90.70" y1="557.20" x2="93.90" y2="557.20" stroke="#2a2a2a" stroke-width="1"/>
<text x="88.00" y="559.40" font-size="6.2" text-anchor="end" fill="#333">2x10<tspan font-size="3.6" dy="-2.6">5</tspan></text>
<line x1="90.70" y1="543.40" x2="93.90" y2="543.40" stroke="#2a2a2a" stroke-width="1"/>
<text x="88.00" y="545.60" font-size="6.2" text-anchor="end" fill="#333">2.5x10<tspan font-size="3.6" dy="-2.6">5</tspan></text>
<rect x="99.70" y="570.10" width="9.20" height="42.30" fill="#164e8c"/>
<line x1="104.30" y1="555.60" x2="104.30" y2="570.10" stroke="#111" stroke-width="0.8"/>
<line x1="101.50" y1="555.60" x2="107.10" y2="555.60" stroke="#111" stroke-width="1.0"/>
<line x1="104.30" y1="546.90" x2="131.30" y2="546.90" stroke="#8a8a8a" stroke-width="0.8"/>
<line x1="104.30" y1="546.90" x2="104.30" y2="551.90" stroke="#8a8a8a" stroke-width="0.8"/>
<line x1="131.30" y1="546.90" x2="131.30" y2="608.50" stroke="#8a8a8a" stroke-width="0.8"/>
<line x1="93.90" y1="540.20" x2="93.90" y2="612.90" stroke="#2a2a2a" stroke-width="1.2"/>
<line x1="91.30" y1="612.40" x2="142.50" y2="612.40" stroke="#2a2a2a" stroke-width="1.2"/>
<line x1="104.30" y1="612.40" x2="104.30" y2="615.00" stroke="#2a2a2a" stroke-width="1"/>
<line x1="131.30" y1="612.40" x2="131.30" y2="615.00" stroke="#2a2a2a" stroke-width="1"/>
<circle cx="104.30" cy="575.50" r="1.00" fill="#111"/>
<circle cx="104.30" cy="584.50" r="1.00" fill="#111"/>
<circle cx="127.10" cy="612.40" r="1.35" fill="#111"/>
<circle cx="131.30" cy="612.40" r="1.35" fill="#111"/>
<circle cx="135.60" cy="612.40" r="1.35" fill="#111"/>
<text x="106.28" y="520.70" font-size="6.4" fill="#262626" textLength="22.87" lengthAdjust="spacingAndGlyphs">SGF29</text>
<text x="104.50" y="530.70" font-size="5.6" fill="#333" textLength="27.50" lengthAdjust="spacingAndGlyphs"><tspan font-style="italic">P</tspan> = .0057</text>
<text x="0" y="0" font-size="6.0" fill="#333" text-anchor="end" transform="translate(106.30 622.00) rotate(-45)">NTC-sg1</text>
<text x="0" y="0" font-size="6.0" fill="#333" text-anchor="end" transform="translate(133.30 622.00) rotate(-45)">SGF29-sg1</text>
<line x1="175.50" y1="612.40" x2="178.70" y2="612.40" stroke="#2a2a2a" stroke-width="1"/>
<text x="172.80" y="614.60" font-size="6.2" text-anchor="end" fill="#333">0</text>
<line x1="175.50" y1="589.35" x2="178.70" y2="589.35" stroke="#2a2a2a" stroke-width="1"/>
<text x="172.80" y="591.55" font-size="6.2" text-anchor="end" fill="#333">5x10<tspan font-size="3.6" dy="-2.6">4</tspan></text>
<line x1="175.50" y1="566.30" x2="178.70" y2="566.30" stroke="#2a2a2a" stroke-width="1"/>
<text x="172.80" y="568.50" font-size="6.2" text-anchor="end" fill="#333">1x10<tspan font-size="3.6" dy="-2.6">5</tspan></text>
<line x1="175.50" y1="543.25" x2="178.70" y2="543.25" stroke="#2a2a2a" stroke-width="1"/>
<text x="172.80" y="545.45" font-size="6.2" text-anchor="end" fill="#333">1.5x10<tspan font-size="3.6" dy="-2.6">5</tspan></text>
<rect x="185.05" y="548.60" width="9.50" height="63.80" fill="#164e8c"/>
<rect x="212.35" y="583.90" width="9.50" height="28.50" fill="#d3102e"/>
<line x1="189.80" y1="544.00" x2="189.80" y2="548.60" stroke="#111" stroke-width="0.8"/>
<line x1="187.00" y1="544.00" x2="192.60" y2="544.00" stroke="#111" stroke-width="1.0"/>
<line x1="217.10" y1="564.00" x2="217.10" y2="583.90" stroke="#111" stroke-width="0.8"/>
<line x1="214.30" y1="564.00" x2="219.90" y2="564.00" stroke="#111" stroke-width="1.0"/>
<line x1="189.80" y1="535.30" x2="217.10" y2="535.30" stroke="#8a8a8a" stroke-width="0.8"/>
<line x1="189.80" y1="535.30" x2="189.80" y2="540.30" stroke="#8a8a8a" stroke-width="0.8"/>
<line x1="217.10" y1="535.30" x2="217.10" y2="562.50" stroke="#8a8a8a" stroke-width="0.8"/>
<line x1="178.70" y1="540.20" x2="178.70" y2="612.90" stroke="#2a2a2a" stroke-width="1.2"/>
<line x1="176.10" y1="612.40" x2="227.70" y2="612.40" stroke="#2a2a2a" stroke-width="1.2"/>
<line x1="189.80" y1="612.40" x2="189.80" y2="615.00" stroke="#2a2a2a" stroke-width="1"/>
<line x1="217.10" y1="612.40" x2="217.10" y2="615.00" stroke="#2a2a2a" stroke-width="1"/>
<circle cx="189.80" cy="546.50" r="1.00" fill="#111"/>
<circle cx="189.80" cy="549.50" r="1.00" fill="#111"/>
<circle cx="217.10" cy="570.60" r="1.35" fill="#111"/>
<circle cx="217.10" cy="573.70" r="1.35" fill="#111"/>
<circle cx="217.10" cy="604.80" r="1.35" fill="#111"/>
<text x="191.18" y="520.70" font-size="6.4" fill="#262626" textLength="23.85" lengthAdjust="spacingAndGlyphs">KAT2A</text>
<text x="189.70" y="530.00" font-size="5.6" fill="#333" textLength="27.50" lengthAdjust="spacingAndGlyphs"><tspan font-style="italic">P</tspan> = .0329</text>
<text x="0" y="0" font-size="6.0" fill="#333" text-anchor="end" transform="translate(191.80 622.00) rotate(-45)">NTC-sg1</text>
<text x="0" y="0" font-size="6.0" fill="#333" text-anchor="end" transform="translate(219.10 622.00) rotate(-45)">SGF29-sg1</text>
<line x1="261.80" y1="612.40" x2="265.00" y2="612.40" stroke="#2a2a2a" stroke-width="1"/>
<text x="259.10" y="614.60" font-size="6.2" text-anchor="end" fill="#333">0</text>
<line x1="261.80" y1="595.20" x2="265.00" y2="595.20" stroke="#2a2a2a" stroke-width="1"/>
<text x="259.10" y="597.40" font-size="6.2" text-anchor="end" fill="#333">5x10<tspan font-size="3.6" dy="-2.6">4</tspan></text>
<line x1="261.80" y1="578.00" x2="265.00" y2="578.00" stroke="#2a2a2a" stroke-width="1"/>
<text x="259.10" y="580.20" font-size="6.2" text-anchor="end" fill="#333">1x10<tspan font-size="3.6" dy="-2.6">5</tspan></text>
<line x1="261.80" y1="560.80" x2="265.00" y2="560.80" stroke="#2a2a2a" stroke-width="1"/>
<text x="259.10" y="563.00" font-size="6.2" text-anchor="end" fill="#333">1.5x10<tspan font-size="3.6" dy="-2.6">5</tspan></text>
<line x1="261.80" y1="543.60" x2="265.00" y2="543.60" stroke="#2a2a2a" stroke-width="1"/>
<text x="259.10" y="545.80" font-size="6.2" text-anchor="end" fill="#333">2x10<tspan font-size="3.6" dy="-2.6">5</tspan></text>
<rect x="270.75" y="564.20" width="9.50" height="48.20" fill="#164e8c"/>
<rect x="297.75" y="593.40" width="9.50" height="19.00" fill="#d3102e"/>
<line x1="275.50" y1="556.00" x2="275.50" y2="564.20" stroke="#111" stroke-width="0.8"/>
<line x1="272.70" y1="556.00" x2="278.30" y2="556.00" stroke="#111" stroke-width="1.0"/>
<line x1="302.50" y1="579.70" x2="302.50" y2="593.40" stroke="#111" stroke-width="0.8"/>
<line x1="299.70" y1="579.70" x2="305.30" y2="579.70" stroke="#111" stroke-width="1.0"/>
<line x1="275.50" y1="546.90" x2="302.50" y2="546.90" stroke="#8a8a8a" stroke-width="0.8"/>
<line x1="275.50" y1="546.90" x2="275.50" y2="551.90" stroke="#8a8a8a" stroke-width="0.8"/>
<line x1="302.50" y1="546.90" x2="302.50" y2="578.00" stroke="#8a8a8a" stroke-width="0.8"/>
<line x1="265.00" y1="540.20" x2="265.00" y2="612.90" stroke="#2a2a2a" stroke-width="1.2"/>
<line x1="262.40" y1="612.40" x2="313.00" y2="612.40" stroke="#2a2a2a" stroke-width="1.2"/>
<line x1="275.50" y1="612.40" x2="275.50" y2="615.00" stroke="#2a2a2a" stroke-width="1"/>
<line x1="302.50" y1="612.40" x2="302.50" y2="615.00" stroke="#2a2a2a" stroke-width="1"/>
<circle cx="275.50" cy="562.00" r="1.00" fill="#111"/>
<circle cx="275.50" cy="572.00" r="1.00" fill="#111"/>
<circle cx="302.50" cy="582.80" r="1.35" fill="#111"/>
<circle cx="302.50" cy="587.50" r="1.35" fill="#111"/>
<circle cx="302.50" cy="608.20" r="1.35" fill="#111"/>
<text x="276.84" y="520.70" font-size="6.4" fill="#262626" textLength="24.76" lengthAdjust="spacingAndGlyphs">TADA3</text>
<text x="276.00" y="530.00" font-size="5.6" fill="#333" textLength="27.00" lengthAdjust="spacingAndGlyphs"><tspan font-style="italic">P</tspan> = .0299</text>
<text x="0" y="0" font-size="6.0" fill="#333" text-anchor="end" transform="translate(277.50 622.00) rotate(-45)">NTC-sg1</text>
<text x="0" y="0" font-size="6.0" fill="#333" text-anchor="end" transform="translate(304.50 622.00) rotate(-45)">SGF29-sg1</text>
<text x="0" y="0" font-size="6.8" fill="#333" text-anchor="middle" transform="translate(25.9 422.2) rotate(-90)" textLength="25.7" lengthAdjust="spacingAndGlyphs">Intensity</text>
<text x="0" y="0" font-size="6.8" fill="#333" text-anchor="middle" transform="translate(61.2 576.0) rotate(-90)" textLength="25.7" lengthAdjust="spacingAndGlyphs">Intensity</text>
<text x="174.61" y="361.50" font-size="8.2" fill="#687890" textLength="52.18" lengthAdjust="spacingAndGlyphs" style="stroke:#687890">Oncoproteins</text>
<text x="157.60" y="509.50" font-size="8.2" fill="#687890" textLength="91.39" lengthAdjust="spacingAndGlyphs" style="stroke:#687890">STAGA/ATAC Complex</text>
<path d="M148.20,397.64 L151.40,397.64 L149.80,394.76 Z" fill="#111"/>
<path d="M228.20,398.84 L231.40,398.84 L229.80,395.96 Z" fill="#111"/>
<path d="M102.70,558.24 L105.90,558.24 L104.30,555.36 Z" fill="#111"/>
<path d="M188.20,546.44 L191.40,546.44 L189.80,543.56 Z" fill="#111"/>
<path d="M273.90,556.06 L277.10,556.06 L275.50,558.94 Z" fill="#111"/>
<rect x="308.30" y="397.20" width="3.80" height="2.20" fill="#111"/>
<rect x="335.80" y="430.60" width="3.80" height="2.20" fill="#111"/>
<defs><linearGradient id="rep1" x1="0" y1="0" x2="0" y2="1"><stop offset="0" stop-color="#c9c9c9"/><stop offset="0.08" stop-color="#c2c2c2"/><stop offset="0.3" stop-color="#bfbfbf"/><stop offset="0.34" stop-color="#c6c6c6"/><stop offset="0.37" stop-color="#d5d5d5"/><stop offset="0.65" stop-color="#d6d6d6"/><stop offset="0.7" stop-color="#d3d3d3"/><stop offset="0.97" stop-color="#d6d6d6"/><stop offset="1" stop-color="#dadada"/></linearGradient><linearGradient id="rep2" x1="0" y1="0" x2="0" y2="1"><stop offset="0" stop-color="#d0d0d0"/><stop offset="0.3" stop-color="#d4d4d4"/><stop offset="0.36" stop-color="#d9d9d9"/><stop offset="0.7" stop-color="#dadada"/><stop offset="0.74" stop-color="#e4e4e4"/><stop offset="1" stop-color="#e9e9e9"/></linearGradient><filter id="soft" x="-50%" y="-50%" width="200%" height="200%"><feGaussianBlur stdDeviation="0.35"/></filter></defs>
<rect x="386.50" y="441.80" width="101.60" height="52.00" fill="url(#rep1)"/>
<rect x="386.50" y="495.80" width="101.60" height="59.50" fill="url(#rep2)"/>
<ellipse cx="456" cy="507" rx="18" ry="7" fill="#cdcdcd" opacity="0.6" filter="url(#soft)"/>
<ellipse cx="469" cy="451.5" rx="4" ry="4" fill="#b4b4b4" opacity="0.6" filter="url(#soft)"/>
<g filter="url(#soft)">
<circle cx="392.30" cy="451.40" r="2.90" fill="#707070"/>
<circle cx="409.60" cy="451.50" r="2.60" fill="#bababa"/>
<circle cx="426.40" cy="451.00" r="3.30" fill="#080808"/>
<circle cx="442.80" cy="451.00" r="2.80" fill="#282828"/>
<circle cx="442.80" cy="451.00" r="1.40" fill="#787878"/>
<circle cx="460.30" cy="451.20" r="2.60" fill="#787878"/>
<circle cx="460.30" cy="451.20" r="1.30" fill="#a5a5a5"/>
<circle cx="477.00" cy="452.00" r="3.10" fill="#141414"/>
<circle cx="393.20" cy="468.00" r="2.90" fill="#a8a8a8"/>
<circle cx="410.00" cy="465.90" r="3.10" fill="#7a7a7a"/>
<circle cx="443.50" cy="467.50" r="3.10" fill="#969696"/>
<circle cx="462.50" cy="467.80" r="3.20" fill="#5f5f5f"/>
<circle cx="392.70" cy="483.20" r="3.50" fill="#050505"/>
<circle cx="425.40" cy="483.60" r="2.70" fill="#c8c8c8"/>
<circle cx="442.20" cy="483.00" r="3.60" fill="#050505"/>
<circle cx="479.00" cy="484.00" r="2.70" fill="#b9b9b9"/>
<circle cx="479.00" cy="484.00" r="1.35" fill="#d7d7d7"/>
<circle cx="394.90" cy="508.40" r="2.80" fill="#a5a5a5"/>
<circle cx="431.50" cy="507.70" r="3.00" fill="#646464"/>
<circle cx="446.60" cy="507.20" r="2.80" fill="#a0a0a0"/>
<circle cx="446.60" cy="507.20" r="1.40" fill="#b4b4b4"/>
<circle cx="462.80" cy="507.20" r="3.00" fill="#b4b4b4"/>
<circle cx="462.80" cy="507.20" r="1.50" fill="#cdcdcd"/>
<circle cx="479.70" cy="506.30" r="3.10" fill="#0c0c0c"/>
<circle cx="395.10" cy="524.40" r="3.10" fill="#949494"/>
<circle cx="413.30" cy="526.40" r="3.20" fill="#8a8a8a"/>
<circle cx="444.90" cy="528.40" r="3.10" fill="#989898"/>
<circle cx="463.80" cy="530.30" r="3.20" fill="#848484"/>
<circle cx="393.60" cy="548.60" r="3.30" fill="#050505"/>
<circle cx="428.50" cy="547.70" r="2.60" fill="#c8c8c8"/>
<circle cx="428.50" cy="547.70" r="1.30" fill="#d7d7d7"/>
<circle cx="444.60" cy="548.20" r="3.10" fill="#050505"/>
<circle cx="479.70" cy="548.20" r="2.70" fill="#cdcdcd"/>
<circle cx="479.70" cy="548.20" r="1.35" fill="#dadada"/>
</g>
<rect x="386.5" y="384.2" width="101.6" height="171.1" fill="none" stroke="#2a2a2a" stroke-width="1"/>
<line x1="436.20" y1="384.20" x2="436.20" y2="555.30" stroke="#2a2a2a" stroke-width="1.1"/>
<text x="0" y="0" font-size="6.9" fill="#262626" transform="translate(394.90000000000003 437.7) rotate(-90)" textLength="28.8" lengthAdjust="spacingAndGlyphs">Chromatin</text>
<text x="0" y="0" font-size="6.9" fill="#262626" transform="translate(411.8 437.7) rotate(-90)" textLength="29.5" lengthAdjust="spacingAndGlyphs">Cytoplasm</text>
<text x="0" y="0" font-size="6.9" fill="#262626" transform="translate(428.40000000000003 437.7) rotate(-90)" textLength="50.8" lengthAdjust="spacingAndGlyphs">Whole cell extract</text>
<text x="0" y="0" font-size="6.9" fill="#262626" transform="translate(444.6 437.7) rotate(-90)" textLength="28.8" lengthAdjust="spacingAndGlyphs">Chromatin</text>
<text x="0" y="0" font-size="6.9" fill="#262626" transform="translate(461.90000000000003 437.7) rotate(-90)" textLength="29.5" lengthAdjust="spacingAndGlyphs">Cytoplasm</text>
<text x="0" y="0" font-size="6.9" fill="#262626" transform="translate(479.2 437.7) rotate(-90)" textLength="50.8" lengthAdjust="spacingAndGlyphs">Whole cell extract</text>
<text x="490.66" y="452.90" font-size="6.4" fill="#262626" textLength="20.76" lengthAdjust="spacingAndGlyphs">KAT2A</text>
<text x="491.17" y="469.50" font-size="6.4" fill="#262626" textLength="22.51" lengthAdjust="spacingAndGlyphs">Vinculin</text>
<text x="490.69" y="486.00" font-size="6.4" fill="#262626" textLength="8.08" lengthAdjust="spacingAndGlyphs">H3</text>
<text x="490.66" y="507.20" font-size="6.4" fill="#262626" textLength="20.76" lengthAdjust="spacingAndGlyphs">KAT2A</text>
<text x="491.17" y="529.30" font-size="6.4" fill="#262626" textLength="22.51" lengthAdjust="spacingAndGlyphs">Vinculin</text>
<text x="490.69" y="548.70" font-size="6.4" fill="#262626" textLength="8.08" lengthAdjust="spacingAndGlyphs">H3</text>
<text x="0" y="0" font-size="7.3" fill="#333" text-anchor="middle" transform="translate(382.0 468.0) rotate(-90)" textLength="35" lengthAdjust="spacingAndGlyphs">Replicate 1</text>
<text x="0" y="0" font-size="7.3" fill="#333" text-anchor="middle" transform="translate(381.8 525.4) rotate(-90)" textLength="35.5" lengthAdjust="spacingAndGlyphs">Replicate 2</text>
<text x="396.96" y="565.00" font-size="6.6" fill="#262626" textLength="27.05" lengthAdjust="spacingAndGlyphs">NTC-sg1</text>
<text x="444.71" y="565.00" font-size="6.6" fill="#262626" textLength="32.60" lengthAdjust="spacingAndGlyphs">SGF29-sg1</text>
<rect x="0.5" y="0.5" width="519" height="651" fill="none" stroke="#5a5a5a" stroke-width="1"/>
</svg>
</body></html>
